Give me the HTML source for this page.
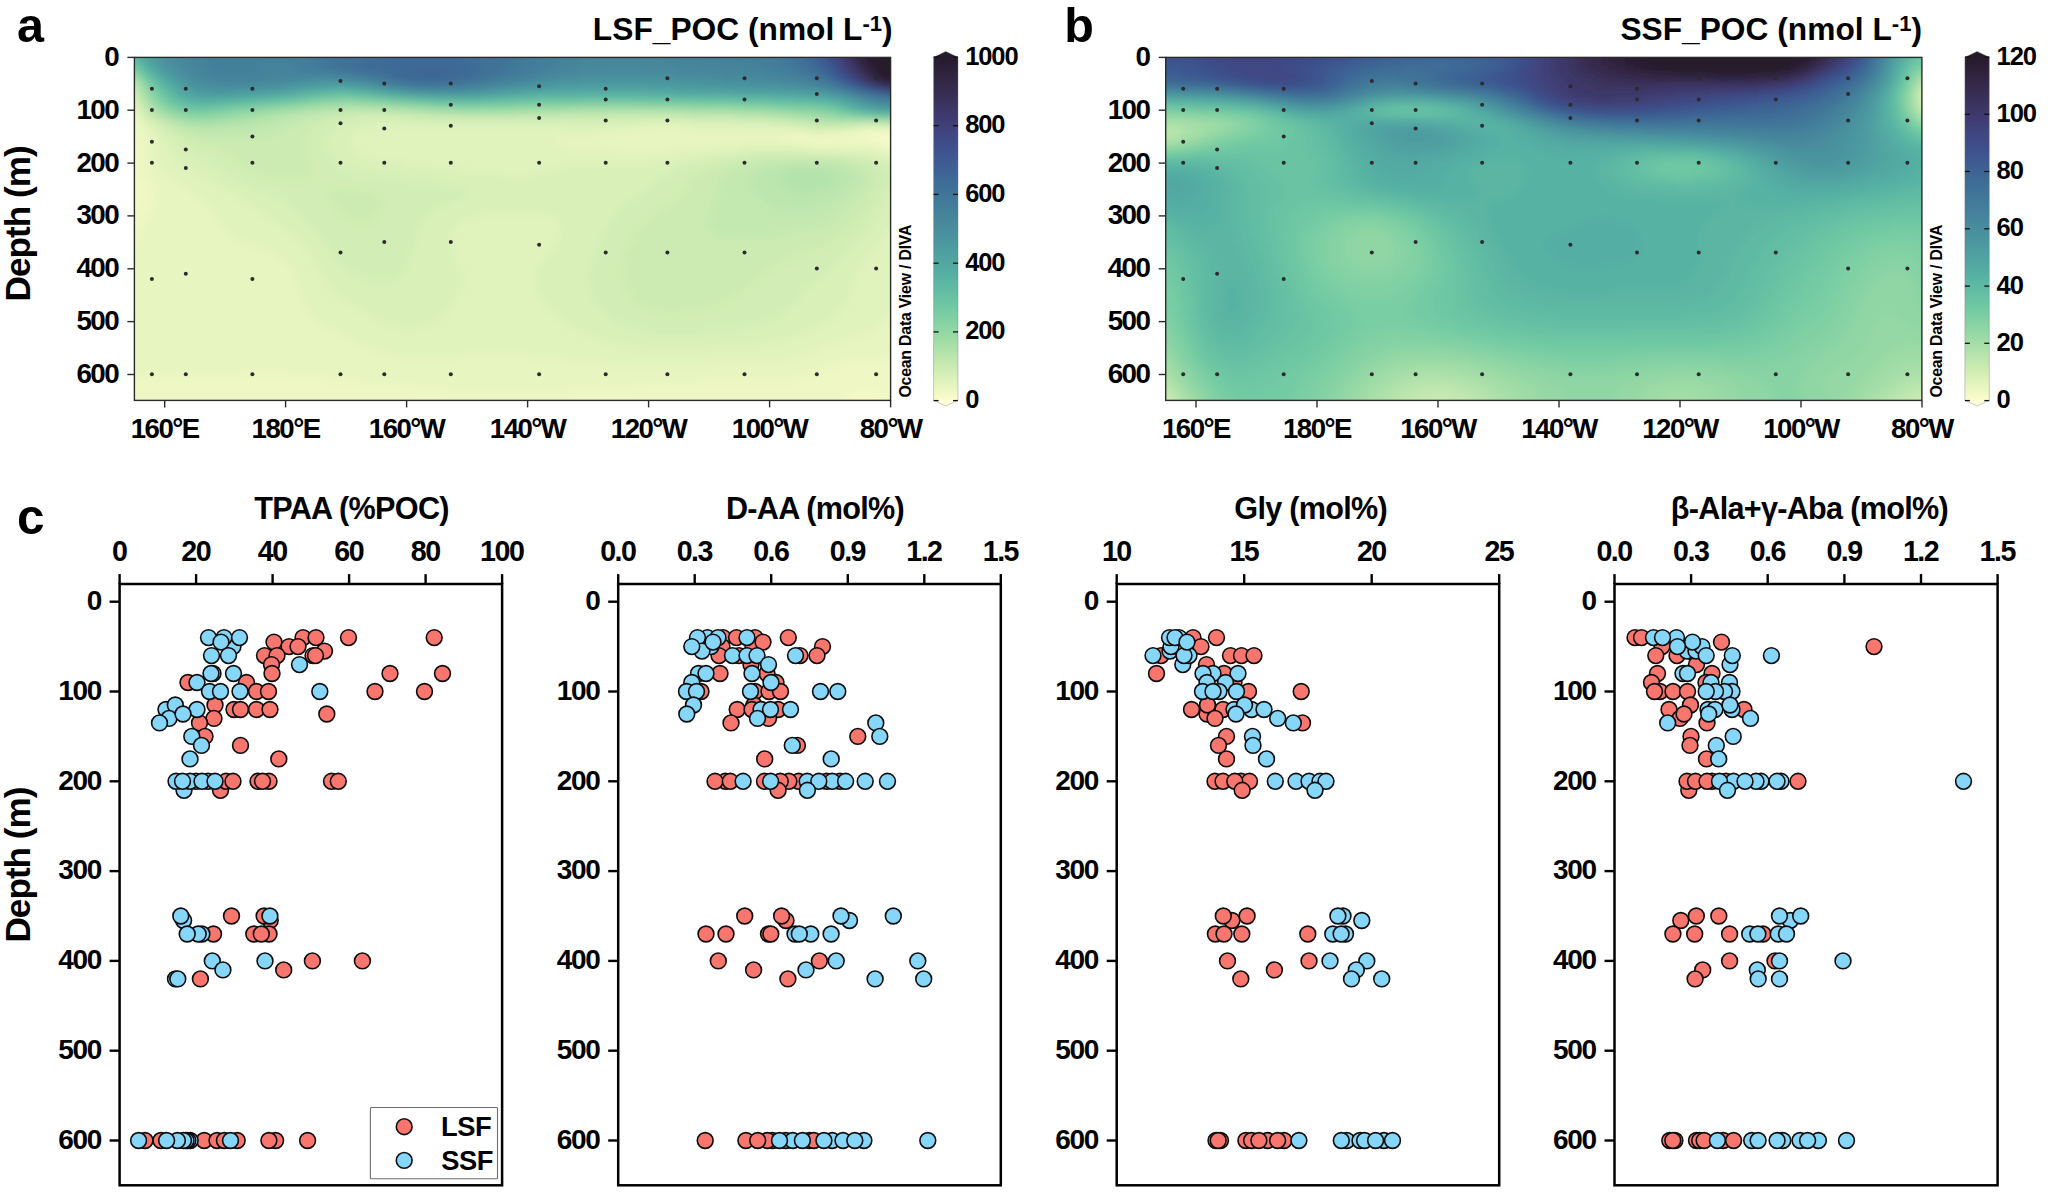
<!DOCTYPE html><html><head><meta charset="utf-8"><title>Figure</title>
<style>html,body{margin:0;padding:0;background:#fff}svg{display:block}</style></head><body>
<svg width="2048" height="1200" viewBox="0 0 2048 1200" font-family='"Liberation Sans", Arial, sans-serif' font-weight="bold" fill="#000">
<rect width="2048" height="1200" fill="#fff"/>
<defs><filter id="blur" x="-5%" y="-5%" width="110%" height="110%"><feGaussianBlur stdDeviation="4"/></filter></defs>
<clipPath id="clipa"><rect x="134.4" y="57.4" width="756.2" height="343.0"/></clipPath>
<g clip-path="url(#clipa)"><g filter="url(#blur)">
<path fill="#f6fac8" d="M863 133h42.5v4.5h-42.5zM869 137h36.5v4.5h-36.5zM884 141h21.5v4.5h-21.5zM122 177h12.5v4.5h-12.5zM122 181h15.5v4.5h-15.5zM122 185h15.5v4.5h-15.5zM122 189h15.5v4.5h-15.5zM122 193h15.5v4.5h-15.5zM122 197h15.5v4.5h-15.5zM122 201h12.5v4.5h-12.5zM854 393h24.5v4.5h-24.5zM845 397h60.5v4.5h-60.5zM845 401h60.5v4.5h-60.5zM845 405h60.5v4.5h-60.5zM845 409h60.5v4.5h-60.5z"/>
<path fill="#eff8c4" d="M122 113h12.5v4.5h-12.5zM122 117h15.5v4.5h-15.5zM122 121h15.5v4.5h-15.5zM122 125h18.5v4.5h-18.5zM122 129h18.5v4.5h-18.5zM857 129h48.5v4.5h-48.5zM122 133h21.5v4.5h-21.5zM788 133h21.5v4.5h-21.5zM827 133h36.5v4.5h-36.5zM122 137h21.5v4.5h-21.5zM782 137h87.5v4.5h-87.5zM122 141h21.5v4.5h-21.5zM806 141h78.5v4.5h-78.5zM122 145h21.5v4.5h-21.5zM878 145h27.5v4.5h-27.5zM122 149h21.5v4.5h-21.5zM122 153h21.5v4.5h-21.5zM122 157h21.5v4.5h-21.5zM122 161h21.5v4.5h-21.5zM122 165h21.5v4.5h-21.5zM122 169h21.5v4.5h-21.5zM122 173h24.5v4.5h-24.5zM134 177h15.5v4.5h-15.5zM137 181h15.5v4.5h-15.5zM137 185h15.5v4.5h-15.5zM137 189h18.5v4.5h-18.5zM137 193h18.5v4.5h-18.5zM137 197h18.5v4.5h-18.5zM134 201h21.5v4.5h-21.5zM122 205h30.5v4.5h-30.5zM122 209h30.5v4.5h-30.5zM122 213h27.5v4.5h-27.5zM122 217h24.5v4.5h-24.5zM122 221h21.5v4.5h-21.5zM122 225h21.5v4.5h-21.5zM122 229h18.5v4.5h-18.5zM122 233h15.5v4.5h-15.5zM122 237h15.5v4.5h-15.5zM122 241h12.5v4.5h-12.5zM884 357h21.5v4.5h-21.5zM842 361h63.5v4.5h-63.5zM827 365h78.5v4.5h-78.5zM818 369h87.5v4.5h-87.5zM242 373h42.5v4.5h-42.5zM809 373h96.5v4.5h-96.5zM122 377h204.5v4.5h-204.5zM794 377h111.5v4.5h-111.5zM122 381h240.5v4.5h-240.5zM698 381h207.5v4.5h-207.5zM122 385h291.5v4.5h-291.5zM638 385h267.5v4.5h-267.5zM122 389h327.5v4.5h-327.5zM566 389h339.5v4.5h-339.5zM122 393h732.5v4.5h-732.5zM878 393h27.5v4.5h-27.5zM122 397h723.5v4.5h-723.5zM122 401h723.5v4.5h-723.5zM122 405h723.5v4.5h-723.5zM122 409h723.5v4.5h-723.5z"/>
<path fill="#e7f5c1" d="M122 105h12.5v4.5h-12.5zM122 109h15.5v4.5h-15.5zM134 113h3.5v4.5h-3.5zM137 117h3.5v4.5h-3.5zM137 121h6.5v4.5h-6.5zM140 125h6.5v4.5h-6.5zM650 125h36.5v4.5h-36.5zM872 125h9.5v4.5h-9.5zM140 129h9.5v4.5h-9.5zM620 129h183.5v4.5h-183.5zM842 129h15.5v4.5h-15.5zM143 133h9.5v4.5h-9.5zM593 133h195.5v4.5h-195.5zM809 133h18.5v4.5h-18.5zM143 137h12.5v4.5h-12.5zM554 137h228.5v4.5h-228.5zM143 141h12.5v4.5h-12.5zM554 141h252.5v4.5h-252.5zM143 145h12.5v4.5h-12.5zM569 145h150.5v4.5h-150.5zM800 145h78.5v4.5h-78.5zM143 149h12.5v4.5h-12.5zM614 149h54.5v4.5h-54.5zM875 149h30.5v4.5h-30.5zM143 153h12.5v4.5h-12.5zM890 153h15.5v4.5h-15.5zM143 157h12.5v4.5h-12.5zM143 161h15.5v4.5h-15.5zM143 165h15.5v4.5h-15.5zM143 169h18.5v4.5h-18.5zM146 173h21.5v4.5h-21.5zM149 177h24.5v4.5h-24.5zM152 181h27.5v4.5h-27.5zM152 185h33.5v4.5h-33.5zM155 189h36.5v4.5h-36.5zM155 193h39.5v4.5h-39.5zM155 197h45.5v4.5h-45.5zM155 201h48.5v4.5h-48.5zM152 205h57.5v4.5h-57.5zM152 209h60.5v4.5h-60.5zM149 213h66.5v4.5h-66.5zM146 217h72.5v4.5h-72.5zM143 221h78.5v4.5h-78.5zM143 225h81.5v4.5h-81.5zM140 229h87.5v4.5h-87.5zM137 233h96.5v4.5h-96.5zM137 237h99.5v4.5h-99.5zM134 241h111.5v4.5h-111.5zM122 245h135.5v4.5h-135.5zM122 249h147.5v4.5h-147.5zM122 253h153.5v4.5h-153.5zM122 257h159.5v4.5h-159.5zM122 261h165.5v4.5h-165.5zM122 265h168.5v4.5h-168.5zM122 269h171.5v4.5h-171.5zM122 273h171.5v4.5h-171.5zM122 277h174.5v4.5h-174.5zM122 281h174.5v4.5h-174.5zM122 285h177.5v4.5h-177.5zM122 289h177.5v4.5h-177.5zM122 293h180.5v4.5h-180.5zM122 297h180.5v4.5h-180.5zM122 301h183.5v4.5h-183.5zM122 305h183.5v4.5h-183.5zM122 309h186.5v4.5h-186.5zM122 313h189.5v4.5h-189.5zM890 313h15.5v4.5h-15.5zM122 317h195.5v4.5h-195.5zM884 317h21.5v4.5h-21.5zM122 321h198.5v4.5h-198.5zM881 321h24.5v4.5h-24.5zM122 325h207.5v4.5h-207.5zM875 325h30.5v4.5h-30.5zM122 329h213.5v4.5h-213.5zM869 329h36.5v4.5h-36.5zM122 333h222.5v4.5h-222.5zM860 333h45.5v4.5h-45.5zM122 337h228.5v4.5h-228.5zM848 337h57.5v4.5h-57.5zM122 341h237.5v4.5h-237.5zM836 341h69.5v4.5h-69.5zM122 345h246.5v4.5h-246.5zM824 345h81.5v4.5h-81.5zM122 349h258.5v4.5h-258.5zM815 349h90.5v4.5h-90.5zM122 353h273.5v4.5h-273.5zM461 353h69.5v4.5h-69.5zM803 353h102.5v4.5h-102.5zM122 357h444.5v4.5h-444.5zM785 357h99.5v4.5h-99.5zM122 361h483.5v4.5h-483.5zM713 361h129.5v4.5h-129.5zM122 365h705.5v4.5h-705.5zM122 369h696.5v4.5h-696.5zM122 373h120.5v4.5h-120.5zM284 373h525.5v4.5h-525.5zM326 377h468.5v4.5h-468.5zM362 381h336.5v4.5h-336.5zM413 385h225.5v4.5h-225.5zM449 389h117.5v4.5h-117.5z"/>
<path fill="#e0f3bd" d="M122 101h12.5v4.5h-12.5zM134 105h3.5v4.5h-3.5zM137 109h3.5v4.5h-3.5zM137 113h3.5v4.5h-3.5zM140 117h3.5v4.5h-3.5zM143 121h6.5v4.5h-6.5zM638 121h51.5v4.5h-51.5zM146 125h9.5v4.5h-9.5zM374 125h192.5v4.5h-192.5zM602 125h48.5v4.5h-48.5zM686 125h102.5v4.5h-102.5zM857 125h15.5v4.5h-15.5zM881 125h24.5v4.5h-24.5zM149 129h9.5v4.5h-9.5zM359 129h261.5v4.5h-261.5zM803 129h39.5v4.5h-39.5zM152 133h9.5v4.5h-9.5zM353 133h240.5v4.5h-240.5zM155 137h9.5v4.5h-9.5zM350 137h204.5v4.5h-204.5zM155 141h12.5v4.5h-12.5zM350 141h204.5v4.5h-204.5zM155 145h15.5v4.5h-15.5zM350 145h219.5v4.5h-219.5zM719 145h81.5v4.5h-81.5zM155 149h15.5v4.5h-15.5zM353 149h261.5v4.5h-261.5zM668 149h69.5v4.5h-69.5zM812 149h63.5v4.5h-63.5zM155 153h18.5v4.5h-18.5zM359 153h342.5v4.5h-342.5zM872 153h18.5v4.5h-18.5zM155 157h21.5v4.5h-21.5zM371 157h303.5v4.5h-303.5zM887 157h18.5v4.5h-18.5zM158 161h21.5v4.5h-21.5zM404 161h246.5v4.5h-246.5zM158 165h30.5v4.5h-30.5zM431 165h132.5v4.5h-132.5zM161 169h33.5v4.5h-33.5zM461 169h87.5v4.5h-87.5zM167 173h33.5v4.5h-33.5zM503 173h27.5v4.5h-27.5zM173 177h36.5v4.5h-36.5zM179 181h36.5v4.5h-36.5zM185 185h36.5v4.5h-36.5zM191 189h39.5v4.5h-39.5zM194 193h42.5v4.5h-42.5zM200 197h42.5v4.5h-42.5zM203 201h45.5v4.5h-45.5zM209 205h45.5v4.5h-45.5zM212 209h48.5v4.5h-48.5zM215 213h51.5v4.5h-51.5zM479 213h72.5v4.5h-72.5zM218 217h54.5v4.5h-54.5zM464 217h93.5v4.5h-93.5zM221 221h57.5v4.5h-57.5zM458 221h102.5v4.5h-102.5zM224 225h60.5v4.5h-60.5zM455 225h105.5v4.5h-105.5zM890 225h15.5v4.5h-15.5zM227 229h60.5v4.5h-60.5zM452 229h108.5v4.5h-108.5zM887 229h18.5v4.5h-18.5zM233 233h60.5v4.5h-60.5zM452 233h108.5v4.5h-108.5zM884 233h21.5v4.5h-21.5zM236 237h60.5v4.5h-60.5zM449 237h108.5v4.5h-108.5zM881 237h24.5v4.5h-24.5zM245 241h57.5v4.5h-57.5zM449 241h108.5v4.5h-108.5zM878 241h27.5v4.5h-27.5zM257 245h48.5v4.5h-48.5zM449 245h105.5v4.5h-105.5zM875 245h30.5v4.5h-30.5zM269 249h39.5v4.5h-39.5zM452 249h99.5v4.5h-99.5zM872 249h33.5v4.5h-33.5zM275 253h36.5v4.5h-36.5zM452 253h96.5v4.5h-96.5zM869 253h36.5v4.5h-36.5zM281 257h30.5v4.5h-30.5zM455 257h90.5v4.5h-90.5zM866 257h39.5v4.5h-39.5zM287 261h27.5v4.5h-27.5zM455 261h87.5v4.5h-87.5zM863 261h42.5v4.5h-42.5zM290 265h27.5v4.5h-27.5zM458 265h81.5v4.5h-81.5zM860 265h45.5v4.5h-45.5zM293 269h27.5v4.5h-27.5zM461 269h75.5v4.5h-75.5zM857 269h48.5v4.5h-48.5zM293 273h30.5v4.5h-30.5zM461 273h75.5v4.5h-75.5zM854 273h51.5v4.5h-51.5zM296 277h30.5v4.5h-30.5zM461 277h75.5v4.5h-75.5zM854 277h51.5v4.5h-51.5zM296 281h30.5v4.5h-30.5zM461 281h75.5v4.5h-75.5zM851 281h54.5v4.5h-54.5zM299 285h30.5v4.5h-30.5zM461 285h75.5v4.5h-75.5zM851 285h54.5v4.5h-54.5zM299 289h36.5v4.5h-36.5zM458 289h78.5v4.5h-78.5zM851 289h54.5v4.5h-54.5zM302 293h36.5v4.5h-36.5zM458 293h81.5v4.5h-81.5zM848 293h57.5v4.5h-57.5zM302 297h42.5v4.5h-42.5zM455 297h87.5v4.5h-87.5zM848 297h57.5v4.5h-57.5zM305 301h45.5v4.5h-45.5zM452 301h93.5v4.5h-93.5zM845 301h60.5v4.5h-60.5zM305 305h51.5v4.5h-51.5zM449 305h99.5v4.5h-99.5zM842 305h63.5v4.5h-63.5zM308 309h54.5v4.5h-54.5zM446 309h105.5v4.5h-105.5zM839 309h66.5v4.5h-66.5zM311 313h60.5v4.5h-60.5zM443 313h114.5v4.5h-114.5zM836 313h54.5v4.5h-54.5zM317 317h60.5v4.5h-60.5zM437 317h123.5v4.5h-123.5zM830 317h54.5v4.5h-54.5zM320 321h66.5v4.5h-66.5zM431 321h135.5v4.5h-135.5zM824 321h57.5v4.5h-57.5zM329 325h72.5v4.5h-72.5zM419 325h153.5v4.5h-153.5zM815 325h60.5v4.5h-60.5zM335 329h246.5v4.5h-246.5zM809 329h60.5v4.5h-60.5zM344 333h246.5v4.5h-246.5zM797 333h63.5v4.5h-63.5zM350 337h249.5v4.5h-249.5zM785 337h63.5v4.5h-63.5zM359 341h255.5v4.5h-255.5zM764 341h72.5v4.5h-72.5zM368 345h267.5v4.5h-267.5zM716 345h108.5v4.5h-108.5zM380 349h435.5v4.5h-435.5zM395 353h66.5v4.5h-66.5zM530 353h273.5v4.5h-273.5zM566 357h219.5v4.5h-219.5zM605 361h108.5v4.5h-108.5z"/>
<path fill="#d9f0b9" d="M122 93h12.5v4.5h-12.5zM122 97h15.5v4.5h-15.5zM134 101h3.5v4.5h-3.5zM137 105h3.5v4.5h-3.5zM140 109h3.5v4.5h-3.5zM140 113h6.5v4.5h-6.5zM143 117h6.5v4.5h-6.5zM365 117h42.5v4.5h-42.5zM149 121h6.5v4.5h-6.5zM344 121h294.5v4.5h-294.5zM689 121h84.5v4.5h-84.5zM155 125h6.5v4.5h-6.5zM335 125h39.5v4.5h-39.5zM566 125h36.5v4.5h-36.5zM788 125h21.5v4.5h-21.5zM845 125h12.5v4.5h-12.5zM158 129h9.5v4.5h-9.5zM329 129h30.5v4.5h-30.5zM161 133h9.5v4.5h-9.5zM326 133h27.5v4.5h-27.5zM164 137h12.5v4.5h-12.5zM326 137h24.5v4.5h-24.5zM167 141h12.5v4.5h-12.5zM326 141h24.5v4.5h-24.5zM170 145h15.5v4.5h-15.5zM326 145h24.5v4.5h-24.5zM170 149h21.5v4.5h-21.5zM326 149h27.5v4.5h-27.5zM737 149h75.5v4.5h-75.5zM173 153h24.5v4.5h-24.5zM329 153h30.5v4.5h-30.5zM701 153h42.5v4.5h-42.5zM836 153h36.5v4.5h-36.5zM176 157h30.5v4.5h-30.5zM332 157h39.5v4.5h-39.5zM674 157h39.5v4.5h-39.5zM872 157h15.5v4.5h-15.5zM179 161h33.5v4.5h-33.5zM335 161h69.5v4.5h-69.5zM650 161h45.5v4.5h-45.5zM881 161h24.5v4.5h-24.5zM188 165h30.5v4.5h-30.5zM341 165h90.5v4.5h-90.5zM563 165h120.5v4.5h-120.5zM890 165h15.5v4.5h-15.5zM194 169h30.5v4.5h-30.5zM353 169h108.5v4.5h-108.5zM548 169h126.5v4.5h-126.5zM200 173h30.5v4.5h-30.5zM374 173h129.5v4.5h-129.5zM530 173h138.5v4.5h-138.5zM209 177h30.5v4.5h-30.5zM401 177h261.5v4.5h-261.5zM215 181h33.5v4.5h-33.5zM431 181h225.5v4.5h-225.5zM221 185h36.5v4.5h-36.5zM455 185h198.5v4.5h-198.5zM890 185h15.5v4.5h-15.5zM230 189h39.5v4.5h-39.5zM467 189h180.5v4.5h-180.5zM887 189h18.5v4.5h-18.5zM236 193h39.5v4.5h-39.5zM464 193h177.5v4.5h-177.5zM887 193h18.5v4.5h-18.5zM242 197h42.5v4.5h-42.5zM455 197h180.5v4.5h-180.5zM884 197h21.5v4.5h-21.5zM248 201h42.5v4.5h-42.5zM446 201h183.5v4.5h-183.5zM884 201h21.5v4.5h-21.5zM254 205h39.5v4.5h-39.5zM437 205h186.5v4.5h-186.5zM881 205h24.5v4.5h-24.5zM260 209h39.5v4.5h-39.5zM431 209h189.5v4.5h-189.5zM878 209h27.5v4.5h-27.5zM266 213h36.5v4.5h-36.5zM425 213h54.5v4.5h-54.5zM551 213h66.5v4.5h-66.5zM878 213h27.5v4.5h-27.5zM272 217h36.5v4.5h-36.5zM422 217h42.5v4.5h-42.5zM557 217h57.5v4.5h-57.5zM875 217h30.5v4.5h-30.5zM278 221h33.5v4.5h-33.5zM419 221h39.5v4.5h-39.5zM560 221h51.5v4.5h-51.5zM872 221h33.5v4.5h-33.5zM284 225h30.5v4.5h-30.5zM419 225h36.5v4.5h-36.5zM560 225h48.5v4.5h-48.5zM869 225h21.5v4.5h-21.5zM287 229h30.5v4.5h-30.5zM416 229h36.5v4.5h-36.5zM560 229h45.5v4.5h-45.5zM866 229h21.5v4.5h-21.5zM293 233h27.5v4.5h-27.5zM416 233h36.5v4.5h-36.5zM560 233h45.5v4.5h-45.5zM863 233h21.5v4.5h-21.5zM296 237h27.5v4.5h-27.5zM413 237h36.5v4.5h-36.5zM557 237h45.5v4.5h-45.5zM860 237h21.5v4.5h-21.5zM302 241h24.5v4.5h-24.5zM413 241h36.5v4.5h-36.5zM557 241h42.5v4.5h-42.5zM854 241h24.5v4.5h-24.5zM305 245h24.5v4.5h-24.5zM413 245h36.5v4.5h-36.5zM554 245h45.5v4.5h-45.5zM851 245h24.5v4.5h-24.5zM308 249h24.5v4.5h-24.5zM410 249h42.5v4.5h-42.5zM551 249h45.5v4.5h-45.5zM848 249h24.5v4.5h-24.5zM311 253h24.5v4.5h-24.5zM410 253h42.5v4.5h-42.5zM548 253h48.5v4.5h-48.5zM842 253h27.5v4.5h-27.5zM311 257h27.5v4.5h-27.5zM407 257h48.5v4.5h-48.5zM545 257h48.5v4.5h-48.5zM839 257h27.5v4.5h-27.5zM314 261h27.5v4.5h-27.5zM407 261h48.5v4.5h-48.5zM542 261h51.5v4.5h-51.5zM833 261h30.5v4.5h-30.5zM317 265h27.5v4.5h-27.5zM404 265h54.5v4.5h-54.5zM539 265h54.5v4.5h-54.5zM830 265h30.5v4.5h-30.5zM320 269h30.5v4.5h-30.5zM404 269h57.5v4.5h-57.5zM536 269h54.5v4.5h-54.5zM827 269h30.5v4.5h-30.5zM323 273h33.5v4.5h-33.5zM401 273h60.5v4.5h-60.5zM536 273h54.5v4.5h-54.5zM821 273h33.5v4.5h-33.5zM326 277h39.5v4.5h-39.5zM395 277h66.5v4.5h-66.5zM536 277h54.5v4.5h-54.5zM815 277h39.5v4.5h-39.5zM326 281h135.5v4.5h-135.5zM536 281h54.5v4.5h-54.5zM812 281h39.5v4.5h-39.5zM329 285h132.5v4.5h-132.5zM536 285h54.5v4.5h-54.5zM806 285h45.5v4.5h-45.5zM335 289h123.5v4.5h-123.5zM536 289h57.5v4.5h-57.5zM803 289h48.5v4.5h-48.5zM338 293h120.5v4.5h-120.5zM539 293h54.5v4.5h-54.5zM800 293h48.5v4.5h-48.5zM344 297h111.5v4.5h-111.5zM542 297h54.5v4.5h-54.5zM797 297h51.5v4.5h-51.5zM350 301h102.5v4.5h-102.5zM545 301h51.5v4.5h-51.5zM791 301h54.5v4.5h-54.5zM356 305h93.5v4.5h-93.5zM548 305h51.5v4.5h-51.5zM788 305h54.5v4.5h-54.5zM362 309h84.5v4.5h-84.5zM551 309h54.5v4.5h-54.5zM785 309h54.5v4.5h-54.5zM371 313h72.5v4.5h-72.5zM557 313h51.5v4.5h-51.5zM779 313h57.5v4.5h-57.5zM377 317h60.5v4.5h-60.5zM560 317h54.5v4.5h-54.5zM773 317h57.5v4.5h-57.5zM386 321h45.5v4.5h-45.5zM566 321h54.5v4.5h-54.5zM761 321h63.5v4.5h-63.5zM401 325h18.5v4.5h-18.5zM572 325h60.5v4.5h-60.5zM743 325h72.5v4.5h-72.5zM581 329h69.5v4.5h-69.5zM707 329h102.5v4.5h-102.5zM590 333h207.5v4.5h-207.5zM599 337h186.5v4.5h-186.5zM614 341h150.5v4.5h-150.5zM635 345h81.5v4.5h-81.5z"/>
<path fill="#d2edb5" d="M122 89h12.5v4.5h-12.5zM134 93h3.5v4.5h-3.5zM137 101h3.5v4.5h-3.5zM140 105h3.5v4.5h-3.5zM146 113h3.5v4.5h-3.5zM353 113h33.5v4.5h-33.5zM149 117h3.5v4.5h-3.5zM326 117h39.5v4.5h-39.5zM407 117h330.5v4.5h-330.5zM155 121h6.5v4.5h-6.5zM317 121h27.5v4.5h-27.5zM773 121h21.5v4.5h-21.5zM161 125h6.5v4.5h-6.5zM311 125h24.5v4.5h-24.5zM809 125h36.5v4.5h-36.5zM167 129h9.5v4.5h-9.5zM308 129h21.5v4.5h-21.5zM170 133h12.5v4.5h-12.5zM305 133h21.5v4.5h-21.5zM176 137h12.5v4.5h-12.5zM305 137h21.5v4.5h-21.5zM179 141h21.5v4.5h-21.5zM305 141h21.5v4.5h-21.5zM185 145h33.5v4.5h-33.5zM305 145h21.5v4.5h-21.5zM191 149h36.5v4.5h-36.5zM305 149h21.5v4.5h-21.5zM197 153h36.5v4.5h-36.5zM305 153h24.5v4.5h-24.5zM743 153h93.5v4.5h-93.5zM206 157h30.5v4.5h-30.5zM308 157h24.5v4.5h-24.5zM713 157h36.5v4.5h-36.5zM848 157h24.5v4.5h-24.5zM212 161h30.5v4.5h-30.5zM308 161h27.5v4.5h-27.5zM695 161h33.5v4.5h-33.5zM866 161h15.5v4.5h-15.5zM218 165h30.5v4.5h-30.5zM308 165h33.5v4.5h-33.5zM683 165h30.5v4.5h-30.5zM875 165h15.5v4.5h-15.5zM224 169h33.5v4.5h-33.5zM308 169h45.5v4.5h-45.5zM674 169h30.5v4.5h-30.5zM878 169h27.5v4.5h-27.5zM230 173h39.5v4.5h-39.5zM308 173h66.5v4.5h-66.5zM668 173h30.5v4.5h-30.5zM881 173h24.5v4.5h-24.5zM239 177h54.5v4.5h-54.5zM299 177h102.5v4.5h-102.5zM662 177h30.5v4.5h-30.5zM881 177h24.5v4.5h-24.5zM248 181h183.5v4.5h-183.5zM656 181h33.5v4.5h-33.5zM878 181h27.5v4.5h-27.5zM257 185h198.5v4.5h-198.5zM653 185h36.5v4.5h-36.5zM878 185h12.5v4.5h-12.5zM269 189h63.5v4.5h-63.5zM356 189h111.5v4.5h-111.5zM647 189h39.5v4.5h-39.5zM875 189h12.5v4.5h-12.5zM275 193h54.5v4.5h-54.5zM371 193h93.5v4.5h-93.5zM641 193h42.5v4.5h-42.5zM872 193h15.5v4.5h-15.5zM284 197h48.5v4.5h-48.5zM377 197h78.5v4.5h-78.5zM635 197h42.5v4.5h-42.5zM872 197h12.5v4.5h-12.5zM290 201h45.5v4.5h-45.5zM380 201h66.5v4.5h-66.5zM629 201h45.5v4.5h-45.5zM869 201h15.5v4.5h-15.5zM293 205h45.5v4.5h-45.5zM380 205h57.5v4.5h-57.5zM623 205h45.5v4.5h-45.5zM866 205h15.5v4.5h-15.5zM299 209h42.5v4.5h-42.5zM377 209h54.5v4.5h-54.5zM620 209h42.5v4.5h-42.5zM863 209h15.5v4.5h-15.5zM302 213h45.5v4.5h-45.5zM374 213h51.5v4.5h-51.5zM617 213h39.5v4.5h-39.5zM860 213h18.5v4.5h-18.5zM308 217h45.5v4.5h-45.5zM371 217h51.5v4.5h-51.5zM614 217h36.5v4.5h-36.5zM857 217h18.5v4.5h-18.5zM311 221h108.5v4.5h-108.5zM611 221h36.5v4.5h-36.5zM854 221h18.5v4.5h-18.5zM314 225h105.5v4.5h-105.5zM608 225h33.5v4.5h-33.5zM848 225h21.5v4.5h-21.5zM317 229h99.5v4.5h-99.5zM605 229h33.5v4.5h-33.5zM845 229h21.5v4.5h-21.5zM320 233h96.5v4.5h-96.5zM605 233h30.5v4.5h-30.5zM839 233h24.5v4.5h-24.5zM323 237h90.5v4.5h-90.5zM602 237h33.5v4.5h-33.5zM833 237h27.5v4.5h-27.5zM326 241h87.5v4.5h-87.5zM599 241h33.5v4.5h-33.5zM827 241h27.5v4.5h-27.5zM329 245h84.5v4.5h-84.5zM599 245h30.5v4.5h-30.5zM818 245h33.5v4.5h-33.5zM332 249h78.5v4.5h-78.5zM596 249h33.5v4.5h-33.5zM803 249h45.5v4.5h-45.5zM335 253h75.5v4.5h-75.5zM596 253h30.5v4.5h-30.5zM791 253h51.5v4.5h-51.5zM338 257h69.5v4.5h-69.5zM593 257h33.5v4.5h-33.5zM785 257h54.5v4.5h-54.5zM341 261h66.5v4.5h-66.5zM593 261h33.5v4.5h-33.5zM776 261h57.5v4.5h-57.5zM344 265h60.5v4.5h-60.5zM593 265h30.5v4.5h-30.5zM770 265h60.5v4.5h-60.5zM350 269h54.5v4.5h-54.5zM590 269h33.5v4.5h-33.5zM764 269h63.5v4.5h-63.5zM356 273h45.5v4.5h-45.5zM590 273h33.5v4.5h-33.5zM758 273h63.5v4.5h-63.5zM365 277h30.5v4.5h-30.5zM590 277h36.5v4.5h-36.5zM755 277h60.5v4.5h-60.5zM590 281h36.5v4.5h-36.5zM749 281h63.5v4.5h-63.5zM590 285h36.5v4.5h-36.5zM746 285h60.5v4.5h-60.5zM593 289h36.5v4.5h-36.5zM740 289h63.5v4.5h-63.5zM593 293h39.5v4.5h-39.5zM734 293h66.5v4.5h-66.5zM596 297h39.5v4.5h-39.5zM728 297h69.5v4.5h-69.5zM596 301h45.5v4.5h-45.5zM716 301h75.5v4.5h-75.5zM599 305h48.5v4.5h-48.5zM704 305h84.5v4.5h-84.5zM605 309h66.5v4.5h-66.5zM677 309h108.5v4.5h-108.5zM608 313h171.5v4.5h-171.5zM614 317h159.5v4.5h-159.5zM620 321h141.5v4.5h-141.5zM632 325h111.5v4.5h-111.5zM650 329h57.5v4.5h-57.5z"/>
<path fill="#cbebb2" d="M122 85h12.5v4.5h-12.5zM134 89h3.5v4.5h-3.5zM137 97h3.5v4.5h-3.5zM143 109h3.5v4.5h-3.5zM149 113h3.5v4.5h-3.5zM323 113h30.5v4.5h-30.5zM386 113h39.5v4.5h-39.5zM608 113h63.5v4.5h-63.5zM152 117h6.5v4.5h-6.5zM305 117h21.5v4.5h-21.5zM737 117h36.5v4.5h-36.5zM161 121h6.5v4.5h-6.5zM296 121h21.5v4.5h-21.5zM794 121h15.5v4.5h-15.5zM863 121h18.5v4.5h-18.5zM167 125h9.5v4.5h-9.5zM287 125h24.5v4.5h-24.5zM176 129h9.5v4.5h-9.5zM281 129h27.5v4.5h-27.5zM182 133h15.5v4.5h-15.5zM272 133h33.5v4.5h-33.5zM188 137h117.5v4.5h-117.5zM200 141h105.5v4.5h-105.5zM218 145h87.5v4.5h-87.5zM227 149h78.5v4.5h-78.5zM233 153h72.5v4.5h-72.5zM236 157h72.5v4.5h-72.5zM749 157h99.5v4.5h-99.5zM242 161h66.5v4.5h-66.5zM728 161h30.5v4.5h-30.5zM848 161h18.5v4.5h-18.5zM248 165h60.5v4.5h-60.5zM713 165h30.5v4.5h-30.5zM860 165h15.5v4.5h-15.5zM257 169h51.5v4.5h-51.5zM704 169h27.5v4.5h-27.5zM866 169h12.5v4.5h-12.5zM269 173h39.5v4.5h-39.5zM698 173h27.5v4.5h-27.5zM866 173h15.5v4.5h-15.5zM293 177h6.5v4.5h-6.5zM692 177h30.5v4.5h-30.5zM866 177h15.5v4.5h-15.5zM689 181h30.5v4.5h-30.5zM866 181h12.5v4.5h-12.5zM689 185h30.5v4.5h-30.5zM863 185h15.5v4.5h-15.5zM332 189h24.5v4.5h-24.5zM686 189h33.5v4.5h-33.5zM860 189h15.5v4.5h-15.5zM329 193h42.5v4.5h-42.5zM683 193h33.5v4.5h-33.5zM857 193h15.5v4.5h-15.5zM332 197h45.5v4.5h-45.5zM677 197h39.5v4.5h-39.5zM854 197h18.5v4.5h-18.5zM335 201h45.5v4.5h-45.5zM674 201h39.5v4.5h-39.5zM851 201h18.5v4.5h-18.5zM338 205h42.5v4.5h-42.5zM668 205h45.5v4.5h-45.5zM848 205h18.5v4.5h-18.5zM341 209h36.5v4.5h-36.5zM662 209h48.5v4.5h-48.5zM842 209h21.5v4.5h-21.5zM347 213h27.5v4.5h-27.5zM656 213h54.5v4.5h-54.5zM839 213h21.5v4.5h-21.5zM353 217h18.5v4.5h-18.5zM650 217h60.5v4.5h-60.5zM833 217h24.5v4.5h-24.5zM647 221h60.5v4.5h-60.5zM827 221h27.5v4.5h-27.5zM641 225h69.5v4.5h-69.5zM812 225h36.5v4.5h-36.5zM638 229h75.5v4.5h-75.5zM791 229h54.5v4.5h-54.5zM635 233h84.5v4.5h-84.5zM773 233h66.5v4.5h-66.5zM635 237h198.5v4.5h-198.5zM632 241h195.5v4.5h-195.5zM629 245h189.5v4.5h-189.5zM629 249h174.5v4.5h-174.5zM626 253h165.5v4.5h-165.5zM626 257h159.5v4.5h-159.5zM626 261h150.5v4.5h-150.5zM623 265h147.5v4.5h-147.5zM623 269h141.5v4.5h-141.5zM623 273h135.5v4.5h-135.5zM626 277h129.5v4.5h-129.5zM626 281h123.5v4.5h-123.5zM626 285h120.5v4.5h-120.5zM629 289h111.5v4.5h-111.5zM632 293h102.5v4.5h-102.5zM635 297h93.5v4.5h-93.5zM641 301h75.5v4.5h-75.5zM647 305h57.5v4.5h-57.5zM671 309h6.5v4.5h-6.5z"/>
<path fill="#c3e8b0" d="M122 81h12.5v4.5h-12.5zM134 85h3.5v4.5h-3.5zM137 93h3.5v4.5h-3.5zM140 101h3.5v4.5h-3.5zM143 105h3.5v4.5h-3.5zM146 109h3.5v4.5h-3.5zM332 109h57.5v4.5h-57.5zM152 113h3.5v4.5h-3.5zM302 113h21.5v4.5h-21.5zM425 113h36.5v4.5h-36.5zM518 113h90.5v4.5h-90.5zM671 113h60.5v4.5h-60.5zM158 117h3.5v4.5h-3.5zM284 117h21.5v4.5h-21.5zM773 117h18.5v4.5h-18.5zM167 121h6.5v4.5h-6.5zM272 121h24.5v4.5h-24.5zM809 121h15.5v4.5h-15.5zM842 121h21.5v4.5h-21.5zM881 121h24.5v4.5h-24.5zM176 125h9.5v4.5h-9.5zM257 125h30.5v4.5h-30.5zM185 129h96.5v4.5h-96.5zM197 133h75.5v4.5h-75.5zM758 161h36.5v4.5h-36.5zM821 161h27.5v4.5h-27.5zM743 165h27.5v4.5h-27.5zM845 165h15.5v4.5h-15.5zM731 169h30.5v4.5h-30.5zM851 169h15.5v4.5h-15.5zM725 173h30.5v4.5h-30.5zM854 173h12.5v4.5h-12.5zM722 177h30.5v4.5h-30.5zM854 177h12.5v4.5h-12.5zM719 181h33.5v4.5h-33.5zM851 181h15.5v4.5h-15.5zM719 185h33.5v4.5h-33.5zM848 185h15.5v4.5h-15.5zM719 189h36.5v4.5h-36.5zM845 189h15.5v4.5h-15.5zM716 193h42.5v4.5h-42.5zM839 193h18.5v4.5h-18.5zM716 197h45.5v4.5h-45.5zM833 197h21.5v4.5h-21.5zM713 201h54.5v4.5h-54.5zM827 201h24.5v4.5h-24.5zM713 205h60.5v4.5h-60.5zM818 205h30.5v4.5h-30.5zM710 209h132.5v4.5h-132.5zM710 213h129.5v4.5h-129.5zM710 217h123.5v4.5h-123.5zM707 221h120.5v4.5h-120.5zM710 225h102.5v4.5h-102.5zM713 229h78.5v4.5h-78.5zM719 233h54.5v4.5h-54.5z"/>
<path fill="#bbe6ae" d="M134 81h3.5v4.5h-3.5zM137 89h3.5v4.5h-3.5zM140 97h3.5v4.5h-3.5zM143 101h3.5v4.5h-3.5zM146 105h3.5v4.5h-3.5zM149 109h3.5v4.5h-3.5zM314 109h18.5v4.5h-18.5zM389 109h24.5v4.5h-24.5zM155 113h3.5v4.5h-3.5zM287 113h15.5v4.5h-15.5zM461 113h57.5v4.5h-57.5zM731 113h33.5v4.5h-33.5zM161 117h6.5v4.5h-6.5zM266 117h18.5v4.5h-18.5zM791 117h15.5v4.5h-15.5zM173 121h6.5v4.5h-6.5zM248 121h24.5v4.5h-24.5zM824 121h18.5v4.5h-18.5zM185 125h18.5v4.5h-18.5zM212 125h45.5v4.5h-45.5zM794 161h27.5v4.5h-27.5zM770 165h75.5v4.5h-75.5zM761 169h27.5v4.5h-27.5zM833 169h18.5v4.5h-18.5zM755 173h27.5v4.5h-27.5zM836 173h18.5v4.5h-18.5zM752 177h27.5v4.5h-27.5zM836 177h18.5v4.5h-18.5zM752 181h30.5v4.5h-30.5zM833 181h18.5v4.5h-18.5zM752 185h33.5v4.5h-33.5zM827 185h21.5v4.5h-21.5zM755 189h39.5v4.5h-39.5zM812 189h33.5v4.5h-33.5zM758 193h81.5v4.5h-81.5zM761 197h72.5v4.5h-72.5zM767 201h60.5v4.5h-60.5zM773 205h45.5v4.5h-45.5z"/>
<path fill="#b4e3ac" d="M122 77h12.5v4.5h-12.5zM137 85h3.5v4.5h-3.5zM140 93h3.5v4.5h-3.5zM143 97h3.5v4.5h-3.5zM146 101h3.5v4.5h-3.5zM149 105h3.5v4.5h-3.5zM341 105h24.5v4.5h-24.5zM152 109h3.5v4.5h-3.5zM299 109h15.5v4.5h-15.5zM413 109h18.5v4.5h-18.5zM560 109h126.5v4.5h-126.5zM158 113h6.5v4.5h-6.5zM272 113h15.5v4.5h-15.5zM764 113h18.5v4.5h-18.5zM167 117h6.5v4.5h-6.5zM248 117h18.5v4.5h-18.5zM806 117h12.5v4.5h-12.5zM179 121h9.5v4.5h-9.5zM224 121h24.5v4.5h-24.5zM203 125h9.5v4.5h-9.5zM788 169h45.5v4.5h-45.5zM782 173h54.5v4.5h-54.5zM779 177h57.5v4.5h-57.5zM782 181h51.5v4.5h-51.5zM785 185h42.5v4.5h-42.5zM794 189h18.5v4.5h-18.5z"/>
<path fill="#ace0a9" d="M134 77h3.5v4.5h-3.5zM137 81h3.5v4.5h-3.5zM140 89h3.5v4.5h-3.5zM143 93h3.5v4.5h-3.5zM152 105h3.5v4.5h-3.5zM320 105h21.5v4.5h-21.5zM365 105h24.5v4.5h-24.5zM155 109h3.5v4.5h-3.5zM284 109h15.5v4.5h-15.5zM431 109h24.5v4.5h-24.5zM518 109h42.5v4.5h-42.5zM686 109h51.5v4.5h-51.5zM164 113h3.5v4.5h-3.5zM257 113h15.5v4.5h-15.5zM782 113h15.5v4.5h-15.5zM173 117h6.5v4.5h-6.5zM233 117h15.5v4.5h-15.5zM818 117h15.5v4.5h-15.5zM188 121h36.5v4.5h-36.5z"/>
<path fill="#a4dea7" d="M140 85h3.5v4.5h-3.5zM143 89h3.5v4.5h-3.5zM146 97h3.5v4.5h-3.5zM149 101h3.5v4.5h-3.5zM155 105h3.5v4.5h-3.5zM308 105h12.5v4.5h-12.5zM389 105h15.5v4.5h-15.5zM158 109h3.5v4.5h-3.5zM272 109h12.5v4.5h-12.5zM455 109h63.5v4.5h-63.5zM737 109h27.5v4.5h-27.5zM167 113h3.5v4.5h-3.5zM245 113h12.5v4.5h-12.5zM797 113h15.5v4.5h-15.5zM179 117h9.5v4.5h-9.5zM218 117h15.5v4.5h-15.5zM833 117h21.5v4.5h-21.5z"/>
<path fill="#9ddba5" d="M122 73h12.5v4.5h-12.5zM140 81h3.5v4.5h-3.5zM146 93h3.5v4.5h-3.5zM149 97h3.5v4.5h-3.5zM152 101h3.5v4.5h-3.5zM341 101h15.5v4.5h-15.5zM296 105h12.5v4.5h-12.5zM404 105h15.5v4.5h-15.5zM575 105h75.5v4.5h-75.5zM161 109h6.5v4.5h-6.5zM260 109h12.5v4.5h-12.5zM764 109h18.5v4.5h-18.5zM170 113h6.5v4.5h-6.5zM233 113h12.5v4.5h-12.5zM812 113h12.5v4.5h-12.5zM188 117h30.5v4.5h-30.5zM854 117h18.5v4.5h-18.5z"/>
<path fill="#96d8a5" d="M134 73h3.5v4.5h-3.5zM137 77h3.5v4.5h-3.5zM143 85h3.5v4.5h-3.5zM146 89h3.5v4.5h-3.5zM149 93h3.5v4.5h-3.5zM152 97h3.5v4.5h-3.5zM155 101h3.5v4.5h-3.5zM323 101h18.5v4.5h-18.5zM356 101h21.5v4.5h-21.5zM158 105h3.5v4.5h-3.5zM284 105h12.5v4.5h-12.5zM419 105h15.5v4.5h-15.5zM536 105h39.5v4.5h-39.5zM650 105h54.5v4.5h-54.5zM167 109h3.5v4.5h-3.5zM248 109h12.5v4.5h-12.5zM782 109h18.5v4.5h-18.5zM176 113h6.5v4.5h-6.5zM221 113h12.5v4.5h-12.5zM824 113h9.5v4.5h-9.5zM872 117h12.5v4.5h-12.5z"/>
<path fill="#8fd6a4" d="M143 81h3.5v4.5h-3.5zM146 85h3.5v4.5h-3.5zM158 101h3.5v4.5h-3.5zM311 101h12.5v4.5h-12.5zM377 101h12.5v4.5h-12.5zM161 105h3.5v4.5h-3.5zM275 105h9.5v4.5h-9.5zM434 105h18.5v4.5h-18.5zM506 105h30.5v4.5h-30.5zM704 105h45.5v4.5h-45.5zM170 109h3.5v4.5h-3.5zM236 109h12.5v4.5h-12.5zM800 109h15.5v4.5h-15.5zM182 113h9.5v4.5h-9.5zM209 113h12.5v4.5h-12.5zM833 113h6.5v4.5h-6.5zM884 117h21.5v4.5h-21.5z"/>
<path fill="#88d3a4" d="M122 69h12.5v4.5h-12.5zM137 73h3.5v4.5h-3.5zM140 77h3.5v4.5h-3.5zM149 89h3.5v4.5h-3.5zM152 93h3.5v4.5h-3.5zM155 97h3.5v4.5h-3.5zM302 101h9.5v4.5h-9.5zM389 101h9.5v4.5h-9.5zM164 105h3.5v4.5h-3.5zM263 105h12.5v4.5h-12.5zM452 105h54.5v4.5h-54.5zM749 105h24.5v4.5h-24.5zM173 109h6.5v4.5h-6.5zM227 109h9.5v4.5h-9.5zM815 109h12.5v4.5h-12.5zM191 113h18.5v4.5h-18.5zM839 113h6.5v4.5h-6.5z"/>
<path fill="#81d0a4" d="M134 69h3.5v4.5h-3.5zM146 81h3.5v4.5h-3.5zM149 85h3.5v4.5h-3.5zM152 89h3.5v4.5h-3.5zM155 93h3.5v4.5h-3.5zM158 97h3.5v4.5h-3.5zM332 97h27.5v4.5h-27.5zM161 101h3.5v4.5h-3.5zM293 101h9.5v4.5h-9.5zM398 101h12.5v4.5h-12.5zM578 101h51.5v4.5h-51.5zM167 105h6.5v4.5h-6.5zM251 105h12.5v4.5h-12.5zM773 105h18.5v4.5h-18.5zM179 109h6.5v4.5h-6.5zM218 109h9.5v4.5h-9.5zM827 109h6.5v4.5h-6.5zM845 113h6.5v4.5h-6.5z"/>
<path fill="#7acea4" d="M140 73h3.5v4.5h-3.5zM143 77h3.5v4.5h-3.5zM161 97h3.5v4.5h-3.5zM320 97h12.5v4.5h-12.5zM359 97h12.5v4.5h-12.5zM164 101h3.5v4.5h-3.5zM284 101h9.5v4.5h-9.5zM410 101h12.5v4.5h-12.5zM533 101h45.5v4.5h-45.5zM629 101h63.5v4.5h-63.5zM173 105h3.5v4.5h-3.5zM239 105h12.5v4.5h-12.5zM791 105h21.5v4.5h-21.5zM185 109h9.5v4.5h-9.5zM206 109h12.5v4.5h-12.5zM833 109h3.5v4.5h-3.5zM851 113h6.5v4.5h-6.5z"/>
<path fill="#73cba3" d="M122 65h12.5v4.5h-12.5zM137 69h3.5v4.5h-3.5zM149 81h3.5v4.5h-3.5zM152 85h3.5v4.5h-3.5zM155 89h3.5v4.5h-3.5zM158 93h3.5v4.5h-3.5zM311 97h9.5v4.5h-9.5zM371 97h9.5v4.5h-9.5zM167 101h3.5v4.5h-3.5zM275 101h9.5v4.5h-9.5zM422 101h12.5v4.5h-12.5zM509 101h24.5v4.5h-24.5zM692 101h54.5v4.5h-54.5zM176 105h3.5v4.5h-3.5zM230 105h9.5v4.5h-9.5zM812 105h12.5v4.5h-12.5zM194 109h12.5v4.5h-12.5zM836 109h6.5v4.5h-6.5zM857 113h6.5v4.5h-6.5z"/>
<path fill="#6ec8a3" d="M134 65h3.5v4.5h-3.5zM143 73h3.5v4.5h-3.5zM146 77h3.5v4.5h-3.5zM155 85h3.5v4.5h-3.5zM158 89h3.5v4.5h-3.5zM161 93h3.5v4.5h-3.5zM164 97h3.5v4.5h-3.5zM302 97h9.5v4.5h-9.5zM380 97h9.5v4.5h-9.5zM170 101h3.5v4.5h-3.5zM263 101h12.5v4.5h-12.5zM434 101h21.5v4.5h-21.5zM485 101h24.5v4.5h-24.5zM746 101h27.5v4.5h-27.5zM179 105h6.5v4.5h-6.5zM221 105h9.5v4.5h-9.5zM824 105h6.5v4.5h-6.5zM842 109h3.5v4.5h-3.5zM863 113h9.5v4.5h-9.5z"/>
<path fill="#6ac4a3" d="M122 61h12.5v4.5h-12.5zM140 69h3.5v4.5h-3.5zM149 77h3.5v4.5h-3.5zM152 81h3.5v4.5h-3.5zM164 93h3.5v4.5h-3.5zM332 93h24.5v4.5h-24.5zM167 97h3.5v4.5h-3.5zM296 97h6.5v4.5h-6.5zM389 97h9.5v4.5h-9.5zM173 101h6.5v4.5h-6.5zM251 101h12.5v4.5h-12.5zM455 101h30.5v4.5h-30.5zM773 101h21.5v4.5h-21.5zM185 105h9.5v4.5h-9.5zM209 105h12.5v4.5h-12.5zM830 105h6.5v4.5h-6.5zM845 109h3.5v4.5h-3.5zM872 113h6.5v4.5h-6.5z"/>
<path fill="#66c0a3" d="M134 61h3.5v4.5h-3.5zM137 65h3.5v4.5h-3.5zM146 73h3.5v4.5h-3.5zM155 81h3.5v4.5h-3.5zM158 85h3.5v4.5h-3.5zM161 89h3.5v4.5h-3.5zM320 93h12.5v4.5h-12.5zM356 93h9.5v4.5h-9.5zM170 97h3.5v4.5h-3.5zM287 97h9.5v4.5h-9.5zM398 97h9.5v4.5h-9.5zM536 97h135.5v4.5h-135.5zM179 101h3.5v4.5h-3.5zM239 101h12.5v4.5h-12.5zM794 101h24.5v4.5h-24.5zM194 105h15.5v4.5h-15.5zM836 105h3.5v4.5h-3.5zM848 109h6.5v4.5h-6.5zM878 113h12.5v4.5h-12.5z"/>
<path fill="#62bda3" d="M122 57h12.5v4.5h-12.5zM143 69h3.5v4.5h-3.5zM152 77h3.5v4.5h-3.5zM161 85h3.5v4.5h-3.5zM164 89h3.5v4.5h-3.5zM167 93h3.5v4.5h-3.5zM311 93h9.5v4.5h-9.5zM365 93h9.5v4.5h-9.5zM173 97h3.5v4.5h-3.5zM278 97h9.5v4.5h-9.5zM407 97h9.5v4.5h-9.5zM515 97h21.5v4.5h-21.5zM671 97h60.5v4.5h-60.5zM182 101h6.5v4.5h-6.5zM227 101h12.5v4.5h-12.5zM818 101h9.5v4.5h-9.5zM839 105h3.5v4.5h-3.5zM854 109h3.5v4.5h-3.5zM890 113h15.5v4.5h-15.5z"/>
<path fill="#5eb9a3" d="M122 45h12.5v4.5h-12.5zM122 49h12.5v4.5h-12.5zM122 53h12.5v4.5h-12.5zM134 57h3.5v4.5h-3.5zM137 61h3.5v4.5h-3.5zM140 65h3.5v4.5h-3.5zM149 73h3.5v4.5h-3.5zM158 81h3.5v4.5h-3.5zM167 89h3.5v4.5h-3.5zM170 93h3.5v4.5h-3.5zM305 93h6.5v4.5h-6.5zM374 93h6.5v4.5h-6.5zM176 97h3.5v4.5h-3.5zM266 97h12.5v4.5h-12.5zM416 97h12.5v4.5h-12.5zM497 97h18.5v4.5h-18.5zM731 97h42.5v4.5h-42.5zM188 101h6.5v4.5h-6.5zM215 101h12.5v4.5h-12.5zM827 101h6.5v4.5h-6.5zM842 105h3.5v4.5h-3.5zM857 109h3.5v4.5h-3.5z"/>
<path fill="#5bb5a3" d="M134 45h3.5v4.5h-3.5zM134 49h3.5v4.5h-3.5zM134 53h3.5v4.5h-3.5zM146 69h3.5v4.5h-3.5zM152 73h3.5v4.5h-3.5zM155 77h3.5v4.5h-3.5zM161 81h3.5v4.5h-3.5zM164 85h3.5v4.5h-3.5zM332 89h18.5v4.5h-18.5zM173 93h3.5v4.5h-3.5zM296 93h9.5v4.5h-9.5zM380 93h6.5v4.5h-6.5zM179 97h6.5v4.5h-6.5zM254 97h12.5v4.5h-12.5zM428 97h18.5v4.5h-18.5zM479 97h18.5v4.5h-18.5zM773 97h24.5v4.5h-24.5zM194 101h21.5v4.5h-21.5zM833 101h3.5v4.5h-3.5zM845 105h3.5v4.5h-3.5zM860 109h3.5v4.5h-3.5z"/>
<path fill="#57b2a3" d="M137 45h3.5v4.5h-3.5zM137 49h3.5v4.5h-3.5zM137 53h3.5v4.5h-3.5zM137 57h3.5v4.5h-3.5zM140 61h3.5v4.5h-3.5zM143 65h3.5v4.5h-3.5zM149 69h3.5v4.5h-3.5zM158 77h3.5v4.5h-3.5zM167 85h3.5v4.5h-3.5zM170 89h3.5v4.5h-3.5zM320 89h12.5v4.5h-12.5zM350 89h9.5v4.5h-9.5zM176 93h3.5v4.5h-3.5zM287 93h9.5v4.5h-9.5zM386 93h6.5v4.5h-6.5zM533 93h147.5v4.5h-147.5zM185 97h3.5v4.5h-3.5zM242 97h12.5v4.5h-12.5zM446 97h33.5v4.5h-33.5zM797 97h21.5v4.5h-21.5zM836 101h6.5v4.5h-6.5zM848 105h3.5v4.5h-3.5zM863 109h6.5v4.5h-6.5z"/>
<path fill="#55aea3" d="M140 45h3.5v4.5h-3.5zM140 49h3.5v4.5h-3.5zM140 53h3.5v4.5h-3.5zM140 57h3.5v4.5h-3.5zM143 61h3.5v4.5h-3.5zM146 65h3.5v4.5h-3.5zM155 73h3.5v4.5h-3.5zM161 77h3.5v4.5h-3.5zM164 81h3.5v4.5h-3.5zM170 85h3.5v4.5h-3.5zM173 89h3.5v4.5h-3.5zM311 89h9.5v4.5h-9.5zM359 89h9.5v4.5h-9.5zM179 93h3.5v4.5h-3.5zM281 93h6.5v4.5h-6.5zM392 93h9.5v4.5h-9.5zM515 93h18.5v4.5h-18.5zM680 93h57.5v4.5h-57.5zM188 97h9.5v4.5h-9.5zM224 97h18.5v4.5h-18.5zM818 97h9.5v4.5h-9.5zM842 101h3.5v4.5h-3.5zM851 105h6.5v4.5h-6.5zM869 109h3.5v4.5h-3.5z"/>
<path fill="#53aaa2" d="M143 57h3.5v4.5h-3.5zM152 69h3.5v4.5h-3.5zM158 73h3.5v4.5h-3.5zM167 81h3.5v4.5h-3.5zM173 85h3.5v4.5h-3.5zM176 89h3.5v4.5h-3.5zM302 89h9.5v4.5h-9.5zM368 89h6.5v4.5h-6.5zM182 93h6.5v4.5h-6.5zM269 93h12.5v4.5h-12.5zM401 93h6.5v4.5h-6.5zM503 93h12.5v4.5h-12.5zM737 93h45.5v4.5h-45.5zM197 97h27.5v4.5h-27.5zM827 97h6.5v4.5h-6.5zM845 101h3.5v4.5h-3.5zM857 105h3.5v4.5h-3.5zM872 109h6.5v4.5h-6.5z"/>
<path fill="#52a7a2" d="M143 45h3.5v4.5h-3.5zM143 49h3.5v4.5h-3.5zM143 53h3.5v4.5h-3.5zM146 61h3.5v4.5h-3.5zM149 65h3.5v4.5h-3.5zM155 69h3.5v4.5h-3.5zM164 77h3.5v4.5h-3.5zM170 81h3.5v4.5h-3.5zM329 85h18.5v4.5h-18.5zM179 89h3.5v4.5h-3.5zM296 89h6.5v4.5h-6.5zM374 89h3.5v4.5h-3.5zM545 89h129.5v4.5h-129.5zM188 93h6.5v4.5h-6.5zM257 93h12.5v4.5h-12.5zM407 93h9.5v4.5h-9.5zM491 93h12.5v4.5h-12.5zM782 93h24.5v4.5h-24.5zM833 97h6.5v4.5h-6.5zM848 101h3.5v4.5h-3.5zM860 105h3.5v4.5h-3.5zM878 109h27.5v4.5h-27.5z"/>
<path fill="#50a3a1" d="M146 45h3.5v4.5h-3.5zM146 49h3.5v4.5h-3.5zM146 53h3.5v4.5h-3.5zM146 57h3.5v4.5h-3.5zM149 61h3.5v4.5h-3.5zM152 65h3.5v4.5h-3.5zM158 69h3.5v4.5h-3.5zM161 73h3.5v4.5h-3.5zM167 77h3.5v4.5h-3.5zM173 81h3.5v4.5h-3.5zM176 85h3.5v4.5h-3.5zM314 85h15.5v4.5h-15.5zM347 85h9.5v4.5h-9.5zM182 89h6.5v4.5h-6.5zM287 89h9.5v4.5h-9.5zM377 89h6.5v4.5h-6.5zM527 89h18.5v4.5h-18.5zM674 89h48.5v4.5h-48.5zM194 93h6.5v4.5h-6.5zM236 93h21.5v4.5h-21.5zM416 93h15.5v4.5h-15.5zM473 93h18.5v4.5h-18.5zM806 93h15.5v4.5h-15.5zM839 97h3.5v4.5h-3.5zM851 101h3.5v4.5h-3.5zM863 105h3.5v4.5h-3.5z"/>
<path fill="#4f9fa1" d="M149 45h3.5v4.5h-3.5zM149 49h3.5v4.5h-3.5zM149 53h3.5v4.5h-3.5zM149 57h3.5v4.5h-3.5zM152 61h3.5v4.5h-3.5zM155 65h3.5v4.5h-3.5zM161 69h3.5v4.5h-3.5zM164 73h3.5v4.5h-3.5zM170 77h3.5v4.5h-3.5zM176 81h3.5v4.5h-3.5zM179 85h6.5v4.5h-6.5zM305 85h9.5v4.5h-9.5zM356 85h6.5v4.5h-6.5zM572 85h81.5v4.5h-81.5zM188 89h3.5v4.5h-3.5zM278 89h9.5v4.5h-9.5zM383 89h6.5v4.5h-6.5zM512 89h15.5v4.5h-15.5zM722 89h51.5v4.5h-51.5zM200 93h36.5v4.5h-36.5zM431 93h42.5v4.5h-42.5zM821 93h6.5v4.5h-6.5zM842 97h3.5v4.5h-3.5zM854 101h3.5v4.5h-3.5zM866 105h3.5v4.5h-3.5z"/>
<path fill="#4d9ca0" d="M152 45h3.5v4.5h-3.5zM152 49h3.5v4.5h-3.5zM152 53h3.5v4.5h-3.5zM152 57h3.5v4.5h-3.5zM155 61h3.5v4.5h-3.5zM158 65h3.5v4.5h-3.5zM164 69h3.5v4.5h-3.5zM167 73h3.5v4.5h-3.5zM173 77h3.5v4.5h-3.5zM179 81h3.5v4.5h-3.5zM185 85h3.5v4.5h-3.5zM296 85h9.5v4.5h-9.5zM362 85h6.5v4.5h-6.5zM545 85h27.5v4.5h-27.5zM653 85h45.5v4.5h-45.5zM191 89h6.5v4.5h-6.5zM263 89h15.5v4.5h-15.5zM389 89h6.5v4.5h-6.5zM503 89h9.5v4.5h-9.5zM773 89h27.5v4.5h-27.5zM827 93h6.5v4.5h-6.5zM845 97h6.5v4.5h-6.5zM857 101h6.5v4.5h-6.5zM869 105h6.5v4.5h-6.5z"/>
<path fill="#4c98a0" d="M155 45h6.5v4.5h-6.5zM155 49h6.5v4.5h-6.5zM155 53h6.5v4.5h-6.5zM155 57h3.5v4.5h-3.5zM158 61h3.5v4.5h-3.5zM161 65h3.5v4.5h-3.5zM167 69h3.5v4.5h-3.5zM170 73h3.5v4.5h-3.5zM176 77h3.5v4.5h-3.5zM182 81h3.5v4.5h-3.5zM320 81h24.5v4.5h-24.5zM578 81h81.5v4.5h-81.5zM188 85h3.5v4.5h-3.5zM287 85h9.5v4.5h-9.5zM368 85h6.5v4.5h-6.5zM527 85h18.5v4.5h-18.5zM698 85h45.5v4.5h-45.5zM197 89h12.5v4.5h-12.5zM236 89h27.5v4.5h-27.5zM395 89h6.5v4.5h-6.5zM491 89h12.5v4.5h-12.5zM800 89h15.5v4.5h-15.5zM833 93h6.5v4.5h-6.5zM851 97h3.5v4.5h-3.5zM863 101h3.5v4.5h-3.5zM875 105h6.5v4.5h-6.5z"/>
<path fill="#4a959f" d="M161 45h3.5v4.5h-3.5zM161 49h3.5v4.5h-3.5zM161 53h3.5v4.5h-3.5zM158 57h6.5v4.5h-6.5zM161 61h3.5v4.5h-3.5zM164 65h3.5v4.5h-3.5zM170 69h3.5v4.5h-3.5zM173 73h6.5v4.5h-6.5zM179 77h6.5v4.5h-6.5zM185 81h6.5v4.5h-6.5zM305 81h15.5v4.5h-15.5zM344 81h12.5v4.5h-12.5zM554 81h24.5v4.5h-24.5zM659 81h39.5v4.5h-39.5zM191 85h6.5v4.5h-6.5zM278 85h9.5v4.5h-9.5zM374 85h6.5v4.5h-6.5zM518 85h9.5v4.5h-9.5zM743 85h42.5v4.5h-42.5zM209 89h27.5v4.5h-27.5zM401 89h6.5v4.5h-6.5zM482 89h9.5v4.5h-9.5zM815 89h6.5v4.5h-6.5zM839 93h3.5v4.5h-3.5zM854 97h3.5v4.5h-3.5zM866 101h3.5v4.5h-3.5zM881 105h24.5v4.5h-24.5z"/>
<path fill="#49919e" d="M164 45h6.5v4.5h-6.5zM164 49h6.5v4.5h-6.5zM164 53h6.5v4.5h-6.5zM164 57h3.5v4.5h-3.5zM164 61h6.5v4.5h-6.5zM167 65h6.5v4.5h-6.5zM173 69h3.5v4.5h-3.5zM179 73h3.5v4.5h-3.5zM185 77h3.5v4.5h-3.5zM572 77h108.5v4.5h-108.5zM191 81h3.5v4.5h-3.5zM293 81h12.5v4.5h-12.5zM356 81h6.5v4.5h-6.5zM536 81h18.5v4.5h-18.5zM698 81h45.5v4.5h-45.5zM197 85h12.5v4.5h-12.5zM260 85h18.5v4.5h-18.5zM380 85h3.5v4.5h-3.5zM506 85h12.5v4.5h-12.5zM785 85h18.5v4.5h-18.5zM407 89h12.5v4.5h-12.5zM467 89h15.5v4.5h-15.5zM821 89h6.5v4.5h-6.5zM842 93h3.5v4.5h-3.5zM857 97h3.5v4.5h-3.5zM869 101h6.5v4.5h-6.5z"/>
<path fill="#488e9e" d="M170 45h3.5v4.5h-3.5zM170 49h3.5v4.5h-3.5zM170 53h3.5v4.5h-3.5zM167 57h6.5v4.5h-6.5zM170 61h3.5v4.5h-3.5zM173 65h6.5v4.5h-6.5zM176 69h6.5v4.5h-6.5zM182 73h6.5v4.5h-6.5zM581 73h93.5v4.5h-93.5zM188 77h6.5v4.5h-6.5zM314 77h18.5v4.5h-18.5zM551 77h21.5v4.5h-21.5zM680 77h42.5v4.5h-42.5zM194 81h9.5v4.5h-9.5zM281 81h12.5v4.5h-12.5zM362 81h6.5v4.5h-6.5zM524 81h12.5v4.5h-12.5zM743 81h36.5v4.5h-36.5zM209 85h51.5v4.5h-51.5zM383 85h6.5v4.5h-6.5zM497 85h9.5v4.5h-9.5zM803 85h9.5v4.5h-9.5zM419 89h48.5v4.5h-48.5zM827 89h6.5v4.5h-6.5zM845 93h6.5v4.5h-6.5zM860 97h6.5v4.5h-6.5zM875 101h6.5v4.5h-6.5z"/>
<path fill="#478a9d" d="M173 45h9.5v4.5h-9.5zM173 49h9.5v4.5h-9.5zM173 53h9.5v4.5h-9.5zM173 57h6.5v4.5h-6.5zM173 61h9.5v4.5h-9.5zM179 65h6.5v4.5h-6.5zM608 65h33.5v4.5h-33.5zM182 69h9.5v4.5h-9.5zM581 69h99.5v4.5h-99.5zM188 73h6.5v4.5h-6.5zM560 73h21.5v4.5h-21.5zM674 73h48.5v4.5h-48.5zM194 77h6.5v4.5h-6.5zM293 77h21.5v4.5h-21.5zM332 77h18.5v4.5h-18.5zM536 77h15.5v4.5h-15.5zM722 77h42.5v4.5h-42.5zM203 81h18.5v4.5h-18.5zM260 81h21.5v4.5h-21.5zM368 81h3.5v4.5h-3.5zM515 81h9.5v4.5h-9.5zM779 81h18.5v4.5h-18.5zM389 85h6.5v4.5h-6.5zM488 85h9.5v4.5h-9.5zM812 85h9.5v4.5h-9.5zM833 89h3.5v4.5h-3.5zM851 93h3.5v4.5h-3.5zM866 97h3.5v4.5h-3.5zM881 101h24.5v4.5h-24.5z"/>
<path fill="#46869c" d="M182 45h9.5v4.5h-9.5zM575 45h87.5v4.5h-87.5zM182 49h9.5v4.5h-9.5zM575 49h87.5v4.5h-87.5zM182 53h9.5v4.5h-9.5zM575 53h87.5v4.5h-87.5zM179 57h12.5v4.5h-12.5zM581 57h84.5v4.5h-84.5zM182 61h9.5v4.5h-9.5zM581 61h96.5v4.5h-96.5zM185 65h9.5v4.5h-9.5zM572 65h36.5v4.5h-36.5zM641 65h60.5v4.5h-60.5zM191 69h9.5v4.5h-9.5zM560 69h21.5v4.5h-21.5zM680 69h60.5v4.5h-60.5zM194 73h9.5v4.5h-9.5zM545 73h15.5v4.5h-15.5zM722 73h39.5v4.5h-39.5zM200 77h15.5v4.5h-15.5zM266 77h27.5v4.5h-27.5zM350 77h6.5v4.5h-6.5zM527 77h9.5v4.5h-9.5zM764 77h21.5v4.5h-21.5zM221 81h39.5v4.5h-39.5zM371 81h6.5v4.5h-6.5zM506 81h9.5v4.5h-9.5zM797 81h12.5v4.5h-12.5zM395 85h3.5v4.5h-3.5zM479 85h9.5v4.5h-9.5zM821 85h3.5v4.5h-3.5zM836 89h6.5v4.5h-6.5zM854 93h3.5v4.5h-3.5zM869 97h6.5v4.5h-6.5z"/>
<path fill="#44839b" d="M191 45h12.5v4.5h-12.5zM551 45h24.5v4.5h-24.5zM662 45h39.5v4.5h-39.5zM191 49h12.5v4.5h-12.5zM551 49h24.5v4.5h-24.5zM662 49h39.5v4.5h-39.5zM191 53h12.5v4.5h-12.5zM551 53h24.5v4.5h-24.5zM662 53h39.5v4.5h-39.5zM191 57h12.5v4.5h-12.5zM557 57h24.5v4.5h-24.5zM665 57h57.5v4.5h-57.5zM191 61h15.5v4.5h-15.5zM260 61h27.5v4.5h-27.5zM560 61h21.5v4.5h-21.5zM677 61h75.5v4.5h-75.5zM194 65h15.5v4.5h-15.5zM260 65h30.5v4.5h-30.5zM554 65h18.5v4.5h-18.5zM701 65h60.5v4.5h-60.5zM200 69h12.5v4.5h-12.5zM260 69h39.5v4.5h-39.5zM545 69h15.5v4.5h-15.5zM740 69h30.5v4.5h-30.5zM203 73h21.5v4.5h-21.5zM248 73h87.5v4.5h-87.5zM533 73h12.5v4.5h-12.5zM761 73h21.5v4.5h-21.5zM215 77h51.5v4.5h-51.5zM356 77h9.5v4.5h-9.5zM515 77h12.5v4.5h-12.5zM785 77h15.5v4.5h-15.5zM377 81h6.5v4.5h-6.5zM497 81h9.5v4.5h-9.5zM809 81h6.5v4.5h-6.5zM398 85h9.5v4.5h-9.5zM467 85h12.5v4.5h-12.5zM824 85h6.5v4.5h-6.5zM842 89h3.5v4.5h-3.5zM857 93h3.5v4.5h-3.5zM875 97h6.5v4.5h-6.5z"/>
<path fill="#43809a" d="M203 45h99.5v4.5h-99.5zM536 45h15.5v4.5h-15.5zM701 45h60.5v4.5h-60.5zM203 49h99.5v4.5h-99.5zM536 49h15.5v4.5h-15.5zM701 49h60.5v4.5h-60.5zM203 53h99.5v4.5h-99.5zM536 53h15.5v4.5h-15.5zM701 53h60.5v4.5h-60.5zM203 57h99.5v4.5h-99.5zM539 57h18.5v4.5h-18.5zM722 57h42.5v4.5h-42.5zM206 61h54.5v4.5h-54.5zM287 61h15.5v4.5h-15.5zM542 61h18.5v4.5h-18.5zM752 61h18.5v4.5h-18.5zM209 65h51.5v4.5h-51.5zM290 65h15.5v4.5h-15.5zM539 65h15.5v4.5h-15.5zM761 65h15.5v4.5h-15.5zM212 69h48.5v4.5h-48.5zM299 69h18.5v4.5h-18.5zM533 69h12.5v4.5h-12.5zM770 69h15.5v4.5h-15.5zM224 73h24.5v4.5h-24.5zM335 73h12.5v4.5h-12.5zM521 73h12.5v4.5h-12.5zM782 73h12.5v4.5h-12.5zM365 77h6.5v4.5h-6.5zM506 77h9.5v4.5h-9.5zM800 77h6.5v4.5h-6.5zM383 81h3.5v4.5h-3.5zM488 81h9.5v4.5h-9.5zM815 81h6.5v4.5h-6.5zM407 85h9.5v4.5h-9.5zM455 85h12.5v4.5h-12.5zM830 85h3.5v4.5h-3.5zM845 89h3.5v4.5h-3.5zM860 93h3.5v4.5h-3.5zM881 97h24.5v4.5h-24.5z"/>
<path fill="#427c9a" d="M302 45h18.5v4.5h-18.5zM521 45h15.5v4.5h-15.5zM761 45h15.5v4.5h-15.5zM302 49h18.5v4.5h-18.5zM521 49h15.5v4.5h-15.5zM761 49h15.5v4.5h-15.5zM302 53h18.5v4.5h-18.5zM521 53h15.5v4.5h-15.5zM761 53h15.5v4.5h-15.5zM302 57h12.5v4.5h-12.5zM524 57h15.5v4.5h-15.5zM764 57h15.5v4.5h-15.5zM302 61h9.5v4.5h-9.5zM527 61h15.5v4.5h-15.5zM770 61h12.5v4.5h-12.5zM305 65h9.5v4.5h-9.5zM527 65h12.5v4.5h-12.5zM776 65h12.5v4.5h-12.5zM317 69h12.5v4.5h-12.5zM521 69h12.5v4.5h-12.5zM785 69h9.5v4.5h-9.5zM347 73h9.5v4.5h-9.5zM509 73h12.5v4.5h-12.5zM794 73h9.5v4.5h-9.5zM371 77h6.5v4.5h-6.5zM497 77h9.5v4.5h-9.5zM806 77h6.5v4.5h-6.5zM386 81h6.5v4.5h-6.5zM479 81h9.5v4.5h-9.5zM821 81h3.5v4.5h-3.5zM416 85h39.5v4.5h-39.5zM833 85h3.5v4.5h-3.5zM848 89h3.5v4.5h-3.5zM863 93h6.5v4.5h-6.5z"/>
<path fill="#427999" d="M320 45h15.5v4.5h-15.5zM509 45h12.5v4.5h-12.5zM776 45h9.5v4.5h-9.5zM320 49h15.5v4.5h-15.5zM509 49h12.5v4.5h-12.5zM776 49h9.5v4.5h-9.5zM320 53h15.5v4.5h-15.5zM509 53h12.5v4.5h-12.5zM776 53h9.5v4.5h-9.5zM314 57h12.5v4.5h-12.5zM512 57h12.5v4.5h-12.5zM779 57h9.5v4.5h-9.5zM311 61h9.5v4.5h-9.5zM515 61h12.5v4.5h-12.5zM782 61h9.5v4.5h-9.5zM314 65h12.5v4.5h-12.5zM515 65h12.5v4.5h-12.5zM788 65h6.5v4.5h-6.5zM329 69h12.5v4.5h-12.5zM509 69h12.5v4.5h-12.5zM794 69h6.5v4.5h-6.5zM356 73h9.5v4.5h-9.5zM500 73h9.5v4.5h-9.5zM803 73h6.5v4.5h-6.5zM377 77h6.5v4.5h-6.5zM488 77h9.5v4.5h-9.5zM812 77h6.5v4.5h-6.5zM392 81h6.5v4.5h-6.5zM470 81h9.5v4.5h-9.5zM824 81h6.5v4.5h-6.5zM836 85h3.5v4.5h-3.5zM851 89h3.5v4.5h-3.5zM869 93h3.5v4.5h-3.5z"/>
<path fill="#417598" d="M335 45h15.5v4.5h-15.5zM494 45h15.5v4.5h-15.5zM785 45h9.5v4.5h-9.5zM335 49h15.5v4.5h-15.5zM494 49h15.5v4.5h-15.5zM785 49h9.5v4.5h-9.5zM335 53h15.5v4.5h-15.5zM494 53h15.5v4.5h-15.5zM785 53h9.5v4.5h-9.5zM326 57h12.5v4.5h-12.5zM497 57h15.5v4.5h-15.5zM788 57h6.5v4.5h-6.5zM320 61h9.5v4.5h-9.5zM503 61h12.5v4.5h-12.5zM791 61h6.5v4.5h-6.5zM326 65h9.5v4.5h-9.5zM503 65h12.5v4.5h-12.5zM794 65h6.5v4.5h-6.5zM341 69h12.5v4.5h-12.5zM500 69h9.5v4.5h-9.5zM800 69h6.5v4.5h-6.5zM365 73h9.5v4.5h-9.5zM491 73h9.5v4.5h-9.5zM809 73h6.5v4.5h-6.5zM383 77h6.5v4.5h-6.5zM479 77h9.5v4.5h-9.5zM818 77h6.5v4.5h-6.5zM398 81h9.5v4.5h-9.5zM458 81h12.5v4.5h-12.5zM830 81h3.5v4.5h-3.5zM839 85h3.5v4.5h-3.5zM854 89h3.5v4.5h-3.5zM872 93h6.5v4.5h-6.5z"/>
<path fill="#407297" d="M350 45h18.5v4.5h-18.5zM482 45h12.5v4.5h-12.5zM794 45h6.5v4.5h-6.5zM350 49h18.5v4.5h-18.5zM482 49h12.5v4.5h-12.5zM794 49h6.5v4.5h-6.5zM350 53h18.5v4.5h-18.5zM482 53h12.5v4.5h-12.5zM794 53h6.5v4.5h-6.5zM338 57h15.5v4.5h-15.5zM485 57h12.5v4.5h-12.5zM794 57h6.5v4.5h-6.5zM329 61h12.5v4.5h-12.5zM488 61h15.5v4.5h-15.5zM797 61h6.5v4.5h-6.5zM335 65h12.5v4.5h-12.5zM491 65h12.5v4.5h-12.5zM800 65h6.5v4.5h-6.5zM353 69h12.5v4.5h-12.5zM488 69h12.5v4.5h-12.5zM806 69h6.5v4.5h-6.5zM374 73h9.5v4.5h-9.5zM482 73h9.5v4.5h-9.5zM815 73h3.5v4.5h-3.5zM389 77h6.5v4.5h-6.5zM470 77h9.5v4.5h-9.5zM824 77h3.5v4.5h-3.5zM407 81h9.5v4.5h-9.5zM443 81h15.5v4.5h-15.5zM833 81h3.5v4.5h-3.5zM842 85h3.5v4.5h-3.5zM857 89h3.5v4.5h-3.5zM878 93h3.5v4.5h-3.5z"/>
<path fill="#3f6f97" d="M368 45h21.5v4.5h-21.5zM464 45h18.5v4.5h-18.5zM800 45h3.5v4.5h-3.5zM368 49h21.5v4.5h-21.5zM464 49h18.5v4.5h-18.5zM800 49h3.5v4.5h-3.5zM368 53h21.5v4.5h-21.5zM464 53h18.5v4.5h-18.5zM800 53h3.5v4.5h-3.5zM353 57h27.5v4.5h-27.5zM464 57h21.5v4.5h-21.5zM800 57h6.5v4.5h-6.5zM341 61h15.5v4.5h-15.5zM470 61h18.5v4.5h-18.5zM803 61h6.5v4.5h-6.5zM347 65h18.5v4.5h-18.5zM476 65h15.5v4.5h-15.5zM806 65h6.5v4.5h-6.5zM365 69h15.5v4.5h-15.5zM476 69h12.5v4.5h-12.5zM812 69h6.5v4.5h-6.5zM383 73h9.5v4.5h-9.5zM470 73h12.5v4.5h-12.5zM818 73h6.5v4.5h-6.5zM395 77h9.5v4.5h-9.5zM458 77h12.5v4.5h-12.5zM827 77h3.5v4.5h-3.5zM416 81h27.5v4.5h-27.5zM836 81h3.5v4.5h-3.5zM845 85h3.5v4.5h-3.5zM860 89h3.5v4.5h-3.5zM881 93h6.5v4.5h-6.5z"/>
<path fill="#3e6b96" d="M389 45h75.5v4.5h-75.5zM803 45h6.5v4.5h-6.5zM389 49h75.5v4.5h-75.5zM803 49h6.5v4.5h-6.5zM389 53h75.5v4.5h-75.5zM803 53h6.5v4.5h-6.5zM380 57h84.5v4.5h-84.5zM806 57h3.5v4.5h-3.5zM356 61h114.5v4.5h-114.5zM809 61h3.5v4.5h-3.5zM365 65h51.5v4.5h-51.5zM449 65h27.5v4.5h-27.5zM812 65h3.5v4.5h-3.5zM380 69h18.5v4.5h-18.5zM458 69h18.5v4.5h-18.5zM818 69h3.5v4.5h-3.5zM392 73h9.5v4.5h-9.5zM455 73h15.5v4.5h-15.5zM824 73h3.5v4.5h-3.5zM404 77h12.5v4.5h-12.5zM443 77h15.5v4.5h-15.5zM830 77h3.5v4.5h-3.5zM848 85h3.5v4.5h-3.5zM863 89h3.5v4.5h-3.5zM887 93h18.5v4.5h-18.5z"/>
<path fill="#3e6795" d="M809 45h3.5v4.5h-3.5zM809 49h3.5v4.5h-3.5zM809 53h3.5v4.5h-3.5zM809 57h6.5v4.5h-6.5zM812 61h3.5v4.5h-3.5zM416 65h33.5v4.5h-33.5zM815 65h6.5v4.5h-6.5zM398 69h60.5v4.5h-60.5zM821 69h3.5v4.5h-3.5zM401 73h54.5v4.5h-54.5zM827 73h3.5v4.5h-3.5zM416 77h27.5v4.5h-27.5zM833 77h3.5v4.5h-3.5zM839 81h3.5v4.5h-3.5zM851 85h3.5v4.5h-3.5zM866 89h3.5v4.5h-3.5z"/>
<path fill="#3e6394" d="M812 45h3.5v4.5h-3.5zM812 49h3.5v4.5h-3.5zM812 53h3.5v4.5h-3.5zM815 57h3.5v4.5h-3.5zM815 61h6.5v4.5h-6.5zM821 65h3.5v4.5h-3.5zM824 69h3.5v4.5h-3.5zM830 73h3.5v4.5h-3.5zM836 77h3.5v4.5h-3.5zM842 81h3.5v4.5h-3.5zM854 85h3.5v4.5h-3.5zM869 89h3.5v4.5h-3.5z"/>
<path fill="#3e5f93" d="M815 45h3.5v4.5h-3.5zM815 49h3.5v4.5h-3.5zM815 53h3.5v4.5h-3.5zM818 57h3.5v4.5h-3.5zM821 61h3.5v4.5h-3.5zM824 65h3.5v4.5h-3.5zM827 69h3.5v4.5h-3.5zM833 73h3.5v4.5h-3.5zM845 81h3.5v4.5h-3.5zM872 89h3.5v4.5h-3.5z"/>
<path fill="#3e5b92" d="M818 45h3.5v4.5h-3.5zM818 49h3.5v4.5h-3.5zM818 53h3.5v4.5h-3.5zM821 57h3.5v4.5h-3.5zM824 61h3.5v4.5h-3.5zM827 65h3.5v4.5h-3.5zM830 69h3.5v4.5h-3.5zM839 77h3.5v4.5h-3.5zM848 81h3.5v4.5h-3.5zM857 85h3.5v4.5h-3.5zM875 89h3.5v4.5h-3.5z"/>
<path fill="#3e5790" d="M821 45h3.5v4.5h-3.5zM821 49h3.5v4.5h-3.5zM821 53h3.5v4.5h-3.5zM824 57h3.5v4.5h-3.5zM827 61h3.5v4.5h-3.5zM830 65h3.5v4.5h-3.5zM833 69h3.5v4.5h-3.5zM836 73h3.5v4.5h-3.5zM842 77h3.5v4.5h-3.5zM860 85h3.5v4.5h-3.5zM878 89h3.5v4.5h-3.5z"/>
<path fill="#3e538f" d="M824 45h3.5v4.5h-3.5zM824 49h3.5v4.5h-3.5zM824 53h3.5v4.5h-3.5zM827 57h3.5v4.5h-3.5zM836 69h3.5v4.5h-3.5zM839 73h3.5v4.5h-3.5zM845 77h3.5v4.5h-3.5zM851 81h3.5v4.5h-3.5zM863 85h3.5v4.5h-3.5zM881 89h3.5v4.5h-3.5z"/>
<path fill="#3e508c" d="M827 45h3.5v4.5h-3.5zM827 49h3.5v4.5h-3.5zM827 53h3.5v4.5h-3.5zM830 61h3.5v4.5h-3.5zM833 65h3.5v4.5h-3.5zM842 73h3.5v4.5h-3.5zM854 81h3.5v4.5h-3.5zM866 85h3.5v4.5h-3.5zM884 89h6.5v4.5h-6.5z"/>
<path fill="#3e4c88" d="M830 45h3.5v4.5h-3.5zM830 49h3.5v4.5h-3.5zM830 53h3.5v4.5h-3.5zM830 57h3.5v4.5h-3.5zM833 61h3.5v4.5h-3.5zM836 65h3.5v4.5h-3.5zM839 69h3.5v4.5h-3.5zM848 77h3.5v4.5h-3.5zM857 81h3.5v4.5h-3.5zM890 89h15.5v4.5h-15.5z"/>
<path fill="#3f4984" d="M833 45h3.5v4.5h-3.5zM833 49h3.5v4.5h-3.5zM833 53h3.5v4.5h-3.5zM833 57h3.5v4.5h-3.5zM836 61h3.5v4.5h-3.5zM839 65h3.5v4.5h-3.5zM842 69h3.5v4.5h-3.5zM845 73h3.5v4.5h-3.5zM851 77h3.5v4.5h-3.5zM869 85h3.5v4.5h-3.5z"/>
<path fill="#3f467f" d="M836 57h3.5v4.5h-3.5zM839 61h3.5v4.5h-3.5zM845 69h3.5v4.5h-3.5zM848 73h3.5v4.5h-3.5zM860 81h3.5v4.5h-3.5zM872 85h3.5v4.5h-3.5z"/>
<path fill="#3f427b" d="M836 45h3.5v4.5h-3.5zM836 49h3.5v4.5h-3.5zM836 53h3.5v4.5h-3.5zM842 65h3.5v4.5h-3.5zM854 77h3.5v4.5h-3.5zM863 81h3.5v4.5h-3.5zM875 85h3.5v4.5h-3.5z"/>
<path fill="#403f77" d="M839 45h3.5v4.5h-3.5zM839 49h3.5v4.5h-3.5zM839 53h3.5v4.5h-3.5zM839 57h3.5v4.5h-3.5zM842 61h3.5v4.5h-3.5zM845 65h3.5v4.5h-3.5zM848 69h3.5v4.5h-3.5zM851 73h3.5v4.5h-3.5zM857 77h3.5v4.5h-3.5zM878 85h3.5v4.5h-3.5z"/>
<path fill="#403c72" d="M842 57h3.5v4.5h-3.5zM845 61h3.5v4.5h-3.5zM848 65h3.5v4.5h-3.5zM851 69h3.5v4.5h-3.5zM854 73h3.5v4.5h-3.5zM866 81h3.5v4.5h-3.5zM881 85h3.5v4.5h-3.5z"/>
<path fill="#3e396d" d="M842 45h3.5v4.5h-3.5zM842 49h3.5v4.5h-3.5zM842 53h3.5v4.5h-3.5zM860 77h3.5v4.5h-3.5zM869 81h3.5v4.5h-3.5zM884 85h3.5v4.5h-3.5z"/>
<path fill="#3d3767" d="M845 45h3.5v4.5h-3.5zM845 49h3.5v4.5h-3.5zM845 53h3.5v4.5h-3.5zM845 57h3.5v4.5h-3.5zM848 61h3.5v4.5h-3.5zM851 65h3.5v4.5h-3.5zM854 69h3.5v4.5h-3.5zM857 73h3.5v4.5h-3.5zM863 77h3.5v4.5h-3.5zM887 85h3.5v4.5h-3.5z"/>
<path fill="#3b3461" d="M848 57h3.5v4.5h-3.5zM851 61h3.5v4.5h-3.5zM854 65h3.5v4.5h-3.5zM857 69h3.5v4.5h-3.5zM860 73h3.5v4.5h-3.5zM872 81h3.5v4.5h-3.5zM890 85h15.5v4.5h-15.5z"/>
<path fill="#3a315b" d="M848 45h3.5v4.5h-3.5zM848 49h3.5v4.5h-3.5zM848 53h3.5v4.5h-3.5zM866 77h3.5v4.5h-3.5zM875 81h3.5v4.5h-3.5z"/>
<path fill="#382f55" d="M851 57h3.5v4.5h-3.5zM854 61h3.5v4.5h-3.5zM857 65h3.5v4.5h-3.5zM860 69h3.5v4.5h-3.5zM863 73h3.5v4.5h-3.5zM869 77h3.5v4.5h-3.5zM878 81h3.5v4.5h-3.5z"/>
<path fill="#372c50" d="M851 45h3.5v4.5h-3.5zM851 49h3.5v4.5h-3.5zM851 53h3.5v4.5h-3.5zM854 57h3.5v4.5h-3.5zM857 61h3.5v4.5h-3.5zM860 65h3.5v4.5h-3.5zM863 69h3.5v4.5h-3.5zM866 73h3.5v4.5h-3.5z"/>
<path fill="#352a4a" d="M854 45h3.5v4.5h-3.5zM854 49h3.5v4.5h-3.5zM854 53h3.5v4.5h-3.5zM860 61h3.5v4.5h-3.5zM872 77h3.5v4.5h-3.5zM881 81h3.5v4.5h-3.5z"/>
<path fill="#322745" d="M857 57h3.5v4.5h-3.5zM863 65h3.5v4.5h-3.5zM866 69h3.5v4.5h-3.5zM869 73h3.5v4.5h-3.5zM875 77h3.5v4.5h-3.5zM884 81h3.5v4.5h-3.5z"/>
<path fill="#302440" d="M857 45h3.5v4.5h-3.5zM857 49h3.5v4.5h-3.5zM857 53h3.5v4.5h-3.5zM860 57h3.5v4.5h-3.5zM863 61h3.5v4.5h-3.5zM866 65h3.5v4.5h-3.5zM869 69h3.5v4.5h-3.5zM872 73h3.5v4.5h-3.5zM887 81h3.5v4.5h-3.5z"/>
<path fill="#2e223b" d="M860 45h3.5v4.5h-3.5zM860 49h3.5v4.5h-3.5zM860 53h3.5v4.5h-3.5zM863 57h3.5v4.5h-3.5zM866 61h3.5v4.5h-3.5zM869 65h3.5v4.5h-3.5zM872 69h3.5v4.5h-3.5zM875 73h3.5v4.5h-3.5zM878 77h3.5v4.5h-3.5zM890 81h15.5v4.5h-15.5z"/>
<path fill="#2c1f36" d="M869 61h3.5v4.5h-3.5zM872 65h3.5v4.5h-3.5zM881 77h3.5v4.5h-3.5z"/>
<path fill="#291d31" d="M863 45h3.5v4.5h-3.5zM863 49h3.5v4.5h-3.5zM863 53h3.5v4.5h-3.5zM866 57h3.5v4.5h-3.5zM872 61h3.5v4.5h-3.5zM875 69h3.5v4.5h-3.5zM878 73h3.5v4.5h-3.5zM884 77h3.5v4.5h-3.5z"/>
<path fill="#271a2c" d="M866 45h39.5v4.5h-39.5zM866 49h39.5v4.5h-39.5zM866 53h39.5v4.5h-39.5zM869 57h36.5v4.5h-36.5zM875 61h30.5v4.5h-30.5zM875 65h30.5v4.5h-30.5zM878 69h27.5v4.5h-27.5zM881 73h24.5v4.5h-24.5zM887 77h18.5v4.5h-18.5z"/>
</g></g>
<circle cx="151.9" cy="88.8" r="2.0" fill="#2c2a2e"/>
<circle cx="151.9" cy="110.0" r="2.0" fill="#2c2a2e"/>
<circle cx="151.9" cy="141.7" r="2.0" fill="#2c2a2e"/>
<circle cx="151.9" cy="162.8" r="2.0" fill="#2c2a2e"/>
<circle cx="151.9" cy="279.1" r="2.0" fill="#2c2a2e"/>
<circle cx="151.9" cy="374.2" r="2.0" fill="#2c2a2e"/>
<circle cx="185.8" cy="88.8" r="2.0" fill="#2c2a2e"/>
<circle cx="185.8" cy="110.0" r="2.0" fill="#2c2a2e"/>
<circle cx="185.8" cy="149.6" r="2.0" fill="#2c2a2e"/>
<circle cx="185.8" cy="168.1" r="2.0" fill="#2c2a2e"/>
<circle cx="185.8" cy="273.8" r="2.0" fill="#2c2a2e"/>
<circle cx="185.8" cy="374.2" r="2.0" fill="#2c2a2e"/>
<circle cx="252.4" cy="88.8" r="2.0" fill="#2c2a2e"/>
<circle cx="252.4" cy="110.0" r="2.0" fill="#2c2a2e"/>
<circle cx="252.4" cy="136.4" r="2.0" fill="#2c2a2e"/>
<circle cx="252.4" cy="162.8" r="2.0" fill="#2c2a2e"/>
<circle cx="252.4" cy="279.1" r="2.0" fill="#2c2a2e"/>
<circle cx="252.4" cy="374.2" r="2.0" fill="#2c2a2e"/>
<circle cx="340.5" cy="80.9" r="2.0" fill="#2c2a2e"/>
<circle cx="340.5" cy="110.0" r="2.0" fill="#2c2a2e"/>
<circle cx="340.5" cy="123.2" r="2.0" fill="#2c2a2e"/>
<circle cx="340.5" cy="162.8" r="2.0" fill="#2c2a2e"/>
<circle cx="340.5" cy="252.6" r="2.0" fill="#2c2a2e"/>
<circle cx="340.5" cy="374.2" r="2.0" fill="#2c2a2e"/>
<circle cx="384.3" cy="83.5" r="2.0" fill="#2c2a2e"/>
<circle cx="384.3" cy="110.0" r="2.0" fill="#2c2a2e"/>
<circle cx="384.3" cy="128.4" r="2.0" fill="#2c2a2e"/>
<circle cx="384.3" cy="162.8" r="2.0" fill="#2c2a2e"/>
<circle cx="384.3" cy="242.1" r="2.0" fill="#2c2a2e"/>
<circle cx="384.3" cy="374.2" r="2.0" fill="#2c2a2e"/>
<circle cx="450.8" cy="83.5" r="2.0" fill="#2c2a2e"/>
<circle cx="450.8" cy="104.7" r="2.0" fill="#2c2a2e"/>
<circle cx="450.8" cy="125.8" r="2.0" fill="#2c2a2e"/>
<circle cx="450.8" cy="162.8" r="2.0" fill="#2c2a2e"/>
<circle cx="450.8" cy="242.1" r="2.0" fill="#2c2a2e"/>
<circle cx="450.8" cy="374.2" r="2.0" fill="#2c2a2e"/>
<circle cx="539.1" cy="86.2" r="2.0" fill="#2c2a2e"/>
<circle cx="539.1" cy="104.7" r="2.0" fill="#2c2a2e"/>
<circle cx="539.1" cy="117.9" r="2.0" fill="#2c2a2e"/>
<circle cx="539.1" cy="162.8" r="2.0" fill="#2c2a2e"/>
<circle cx="539.1" cy="244.7" r="2.0" fill="#2c2a2e"/>
<circle cx="539.1" cy="374.2" r="2.0" fill="#2c2a2e"/>
<circle cx="605.7" cy="88.8" r="2.0" fill="#2c2a2e"/>
<circle cx="605.7" cy="99.4" r="2.0" fill="#2c2a2e"/>
<circle cx="605.7" cy="120.5" r="2.0" fill="#2c2a2e"/>
<circle cx="605.7" cy="162.8" r="2.0" fill="#2c2a2e"/>
<circle cx="605.7" cy="252.6" r="2.0" fill="#2c2a2e"/>
<circle cx="605.7" cy="374.2" r="2.0" fill="#2c2a2e"/>
<circle cx="667.4" cy="78.2" r="2.0" fill="#2c2a2e"/>
<circle cx="667.4" cy="99.4" r="2.0" fill="#2c2a2e"/>
<circle cx="667.4" cy="120.5" r="2.0" fill="#2c2a2e"/>
<circle cx="667.4" cy="162.8" r="2.0" fill="#2c2a2e"/>
<circle cx="667.4" cy="252.6" r="2.0" fill="#2c2a2e"/>
<circle cx="667.4" cy="374.2" r="2.0" fill="#2c2a2e"/>
<circle cx="744.5" cy="78.2" r="2.0" fill="#2c2a2e"/>
<circle cx="744.5" cy="99.4" r="2.0" fill="#2c2a2e"/>
<circle cx="744.5" cy="162.8" r="2.0" fill="#2c2a2e"/>
<circle cx="744.5" cy="252.6" r="2.0" fill="#2c2a2e"/>
<circle cx="744.5" cy="374.2" r="2.0" fill="#2c2a2e"/>
<circle cx="816.8" cy="78.2" r="2.0" fill="#2c2a2e"/>
<circle cx="816.8" cy="94.1" r="2.0" fill="#2c2a2e"/>
<circle cx="816.8" cy="120.5" r="2.0" fill="#2c2a2e"/>
<circle cx="816.8" cy="162.8" r="2.0" fill="#2c2a2e"/>
<circle cx="816.8" cy="268.5" r="2.0" fill="#2c2a2e"/>
<circle cx="816.8" cy="374.2" r="2.0" fill="#2c2a2e"/>
<circle cx="876.1" cy="78.2" r="2.0" fill="#2c2a2e"/>
<circle cx="876.1" cy="120.5" r="2.0" fill="#2c2a2e"/>
<circle cx="876.1" cy="162.8" r="2.0" fill="#2c2a2e"/>
<circle cx="876.1" cy="268.5" r="2.0" fill="#2c2a2e"/>
<circle cx="876.1" cy="374.2" r="2.0" fill="#2c2a2e"/>
<rect x="134.4" y="57.4" width="756.2" height="343.0" fill="none" stroke="#2b2b2b" stroke-width="1.4"/>
<line x1="127.4" x2="134.4" y1="57.4" y2="57.4" stroke="#2b2b2b" stroke-width="1.4"/>
<text x="118.0" y="65.9" text-anchor="end" font-size="27.8" letter-spacing="-1.6">0</text>
<line x1="127.4" x2="134.4" y1="110.2" y2="110.2" stroke="#2b2b2b" stroke-width="1.4"/>
<text x="118.0" y="118.8" text-anchor="end" font-size="27.8" letter-spacing="-1.6">100</text>
<line x1="127.4" x2="134.4" y1="163.1" y2="163.1" stroke="#2b2b2b" stroke-width="1.4"/>
<text x="118.0" y="171.6" text-anchor="end" font-size="27.8" letter-spacing="-1.6">200</text>
<line x1="127.4" x2="134.4" y1="215.9" y2="215.9" stroke="#2b2b2b" stroke-width="1.4"/>
<text x="118.0" y="224.4" text-anchor="end" font-size="27.8" letter-spacing="-1.6">300</text>
<line x1="127.4" x2="134.4" y1="268.8" y2="268.8" stroke="#2b2b2b" stroke-width="1.4"/>
<text x="118.0" y="277.3" text-anchor="end" font-size="27.8" letter-spacing="-1.6">400</text>
<line x1="127.4" x2="134.4" y1="321.6" y2="321.6" stroke="#2b2b2b" stroke-width="1.4"/>
<text x="118.0" y="330.1" text-anchor="end" font-size="27.8" letter-spacing="-1.6">500</text>
<line x1="127.4" x2="134.4" y1="374.5" y2="374.5" stroke="#2b2b2b" stroke-width="1.4"/>
<text x="118.0" y="383.0" text-anchor="end" font-size="27.8" letter-spacing="-1.6">600</text>
<line x1="164.7" x2="164.7" y1="400.4" y2="407.4" stroke="#2b2b2b" stroke-width="1.4"/>
<text x="164.7" y="437.6" text-anchor="middle" font-size="27.6" letter-spacing="-1.5">160°E</text>
<line x1="285.6" x2="285.6" y1="400.4" y2="407.4" stroke="#2b2b2b" stroke-width="1.4"/>
<text x="285.6" y="437.6" text-anchor="middle" font-size="27.6" letter-spacing="-1.5">180°E</text>
<line x1="406.6" x2="406.6" y1="400.4" y2="407.4" stroke="#2b2b2b" stroke-width="1.4"/>
<text x="406.6" y="437.6" text-anchor="middle" font-size="27.6" letter-spacing="-1.5">160°W</text>
<line x1="527.6" x2="527.6" y1="400.4" y2="407.4" stroke="#2b2b2b" stroke-width="1.4"/>
<text x="527.6" y="437.6" text-anchor="middle" font-size="27.6" letter-spacing="-1.5">140°W</text>
<line x1="648.6" x2="648.6" y1="400.4" y2="407.4" stroke="#2b2b2b" stroke-width="1.4"/>
<text x="648.6" y="437.6" text-anchor="middle" font-size="27.6" letter-spacing="-1.5">120°W</text>
<line x1="769.6" x2="769.6" y1="400.4" y2="407.4" stroke="#2b2b2b" stroke-width="1.4"/>
<text x="769.6" y="437.6" text-anchor="middle" font-size="27.6" letter-spacing="-1.5">100°W</text>
<line x1="890.6" x2="890.6" y1="400.4" y2="407.4" stroke="#2b2b2b" stroke-width="1.4"/>
<text x="890.6" y="437.6" text-anchor="middle" font-size="27.6" letter-spacing="-1.5">80°W</text>
<text x="892.7" y="40.0" text-anchor="end" font-size="31.7" letter-spacing="0.02">LSF_POC (nmol L<tspan font-size="22" dy="-9">-1</tspan><tspan dy="9">)</tspan></text>
<text x="17.1" y="42" font-size="48.5">a</text>
<text transform="translate(29.7,223.8) rotate(-90)" text-anchor="middle" font-size="35.2" letter-spacing="-1.0">Depth (m)</text>
<text transform="translate(910.8,397.6) rotate(-90)" font-size="15.85" letter-spacing="-0.2">Ocean Data View / DIVA</text>
<linearGradient id="cba" x1="0" y1="1" x2="0" y2="0"><stop offset="0.0000" stop-color="#fdfdcc"/><stop offset="0.0909" stop-color="#ceecb3"/><stop offset="0.1818" stop-color="#9cdba5"/><stop offset="0.2727" stop-color="#6fc9a3"/><stop offset="0.3636" stop-color="#56b1a3"/><stop offset="0.4545" stop-color="#4c99a0"/><stop offset="0.5455" stop-color="#44829b"/><stop offset="0.6364" stop-color="#3e6c96"/><stop offset="0.7273" stop-color="#3e528f"/><stop offset="0.8182" stop-color="#403c73"/><stop offset="0.9091" stop-color="#362b4d"/><stop offset="1.0000" stop-color="#271a2c"/></linearGradient>
<rect x="933.6" y="57.0" width="24.4" height="343.6" fill="url(#cba)"/>
<path d="M933.6 57.3 L945.8 51.4 L958.0 57.3 Z" fill="#271a2c"/>
<path d="M933.6 400.3 L945.8 406.0 L958.0 400.3 Z" fill="#fdfdd6"/>
<path d="M933.6 57.3 L945.8 51.4 L958.0 57.3 V400.3 L945.8 406.0 L933.6 400.3 Z" fill="none" stroke="#777" stroke-opacity="0.55" stroke-width="0.7"/>
<line x1="933.6" x2="938.6" y1="400.6" y2="400.6" stroke="#111" stroke-width="1.3"/>
<line x1="953.0" x2="958.0" y1="400.6" y2="400.6" stroke="#111" stroke-width="1.3"/>
<text x="965.3" y="408.1" font-size="25.5" letter-spacing="-1.15">0</text>
<line x1="933.6" x2="938.6" y1="331.9" y2="331.9" stroke="#111" stroke-width="1.3"/>
<line x1="953.0" x2="958.0" y1="331.9" y2="331.9" stroke="#111" stroke-width="1.3"/>
<text x="965.3" y="339.4" font-size="25.5" letter-spacing="-1.15">200</text>
<line x1="933.6" x2="938.6" y1="263.2" y2="263.2" stroke="#111" stroke-width="1.3"/>
<line x1="953.0" x2="958.0" y1="263.2" y2="263.2" stroke="#111" stroke-width="1.3"/>
<text x="965.3" y="270.7" font-size="25.5" letter-spacing="-1.15">400</text>
<line x1="933.6" x2="938.6" y1="194.4" y2="194.4" stroke="#111" stroke-width="1.3"/>
<line x1="953.0" x2="958.0" y1="194.4" y2="194.4" stroke="#111" stroke-width="1.3"/>
<text x="965.3" y="201.9" font-size="25.5" letter-spacing="-1.15">600</text>
<line x1="933.6" x2="938.6" y1="125.7" y2="125.7" stroke="#111" stroke-width="1.3"/>
<line x1="953.0" x2="958.0" y1="125.7" y2="125.7" stroke="#111" stroke-width="1.3"/>
<text x="965.3" y="133.2" font-size="25.5" letter-spacing="-1.15">800</text>
<line x1="933.6" x2="938.6" y1="57.0" y2="57.0" stroke="#111" stroke-width="1.3"/>
<line x1="953.0" x2="958.0" y1="57.0" y2="57.0" stroke="#111" stroke-width="1.3"/>
<text x="965.3" y="64.5" font-size="25.5" letter-spacing="-1.15">1000</text>
<clipPath id="clipb"><rect x="1165.7" y="57.4" width="756.2" height="343.0"/></clipPath>
<g clip-path="url(#clipb)"><g filter="url(#blur)">
<path fill="#d9f0b9" d="M1922 93h15.5v4.5h-15.5zM1922 97h15.5v4.5h-15.5zM1922 101h15.5v4.5h-15.5z"/>
<path fill="#d2edb5" d="M1922 89h15.5v4.5h-15.5zM1919 93h3.5v4.5h-3.5zM1919 97h3.5v4.5h-3.5zM1922 105h15.5v4.5h-15.5zM1154 397h12.5v4.5h-12.5zM1919 397h18.5v4.5h-18.5zM1154 401h15.5v4.5h-15.5zM1916 401h21.5v4.5h-21.5zM1154 405h15.5v4.5h-15.5zM1916 405h21.5v4.5h-21.5zM1154 409h15.5v4.5h-15.5zM1916 409h21.5v4.5h-21.5z"/>
<path fill="#cbebb2" d="M1922 85h15.5v4.5h-15.5zM1919 89h3.5v4.5h-3.5zM1919 101h3.5v4.5h-3.5zM1919 105h3.5v4.5h-3.5zM1154 393h15.5v4.5h-15.5zM1919 393h18.5v4.5h-18.5zM1166 397h6.5v4.5h-6.5zM1424 397h24.5v4.5h-24.5zM1910 397h9.5v4.5h-9.5zM1169 401h3.5v4.5h-3.5zM1421 401h30.5v4.5h-30.5zM1907 401h9.5v4.5h-9.5zM1169 405h3.5v4.5h-3.5zM1421 405h30.5v4.5h-30.5zM1907 405h9.5v4.5h-9.5zM1169 409h3.5v4.5h-3.5zM1421 409h30.5v4.5h-30.5zM1907 409h9.5v4.5h-9.5z"/>
<path fill="#c3e8b0" d="M1919 85h3.5v4.5h-3.5zM1916 93h3.5v4.5h-3.5zM1916 97h3.5v4.5h-3.5zM1922 109h15.5v4.5h-15.5zM1154 389h15.5v4.5h-15.5zM1421 389h33.5v4.5h-33.5zM1913 389h24.5v4.5h-24.5zM1169 393h3.5v4.5h-3.5zM1412 393h51.5v4.5h-51.5zM1907 393h12.5v4.5h-12.5zM1172 397h3.5v4.5h-3.5zM1406 397h18.5v4.5h-18.5zM1448 397h21.5v4.5h-21.5zM1898 397h12.5v4.5h-12.5zM1172 401h3.5v4.5h-3.5zM1403 401h18.5v4.5h-18.5zM1451 401h18.5v4.5h-18.5zM1898 401h9.5v4.5h-9.5zM1172 405h3.5v4.5h-3.5zM1403 405h18.5v4.5h-18.5zM1451 405h18.5v4.5h-18.5zM1898 405h9.5v4.5h-9.5zM1172 409h3.5v4.5h-3.5zM1403 409h18.5v4.5h-18.5zM1451 409h18.5v4.5h-18.5zM1898 409h9.5v4.5h-9.5z"/>
<path fill="#bbe6ae" d="M1922 81h15.5v4.5h-15.5zM1916 89h3.5v4.5h-3.5zM1916 101h3.5v4.5h-3.5zM1916 105h3.5v4.5h-3.5zM1919 109h3.5v4.5h-3.5zM1922 113h15.5v4.5h-15.5zM1154 129h21.5v4.5h-21.5zM1154 133h18.5v4.5h-18.5zM1154 381h12.5v4.5h-12.5zM1424 381h27.5v4.5h-27.5zM1919 381h18.5v4.5h-18.5zM1154 385h15.5v4.5h-15.5zM1409 385h54.5v4.5h-54.5zM1907 385h30.5v4.5h-30.5zM1169 389h3.5v4.5h-3.5zM1403 389h18.5v4.5h-18.5zM1454 389h18.5v4.5h-18.5zM1901 389h12.5v4.5h-12.5zM1172 393h3.5v4.5h-3.5zM1397 393h15.5v4.5h-15.5zM1463 393h15.5v4.5h-15.5zM1895 393h12.5v4.5h-12.5zM1175 397h3.5v4.5h-3.5zM1394 397h12.5v4.5h-12.5zM1469 397h12.5v4.5h-12.5zM1889 397h9.5v4.5h-9.5zM1175 401h6.5v4.5h-6.5zM1391 401h12.5v4.5h-12.5zM1469 401h15.5v4.5h-15.5zM1886 401h12.5v4.5h-12.5zM1175 405h6.5v4.5h-6.5zM1391 405h12.5v4.5h-12.5zM1469 405h15.5v4.5h-15.5zM1886 405h12.5v4.5h-12.5zM1175 409h6.5v4.5h-6.5zM1391 409h12.5v4.5h-12.5zM1469 409h15.5v4.5h-15.5zM1886 409h12.5v4.5h-12.5z"/>
<path fill="#b4e3ac" d="M1922 77h15.5v4.5h-15.5zM1919 81h3.5v4.5h-3.5zM1916 85h3.5v4.5h-3.5zM1913 93h3.5v4.5h-3.5zM1913 97h3.5v4.5h-3.5zM1919 113h3.5v4.5h-3.5zM1154 125h27.5v4.5h-27.5zM1175 129h12.5v4.5h-12.5zM1172 133h9.5v4.5h-9.5zM1154 137h18.5v4.5h-18.5zM1154 377h15.5v4.5h-15.5zM1412 377h48.5v4.5h-48.5zM1907 377h30.5v4.5h-30.5zM1166 381h6.5v4.5h-6.5zM1400 381h24.5v4.5h-24.5zM1451 381h21.5v4.5h-21.5zM1901 381h18.5v4.5h-18.5zM1169 385h6.5v4.5h-6.5zM1394 385h15.5v4.5h-15.5zM1463 385h18.5v4.5h-18.5zM1895 385h12.5v4.5h-12.5zM1172 389h6.5v4.5h-6.5zM1388 389h15.5v4.5h-15.5zM1472 389h15.5v4.5h-15.5zM1889 389h12.5v4.5h-12.5zM1175 393h6.5v4.5h-6.5zM1385 393h12.5v4.5h-12.5zM1478 393h15.5v4.5h-15.5zM1883 393h12.5v4.5h-12.5zM1178 397h6.5v4.5h-6.5zM1382 397h12.5v4.5h-12.5zM1481 397h12.5v4.5h-12.5zM1880 397h9.5v4.5h-9.5zM1181 401h3.5v4.5h-3.5zM1382 401h9.5v4.5h-9.5zM1484 401h12.5v4.5h-12.5zM1877 401h9.5v4.5h-9.5zM1181 405h3.5v4.5h-3.5zM1382 405h9.5v4.5h-9.5zM1484 405h12.5v4.5h-12.5zM1877 405h9.5v4.5h-9.5zM1181 409h3.5v4.5h-3.5zM1382 409h9.5v4.5h-9.5zM1484 409h12.5v4.5h-12.5zM1877 409h9.5v4.5h-9.5z"/>
<path fill="#ace0a9" d="M1919 77h3.5v4.5h-3.5zM1916 81h3.5v4.5h-3.5zM1913 89h3.5v4.5h-3.5zM1913 101h3.5v4.5h-3.5zM1913 105h3.5v4.5h-3.5zM1916 109h3.5v4.5h-3.5zM1922 117h15.5v4.5h-15.5zM1154 121h27.5v4.5h-27.5zM1181 125h18.5v4.5h-18.5zM1187 129h9.5v4.5h-9.5zM1181 133h9.5v4.5h-9.5zM1172 137h9.5v4.5h-9.5zM1154 141h12.5v4.5h-12.5zM1154 369h12.5v4.5h-12.5zM1421 369h27.5v4.5h-27.5zM1907 369h30.5v4.5h-30.5zM1154 373h15.5v4.5h-15.5zM1403 373h66.5v4.5h-66.5zM1898 373h39.5v4.5h-39.5zM1169 377h3.5v4.5h-3.5zM1394 377h18.5v4.5h-18.5zM1460 377h21.5v4.5h-21.5zM1892 377h15.5v4.5h-15.5zM1172 381h3.5v4.5h-3.5zM1388 381h12.5v4.5h-12.5zM1472 381h18.5v4.5h-18.5zM1889 381h12.5v4.5h-12.5zM1175 385h3.5v4.5h-3.5zM1382 385h12.5v4.5h-12.5zM1481 385h15.5v4.5h-15.5zM1883 385h12.5v4.5h-12.5zM1178 389h3.5v4.5h-3.5zM1379 389h9.5v4.5h-9.5zM1487 389h15.5v4.5h-15.5zM1877 389h12.5v4.5h-12.5zM1181 393h3.5v4.5h-3.5zM1373 393h12.5v4.5h-12.5zM1493 393h12.5v4.5h-12.5zM1874 393h9.5v4.5h-9.5zM1184 397h3.5v4.5h-3.5zM1373 397h9.5v4.5h-9.5zM1493 397h15.5v4.5h-15.5zM1868 397h12.5v4.5h-12.5zM1184 401h3.5v4.5h-3.5zM1370 401h12.5v4.5h-12.5zM1496 401h12.5v4.5h-12.5zM1868 401h9.5v4.5h-9.5zM1184 405h3.5v4.5h-3.5zM1370 405h12.5v4.5h-12.5zM1496 405h12.5v4.5h-12.5zM1868 405h9.5v4.5h-9.5zM1184 409h3.5v4.5h-3.5zM1370 409h12.5v4.5h-12.5zM1496 409h12.5v4.5h-12.5zM1868 409h9.5v4.5h-9.5z"/>
<path fill="#a4dea7" d="M1913 85h3.5v4.5h-3.5zM1910 93h3.5v4.5h-3.5zM1910 97h3.5v4.5h-3.5zM1913 109h3.5v4.5h-3.5zM1916 113h3.5v4.5h-3.5zM1919 117h3.5v4.5h-3.5zM1181 121h27.5v4.5h-27.5zM1199 125h12.5v4.5h-12.5zM1196 129h9.5v4.5h-9.5zM1190 133h9.5v4.5h-9.5zM1181 137h9.5v4.5h-9.5zM1166 141h9.5v4.5h-9.5zM1154 361h12.5v4.5h-12.5zM1901 361h36.5v4.5h-36.5zM1154 365h15.5v4.5h-15.5zM1409 365h48.5v4.5h-48.5zM1892 365h45.5v4.5h-45.5zM1166 369h6.5v4.5h-6.5zM1394 369h27.5v4.5h-27.5zM1448 369h27.5v4.5h-27.5zM1889 369h18.5v4.5h-18.5zM1169 373h6.5v4.5h-6.5zM1385 373h18.5v4.5h-18.5zM1469 373h18.5v4.5h-18.5zM1883 373h15.5v4.5h-15.5zM1172 377h6.5v4.5h-6.5zM1379 377h15.5v4.5h-15.5zM1481 377h18.5v4.5h-18.5zM1880 377h12.5v4.5h-12.5zM1175 381h6.5v4.5h-6.5zM1376 381h12.5v4.5h-12.5zM1490 381h15.5v4.5h-15.5zM1874 381h15.5v4.5h-15.5zM1178 385h6.5v4.5h-6.5zM1370 385h12.5v4.5h-12.5zM1496 385h15.5v4.5h-15.5zM1871 385h12.5v4.5h-12.5zM1181 389h6.5v4.5h-6.5zM1367 389h12.5v4.5h-12.5zM1502 389h15.5v4.5h-15.5zM1865 389h12.5v4.5h-12.5zM1184 393h6.5v4.5h-6.5zM1364 393h9.5v4.5h-9.5zM1505 393h15.5v4.5h-15.5zM1664 393h33.5v4.5h-33.5zM1862 393h12.5v4.5h-12.5zM1187 397h6.5v4.5h-6.5zM1361 397h12.5v4.5h-12.5zM1508 397h15.5v4.5h-15.5zM1661 397h42.5v4.5h-42.5zM1859 397h9.5v4.5h-9.5zM1187 401h6.5v4.5h-6.5zM1361 401h9.5v4.5h-9.5zM1508 401h15.5v4.5h-15.5zM1661 401h42.5v4.5h-42.5zM1856 401h12.5v4.5h-12.5zM1187 405h6.5v4.5h-6.5zM1361 405h9.5v4.5h-9.5zM1508 405h15.5v4.5h-15.5zM1661 405h42.5v4.5h-42.5zM1856 405h12.5v4.5h-12.5zM1187 409h6.5v4.5h-6.5zM1361 409h9.5v4.5h-9.5zM1508 409h15.5v4.5h-15.5zM1661 409h42.5v4.5h-42.5zM1856 409h12.5v4.5h-12.5z"/>
<path fill="#9ddba5" d="M1919 73h18.5v4.5h-18.5zM1916 77h3.5v4.5h-3.5zM1913 81h3.5v4.5h-3.5zM1910 89h3.5v4.5h-3.5zM1910 101h3.5v4.5h-3.5zM1910 105h3.5v4.5h-3.5zM1154 117h42.5v4.5h-42.5zM1208 121h15.5v4.5h-15.5zM1922 121h15.5v4.5h-15.5zM1211 125h12.5v4.5h-12.5zM1205 129h12.5v4.5h-12.5zM1199 133h6.5v4.5h-6.5zM1190 137h6.5v4.5h-6.5zM1175 141h9.5v4.5h-9.5zM1904 345h12.5v4.5h-12.5zM1892 349h45.5v4.5h-45.5zM1886 353h51.5v4.5h-51.5zM1154 357h15.5v4.5h-15.5zM1883 357h54.5v4.5h-54.5zM1166 361h6.5v4.5h-6.5zM1397 361h69.5v4.5h-69.5zM1880 361h21.5v4.5h-21.5zM1169 365h6.5v4.5h-6.5zM1385 365h24.5v4.5h-24.5zM1457 365h24.5v4.5h-24.5zM1874 365h18.5v4.5h-18.5zM1172 369h6.5v4.5h-6.5zM1379 369h15.5v4.5h-15.5zM1475 369h21.5v4.5h-21.5zM1871 369h18.5v4.5h-18.5zM1175 373h6.5v4.5h-6.5zM1373 373h12.5v4.5h-12.5zM1487 373h21.5v4.5h-21.5zM1868 373h15.5v4.5h-15.5zM1178 377h3.5v4.5h-3.5zM1367 377h12.5v4.5h-12.5zM1499 377h18.5v4.5h-18.5zM1862 377h18.5v4.5h-18.5zM1181 381h3.5v4.5h-3.5zM1364 381h12.5v4.5h-12.5zM1505 381h18.5v4.5h-18.5zM1664 381h36.5v4.5h-36.5zM1859 381h15.5v4.5h-15.5zM1184 385h3.5v4.5h-3.5zM1361 385h9.5v4.5h-9.5zM1511 385h21.5v4.5h-21.5zM1652 385h60.5v4.5h-60.5zM1853 385h18.5v4.5h-18.5zM1187 389h3.5v4.5h-3.5zM1358 389h9.5v4.5h-9.5zM1517 389h18.5v4.5h-18.5zM1643 389h75.5v4.5h-75.5zM1850 389h15.5v4.5h-15.5zM1190 393h3.5v4.5h-3.5zM1355 393h9.5v4.5h-9.5zM1520 393h18.5v4.5h-18.5zM1640 393h24.5v4.5h-24.5zM1697 393h24.5v4.5h-24.5zM1847 393h15.5v4.5h-15.5zM1193 397h3.5v4.5h-3.5zM1352 397h9.5v4.5h-9.5zM1523 397h15.5v4.5h-15.5zM1640 397h21.5v4.5h-21.5zM1703 397h21.5v4.5h-21.5zM1844 397h15.5v4.5h-15.5zM1193 401h6.5v4.5h-6.5zM1352 401h9.5v4.5h-9.5zM1523 401h15.5v4.5h-15.5zM1640 401h21.5v4.5h-21.5zM1703 401h21.5v4.5h-21.5zM1844 401h12.5v4.5h-12.5zM1193 405h6.5v4.5h-6.5zM1352 405h9.5v4.5h-9.5zM1523 405h15.5v4.5h-15.5zM1640 405h21.5v4.5h-21.5zM1703 405h21.5v4.5h-21.5zM1844 405h12.5v4.5h-12.5zM1193 409h6.5v4.5h-6.5zM1352 409h9.5v4.5h-9.5zM1523 409h15.5v4.5h-15.5zM1640 409h21.5v4.5h-21.5zM1703 409h21.5v4.5h-21.5zM1844 409h12.5v4.5h-12.5z"/>
<path fill="#96d8a5" d="M1910 85h3.5v4.5h-3.5zM1907 93h3.5v4.5h-3.5zM1907 97h3.5v4.5h-3.5zM1907 101h3.5v4.5h-3.5zM1910 109h3.5v4.5h-3.5zM1913 113h3.5v4.5h-3.5zM1196 117h24.5v4.5h-24.5zM1916 117h3.5v4.5h-3.5zM1223 121h9.5v4.5h-9.5zM1919 121h3.5v4.5h-3.5zM1223 125h9.5v4.5h-9.5zM1217 129h9.5v4.5h-9.5zM1205 133h9.5v4.5h-9.5zM1196 137h9.5v4.5h-9.5zM1184 141h9.5v4.5h-9.5zM1154 145h21.5v4.5h-21.5zM1883 313h9.5v4.5h-9.5zM1880 317h18.5v4.5h-18.5zM1877 321h27.5v4.5h-27.5zM1874 325h36.5v4.5h-36.5zM1871 329h48.5v4.5h-48.5zM1871 333h66.5v4.5h-66.5zM1868 337h69.5v4.5h-69.5zM1865 341h72.5v4.5h-72.5zM1865 345h39.5v4.5h-39.5zM1916 345h21.5v4.5h-21.5zM1154 349h15.5v4.5h-15.5zM1862 349h30.5v4.5h-30.5zM1154 353h18.5v4.5h-18.5zM1403 353h45.5v4.5h-45.5zM1859 353h27.5v4.5h-27.5zM1169 357h6.5v4.5h-6.5zM1388 357h84.5v4.5h-84.5zM1853 357h30.5v4.5h-30.5zM1172 361h3.5v4.5h-3.5zM1379 361h18.5v4.5h-18.5zM1466 361h24.5v4.5h-24.5zM1847 361h33.5v4.5h-33.5zM1175 365h3.5v4.5h-3.5zM1370 365h15.5v4.5h-15.5zM1481 365h24.5v4.5h-24.5zM1838 365h36.5v4.5h-36.5zM1178 369h3.5v4.5h-3.5zM1364 369h15.5v4.5h-15.5zM1496 369h21.5v4.5h-21.5zM1832 369h39.5v4.5h-39.5zM1181 373h3.5v4.5h-3.5zM1361 373h12.5v4.5h-12.5zM1508 373h21.5v4.5h-21.5zM1661 373h42.5v4.5h-42.5zM1829 373h39.5v4.5h-39.5zM1181 377h6.5v4.5h-6.5zM1355 377h12.5v4.5h-12.5zM1517 377h21.5v4.5h-21.5zM1643 377h75.5v4.5h-75.5zM1826 377h36.5v4.5h-36.5zM1184 381h6.5v4.5h-6.5zM1352 381h12.5v4.5h-12.5zM1523 381h24.5v4.5h-24.5zM1631 381h33.5v4.5h-33.5zM1700 381h30.5v4.5h-30.5zM1823 381h36.5v4.5h-36.5zM1187 385h6.5v4.5h-6.5zM1349 385h12.5v4.5h-12.5zM1532 385h24.5v4.5h-24.5zM1622 385h30.5v4.5h-30.5zM1712 385h24.5v4.5h-24.5zM1823 385h30.5v4.5h-30.5zM1190 389h6.5v4.5h-6.5zM1346 389h12.5v4.5h-12.5zM1535 389h27.5v4.5h-27.5zM1619 389h24.5v4.5h-24.5zM1718 389h21.5v4.5h-21.5zM1826 389h24.5v4.5h-24.5zM1193 393h6.5v4.5h-6.5zM1346 393h9.5v4.5h-9.5zM1538 393h27.5v4.5h-27.5zM1616 393h24.5v4.5h-24.5zM1721 393h21.5v4.5h-21.5zM1826 393h21.5v4.5h-21.5zM1196 397h6.5v4.5h-6.5zM1343 397h9.5v4.5h-9.5zM1538 397h24.5v4.5h-24.5zM1616 397h24.5v4.5h-24.5zM1724 397h18.5v4.5h-18.5zM1829 397h15.5v4.5h-15.5zM1199 401h3.5v4.5h-3.5zM1343 401h9.5v4.5h-9.5zM1538 401h24.5v4.5h-24.5zM1616 401h24.5v4.5h-24.5zM1724 401h18.5v4.5h-18.5zM1829 401h15.5v4.5h-15.5zM1199 405h3.5v4.5h-3.5zM1343 405h9.5v4.5h-9.5zM1538 405h24.5v4.5h-24.5zM1616 405h24.5v4.5h-24.5zM1724 405h18.5v4.5h-18.5zM1829 405h15.5v4.5h-15.5zM1199 409h3.5v4.5h-3.5zM1343 409h9.5v4.5h-9.5zM1538 409h24.5v4.5h-24.5zM1616 409h24.5v4.5h-24.5zM1724 409h18.5v4.5h-18.5zM1829 409h15.5v4.5h-15.5z"/>
<path fill="#8fd6a4" d="M1919 69h18.5v4.5h-18.5zM1916 73h3.5v4.5h-3.5zM1913 77h3.5v4.5h-3.5zM1910 81h3.5v4.5h-3.5zM1907 89h3.5v4.5h-3.5zM1907 105h3.5v4.5h-3.5zM1154 113h36.5v4.5h-36.5zM1910 113h3.5v4.5h-3.5zM1220 117h15.5v4.5h-15.5zM1913 117h3.5v4.5h-3.5zM1232 121h9.5v4.5h-9.5zM1916 121h3.5v4.5h-3.5zM1232 125h9.5v4.5h-9.5zM1226 129h9.5v4.5h-9.5zM1214 133h9.5v4.5h-9.5zM1205 137h6.5v4.5h-6.5zM1193 141h6.5v4.5h-6.5zM1175 145h9.5v4.5h-9.5zM1358 229h21.5v4.5h-21.5zM1352 233h36.5v4.5h-36.5zM1346 237h45.5v4.5h-45.5zM1346 241h48.5v4.5h-48.5zM1346 245h48.5v4.5h-48.5zM1346 249h48.5v4.5h-48.5zM1346 253h48.5v4.5h-48.5zM1349 257h42.5v4.5h-42.5zM1355 261h33.5v4.5h-33.5zM1364 265h12.5v4.5h-12.5zM1889 269h12.5v4.5h-12.5zM1883 273h24.5v4.5h-24.5zM1877 277h33.5v4.5h-33.5zM1874 281h39.5v4.5h-39.5zM1871 285h42.5v4.5h-42.5zM1868 289h48.5v4.5h-48.5zM1865 293h51.5v4.5h-51.5zM1862 297h57.5v4.5h-57.5zM1862 301h57.5v4.5h-57.5zM1859 305h63.5v4.5h-63.5zM1856 309h81.5v4.5h-81.5zM1856 313h27.5v4.5h-27.5zM1892 313h45.5v4.5h-45.5zM1853 317h27.5v4.5h-27.5zM1898 317h39.5v4.5h-39.5zM1853 321h24.5v4.5h-24.5zM1904 321h33.5v4.5h-33.5zM1850 325h24.5v4.5h-24.5zM1910 325h27.5v4.5h-27.5zM1847 329h24.5v4.5h-24.5zM1919 329h18.5v4.5h-18.5zM1844 333h27.5v4.5h-27.5zM1154 337h12.5v4.5h-12.5zM1841 337h27.5v4.5h-27.5zM1154 341h15.5v4.5h-15.5zM1838 341h27.5v4.5h-27.5zM1154 345h18.5v4.5h-18.5zM1832 345h33.5v4.5h-33.5zM1169 349h6.5v4.5h-6.5zM1388 349h69.5v4.5h-69.5zM1826 349h36.5v4.5h-36.5zM1172 353h6.5v4.5h-6.5zM1376 353h27.5v4.5h-27.5zM1448 353h30.5v4.5h-30.5zM1820 353h39.5v4.5h-39.5zM1175 357h3.5v4.5h-3.5zM1370 357h18.5v4.5h-18.5zM1472 357h24.5v4.5h-24.5zM1817 357h36.5v4.5h-36.5zM1175 361h6.5v4.5h-6.5zM1364 361h15.5v4.5h-15.5zM1490 361h24.5v4.5h-24.5zM1811 361h36.5v4.5h-36.5zM1178 365h6.5v4.5h-6.5zM1358 365h12.5v4.5h-12.5zM1505 365h24.5v4.5h-24.5zM1670 365h21.5v4.5h-21.5zM1808 365h30.5v4.5h-30.5zM1181 369h6.5v4.5h-6.5zM1352 369h12.5v4.5h-12.5zM1517 369h27.5v4.5h-27.5zM1640 369h84.5v4.5h-84.5zM1805 369h27.5v4.5h-27.5zM1184 373h6.5v4.5h-6.5zM1349 373h12.5v4.5h-12.5zM1529 373h30.5v4.5h-30.5zM1619 373h42.5v4.5h-42.5zM1703 373h36.5v4.5h-36.5zM1802 373h27.5v4.5h-27.5zM1187 377h6.5v4.5h-6.5zM1346 377h9.5v4.5h-9.5zM1538 377h48.5v4.5h-48.5zM1592 377h51.5v4.5h-51.5zM1718 377h33.5v4.5h-33.5zM1802 377h24.5v4.5h-24.5zM1190 381h6.5v4.5h-6.5zM1343 381h9.5v4.5h-9.5zM1547 381h84.5v4.5h-84.5zM1730 381h30.5v4.5h-30.5zM1799 381h24.5v4.5h-24.5zM1193 385h6.5v4.5h-6.5zM1340 385h9.5v4.5h-9.5zM1556 385h66.5v4.5h-66.5zM1736 385h30.5v4.5h-30.5zM1799 385h24.5v4.5h-24.5zM1196 389h6.5v4.5h-6.5zM1337 389h9.5v4.5h-9.5zM1562 389h57.5v4.5h-57.5zM1739 389h33.5v4.5h-33.5zM1799 389h27.5v4.5h-27.5zM1199 393h6.5v4.5h-6.5zM1334 393h12.5v4.5h-12.5zM1565 393h51.5v4.5h-51.5zM1742 393h30.5v4.5h-30.5zM1799 393h27.5v4.5h-27.5zM1202 397h6.5v4.5h-6.5zM1334 397h9.5v4.5h-9.5zM1562 397h54.5v4.5h-54.5zM1742 397h30.5v4.5h-30.5zM1805 397h24.5v4.5h-24.5zM1202 401h6.5v4.5h-6.5zM1331 401h12.5v4.5h-12.5zM1562 401h54.5v4.5h-54.5zM1742 401h30.5v4.5h-30.5zM1805 401h24.5v4.5h-24.5zM1202 405h6.5v4.5h-6.5zM1331 405h12.5v4.5h-12.5zM1562 405h54.5v4.5h-54.5zM1742 405h30.5v4.5h-30.5zM1805 405h24.5v4.5h-24.5zM1202 409h6.5v4.5h-6.5zM1331 409h12.5v4.5h-12.5zM1562 409h54.5v4.5h-54.5zM1742 409h30.5v4.5h-30.5zM1805 409h24.5v4.5h-24.5z"/>
<path fill="#88d3a4" d="M1916 69h3.5v4.5h-3.5zM1913 73h3.5v4.5h-3.5zM1910 77h3.5v4.5h-3.5zM1907 85h3.5v4.5h-3.5zM1904 93h3.5v4.5h-3.5zM1904 97h3.5v4.5h-3.5zM1904 101h3.5v4.5h-3.5zM1907 109h3.5v4.5h-3.5zM1190 113h30.5v4.5h-30.5zM1235 117h9.5v4.5h-9.5zM1241 121h9.5v4.5h-9.5zM1241 125h9.5v4.5h-9.5zM1919 125h18.5v4.5h-18.5zM1235 129h9.5v4.5h-9.5zM1223 133h12.5v4.5h-12.5zM1211 137h9.5v4.5h-9.5zM1199 141h9.5v4.5h-9.5zM1184 145h9.5v4.5h-9.5zM1154 149h12.5v4.5h-12.5zM1355 221h24.5v4.5h-24.5zM1343 225h48.5v4.5h-48.5zM1337 229h21.5v4.5h-21.5zM1379 229h18.5v4.5h-18.5zM1334 233h18.5v4.5h-18.5zM1388 233h12.5v4.5h-12.5zM1334 237h12.5v4.5h-12.5zM1391 237h12.5v4.5h-12.5zM1331 241h15.5v4.5h-15.5zM1394 241h12.5v4.5h-12.5zM1331 245h15.5v4.5h-15.5zM1394 245h15.5v4.5h-15.5zM1331 249h15.5v4.5h-15.5zM1394 249h15.5v4.5h-15.5zM1331 253h15.5v4.5h-15.5zM1394 253h15.5v4.5h-15.5zM1892 253h9.5v4.5h-9.5zM1331 257h18.5v4.5h-18.5zM1391 257h18.5v4.5h-18.5zM1880 257h33.5v4.5h-33.5zM1334 261h21.5v4.5h-21.5zM1388 261h18.5v4.5h-18.5zM1874 261h42.5v4.5h-42.5zM1337 265h27.5v4.5h-27.5zM1376 265h27.5v4.5h-27.5zM1868 265h51.5v4.5h-51.5zM1340 269h60.5v4.5h-60.5zM1865 269h24.5v4.5h-24.5zM1901 269h18.5v4.5h-18.5zM1346 273h48.5v4.5h-48.5zM1862 273h21.5v4.5h-21.5zM1907 273h15.5v4.5h-15.5zM1355 277h33.5v4.5h-33.5zM1859 277h18.5v4.5h-18.5zM1910 277h27.5v4.5h-27.5zM1856 281h18.5v4.5h-18.5zM1913 281h24.5v4.5h-24.5zM1853 285h18.5v4.5h-18.5zM1913 285h24.5v4.5h-24.5zM1850 289h18.5v4.5h-18.5zM1916 289h21.5v4.5h-21.5zM1850 293h15.5v4.5h-15.5zM1916 293h21.5v4.5h-21.5zM1847 297h15.5v4.5h-15.5zM1919 297h18.5v4.5h-18.5zM1847 301h15.5v4.5h-15.5zM1919 301h18.5v4.5h-18.5zM1844 305h15.5v4.5h-15.5zM1922 305h15.5v4.5h-15.5zM1841 309h15.5v4.5h-15.5zM1841 313h15.5v4.5h-15.5zM1838 317h15.5v4.5h-15.5zM1835 321h18.5v4.5h-18.5zM1154 325h12.5v4.5h-12.5zM1832 325h18.5v4.5h-18.5zM1154 329h15.5v4.5h-15.5zM1829 329h18.5v4.5h-18.5zM1154 333h18.5v4.5h-18.5zM1823 333h21.5v4.5h-21.5zM1166 337h6.5v4.5h-6.5zM1817 337h24.5v4.5h-24.5zM1169 341h6.5v4.5h-6.5zM1382 341h57.5v4.5h-57.5zM1811 341h27.5v4.5h-27.5zM1172 345h6.5v4.5h-6.5zM1373 345h93.5v4.5h-93.5zM1805 345h27.5v4.5h-27.5zM1175 349h6.5v4.5h-6.5zM1364 349h24.5v4.5h-24.5zM1457 349h30.5v4.5h-30.5zM1799 349h27.5v4.5h-27.5zM1178 353h3.5v4.5h-3.5zM1358 353h18.5v4.5h-18.5zM1478 353h27.5v4.5h-27.5zM1796 353h24.5v4.5h-24.5zM1178 357h6.5v4.5h-6.5zM1355 357h15.5v4.5h-15.5zM1496 357h27.5v4.5h-27.5zM1790 357h27.5v4.5h-27.5zM1181 361h6.5v4.5h-6.5zM1349 361h15.5v4.5h-15.5zM1514 361h27.5v4.5h-27.5zM1643 361h78.5v4.5h-78.5zM1781 361h30.5v4.5h-30.5zM1184 365h6.5v4.5h-6.5zM1346 365h12.5v4.5h-12.5zM1529 365h36.5v4.5h-36.5zM1613 365h57.5v4.5h-57.5zM1691 365h117.5v4.5h-117.5zM1187 369h6.5v4.5h-6.5zM1340 369h12.5v4.5h-12.5zM1544 369h96.5v4.5h-96.5zM1724 369h81.5v4.5h-81.5zM1190 373h6.5v4.5h-6.5zM1337 373h12.5v4.5h-12.5zM1559 373h60.5v4.5h-60.5zM1739 373h63.5v4.5h-63.5zM1193 377h6.5v4.5h-6.5zM1334 377h12.5v4.5h-12.5zM1586 377h6.5v4.5h-6.5zM1751 377h51.5v4.5h-51.5zM1196 381h6.5v4.5h-6.5zM1331 381h12.5v4.5h-12.5zM1760 381h39.5v4.5h-39.5zM1199 385h6.5v4.5h-6.5zM1328 385h12.5v4.5h-12.5zM1766 385h33.5v4.5h-33.5zM1202 389h6.5v4.5h-6.5zM1325 389h12.5v4.5h-12.5zM1772 389h27.5v4.5h-27.5zM1205 393h6.5v4.5h-6.5zM1322 393h12.5v4.5h-12.5zM1772 393h27.5v4.5h-27.5zM1208 397h6.5v4.5h-6.5zM1322 397h12.5v4.5h-12.5zM1772 397h33.5v4.5h-33.5zM1208 401h6.5v4.5h-6.5zM1322 401h9.5v4.5h-9.5zM1772 401h33.5v4.5h-33.5zM1208 405h6.5v4.5h-6.5zM1322 405h9.5v4.5h-9.5zM1772 405h33.5v4.5h-33.5zM1208 409h6.5v4.5h-6.5zM1322 409h9.5v4.5h-9.5zM1772 409h33.5v4.5h-33.5z"/>
<path fill="#81d0a4" d="M1919 65h18.5v4.5h-18.5zM1907 81h3.5v4.5h-3.5zM1904 89h3.5v4.5h-3.5zM1904 105h3.5v4.5h-3.5zM1154 109h18.5v4.5h-18.5zM1904 109h3.5v4.5h-3.5zM1220 113h15.5v4.5h-15.5zM1907 113h3.5v4.5h-3.5zM1244 117h9.5v4.5h-9.5zM1910 117h3.5v4.5h-3.5zM1250 121h9.5v4.5h-9.5zM1913 121h3.5v4.5h-3.5zM1250 125h9.5v4.5h-9.5zM1916 125h3.5v4.5h-3.5zM1244 129h9.5v4.5h-9.5zM1235 133h9.5v4.5h-9.5zM1220 137h12.5v4.5h-12.5zM1208 141h9.5v4.5h-9.5zM1193 145h9.5v4.5h-9.5zM1166 149h12.5v4.5h-12.5zM1343 217h42.5v4.5h-42.5zM1334 221h21.5v4.5h-21.5zM1379 221h15.5v4.5h-15.5zM1328 225h15.5v4.5h-15.5zM1391 225h12.5v4.5h-12.5zM1325 229h12.5v4.5h-12.5zM1397 229h12.5v4.5h-12.5zM1322 233h12.5v4.5h-12.5zM1400 233h12.5v4.5h-12.5zM1319 237h15.5v4.5h-15.5zM1403 237h12.5v4.5h-12.5zM1319 241h12.5v4.5h-12.5zM1406 241h12.5v4.5h-12.5zM1319 245h12.5v4.5h-12.5zM1409 245h9.5v4.5h-9.5zM1880 245h36.5v4.5h-36.5zM1319 249h12.5v4.5h-12.5zM1409 249h9.5v4.5h-9.5zM1868 249h54.5v4.5h-54.5zM1319 253h12.5v4.5h-12.5zM1409 253h12.5v4.5h-12.5zM1862 253h30.5v4.5h-30.5zM1901 253h36.5v4.5h-36.5zM1319 257h12.5v4.5h-12.5zM1409 257h12.5v4.5h-12.5zM1859 257h21.5v4.5h-21.5zM1913 257h24.5v4.5h-24.5zM1322 261h12.5v4.5h-12.5zM1406 261h15.5v4.5h-15.5zM1853 261h21.5v4.5h-21.5zM1916 261h21.5v4.5h-21.5zM1322 265h15.5v4.5h-15.5zM1403 265h15.5v4.5h-15.5zM1850 265h18.5v4.5h-18.5zM1919 265h18.5v4.5h-18.5zM1325 269h15.5v4.5h-15.5zM1400 269h18.5v4.5h-18.5zM1847 269h18.5v4.5h-18.5zM1919 269h18.5v4.5h-18.5zM1328 273h18.5v4.5h-18.5zM1394 273h21.5v4.5h-21.5zM1844 273h18.5v4.5h-18.5zM1922 273h15.5v4.5h-15.5zM1331 277h24.5v4.5h-24.5zM1388 277h24.5v4.5h-24.5zM1844 277h15.5v4.5h-15.5zM1337 281h69.5v4.5h-69.5zM1841 281h15.5v4.5h-15.5zM1343 285h60.5v4.5h-60.5zM1838 285h15.5v4.5h-15.5zM1349 289h48.5v4.5h-48.5zM1838 289h12.5v4.5h-12.5zM1361 293h27.5v4.5h-27.5zM1835 293h15.5v4.5h-15.5zM1832 297h15.5v4.5h-15.5zM1832 301h15.5v4.5h-15.5zM1829 305h15.5v4.5h-15.5zM1154 309h12.5v4.5h-12.5zM1826 309h15.5v4.5h-15.5zM1154 313h15.5v4.5h-15.5zM1823 313h18.5v4.5h-18.5zM1154 317h18.5v4.5h-18.5zM1817 317h21.5v4.5h-21.5zM1154 321h18.5v4.5h-18.5zM1811 321h24.5v4.5h-24.5zM1166 325h9.5v4.5h-9.5zM1805 325h27.5v4.5h-27.5zM1169 329h6.5v4.5h-6.5zM1382 329h24.5v4.5h-24.5zM1802 329h27.5v4.5h-27.5zM1172 333h6.5v4.5h-6.5zM1373 333h57.5v4.5h-57.5zM1796 333h27.5v4.5h-27.5zM1172 337h6.5v4.5h-6.5zM1364 337h90.5v4.5h-90.5zM1790 337h27.5v4.5h-27.5zM1175 341h6.5v4.5h-6.5zM1358 341h24.5v4.5h-24.5zM1439 341h36.5v4.5h-36.5zM1787 341h24.5v4.5h-24.5zM1178 345h6.5v4.5h-6.5zM1355 345h18.5v4.5h-18.5zM1466 345h27.5v4.5h-27.5zM1781 345h24.5v4.5h-24.5zM1181 349h3.5v4.5h-3.5zM1349 349h15.5v4.5h-15.5zM1487 349h27.5v4.5h-27.5zM1772 349h27.5v4.5h-27.5zM1181 353h6.5v4.5h-6.5zM1343 353h15.5v4.5h-15.5zM1505 353h30.5v4.5h-30.5zM1664 353h33.5v4.5h-33.5zM1757 353h39.5v4.5h-39.5zM1184 357h6.5v4.5h-6.5zM1340 357h15.5v4.5h-15.5zM1523 357h42.5v4.5h-42.5zM1613 357h177.5v4.5h-177.5zM1187 361h6.5v4.5h-6.5zM1337 361h12.5v4.5h-12.5zM1541 361h102.5v4.5h-102.5zM1721 361h60.5v4.5h-60.5zM1190 365h6.5v4.5h-6.5zM1331 365h15.5v4.5h-15.5zM1565 365h48.5v4.5h-48.5zM1193 369h6.5v4.5h-6.5zM1328 369h12.5v4.5h-12.5zM1196 373h6.5v4.5h-6.5zM1325 373h12.5v4.5h-12.5zM1199 377h6.5v4.5h-6.5zM1319 377h15.5v4.5h-15.5zM1202 381h6.5v4.5h-6.5zM1316 381h15.5v4.5h-15.5zM1205 385h6.5v4.5h-6.5zM1313 385h15.5v4.5h-15.5zM1208 389h6.5v4.5h-6.5zM1310 389h15.5v4.5h-15.5zM1211 393h6.5v4.5h-6.5zM1310 393h12.5v4.5h-12.5zM1214 397h6.5v4.5h-6.5zM1307 397h15.5v4.5h-15.5zM1214 401h9.5v4.5h-9.5zM1307 401h15.5v4.5h-15.5zM1214 405h9.5v4.5h-9.5zM1307 405h15.5v4.5h-15.5zM1214 409h9.5v4.5h-9.5zM1307 409h15.5v4.5h-15.5z"/>
<path fill="#7acea4" d="M1916 65h3.5v4.5h-3.5zM1913 69h3.5v4.5h-3.5zM1910 73h3.5v4.5h-3.5zM1907 77h3.5v4.5h-3.5zM1904 85h3.5v4.5h-3.5zM1901 93h3.5v4.5h-3.5zM1901 97h3.5v4.5h-3.5zM1901 101h3.5v4.5h-3.5zM1901 105h3.5v4.5h-3.5zM1172 109h27.5v4.5h-27.5zM1235 113h12.5v4.5h-12.5zM1904 113h3.5v4.5h-3.5zM1253 117h6.5v4.5h-6.5zM1907 117h3.5v4.5h-3.5zM1259 121h6.5v4.5h-6.5zM1910 121h3.5v4.5h-3.5zM1259 125h9.5v4.5h-9.5zM1253 129h12.5v4.5h-12.5zM1922 129h15.5v4.5h-15.5zM1244 133h15.5v4.5h-15.5zM1232 137h15.5v4.5h-15.5zM1217 141h12.5v4.5h-12.5zM1202 145h12.5v4.5h-12.5zM1178 149h15.5v4.5h-15.5zM1334 213h51.5v4.5h-51.5zM1325 217h18.5v4.5h-18.5zM1385 217h15.5v4.5h-15.5zM1319 221h15.5v4.5h-15.5zM1394 221h12.5v4.5h-12.5zM1316 225h12.5v4.5h-12.5zM1403 225h9.5v4.5h-9.5zM1313 229h12.5v4.5h-12.5zM1409 229h9.5v4.5h-9.5zM1310 233h12.5v4.5h-12.5zM1412 233h9.5v4.5h-9.5zM1889 233h30.5v4.5h-30.5zM1310 237h9.5v4.5h-9.5zM1415 237h9.5v4.5h-9.5zM1871 237h66.5v4.5h-66.5zM1307 241h12.5v4.5h-12.5zM1418 241h9.5v4.5h-9.5zM1862 241h75.5v4.5h-75.5zM1307 245h12.5v4.5h-12.5zM1418 245h9.5v4.5h-9.5zM1853 245h27.5v4.5h-27.5zM1916 245h21.5v4.5h-21.5zM1307 249h12.5v4.5h-12.5zM1418 249h12.5v4.5h-12.5zM1850 249h18.5v4.5h-18.5zM1922 249h15.5v4.5h-15.5zM1307 253h12.5v4.5h-12.5zM1421 253h9.5v4.5h-9.5zM1844 253h18.5v4.5h-18.5zM1310 257h9.5v4.5h-9.5zM1421 257h9.5v4.5h-9.5zM1841 257h18.5v4.5h-18.5zM1310 261h12.5v4.5h-12.5zM1421 261h9.5v4.5h-9.5zM1838 261h15.5v4.5h-15.5zM1310 265h12.5v4.5h-12.5zM1418 265h12.5v4.5h-12.5zM1835 265h15.5v4.5h-15.5zM1313 269h12.5v4.5h-12.5zM1418 269h12.5v4.5h-12.5zM1832 269h15.5v4.5h-15.5zM1316 273h12.5v4.5h-12.5zM1415 273h15.5v4.5h-15.5zM1829 273h15.5v4.5h-15.5zM1316 277h15.5v4.5h-15.5zM1412 277h15.5v4.5h-15.5zM1826 277h18.5v4.5h-18.5zM1154 281h12.5v4.5h-12.5zM1319 281h18.5v4.5h-18.5zM1406 281h18.5v4.5h-18.5zM1823 281h18.5v4.5h-18.5zM1154 285h15.5v4.5h-15.5zM1325 285h18.5v4.5h-18.5zM1403 285h18.5v4.5h-18.5zM1823 285h15.5v4.5h-15.5zM1154 289h15.5v4.5h-15.5zM1328 289h21.5v4.5h-21.5zM1397 289h21.5v4.5h-21.5zM1820 289h18.5v4.5h-18.5zM1154 293h18.5v4.5h-18.5zM1334 293h27.5v4.5h-27.5zM1388 293h27.5v4.5h-27.5zM1817 293h18.5v4.5h-18.5zM1154 297h18.5v4.5h-18.5zM1337 297h78.5v4.5h-78.5zM1814 297h18.5v4.5h-18.5zM1154 301h18.5v4.5h-18.5zM1343 301h69.5v4.5h-69.5zM1808 301h24.5v4.5h-24.5zM1154 305h21.5v4.5h-21.5zM1349 305h60.5v4.5h-60.5zM1805 305h24.5v4.5h-24.5zM1166 309h9.5v4.5h-9.5zM1352 309h57.5v4.5h-57.5zM1802 309h24.5v4.5h-24.5zM1169 313h6.5v4.5h-6.5zM1355 313h54.5v4.5h-54.5zM1796 313h27.5v4.5h-27.5zM1172 317h6.5v4.5h-6.5zM1358 317h57.5v4.5h-57.5zM1793 317h24.5v4.5h-24.5zM1172 321h6.5v4.5h-6.5zM1358 321h63.5v4.5h-63.5zM1790 321h21.5v4.5h-21.5zM1175 325h6.5v4.5h-6.5zM1355 325h78.5v4.5h-78.5zM1787 325h18.5v4.5h-18.5zM1175 329h6.5v4.5h-6.5zM1352 329h30.5v4.5h-30.5zM1406 329h42.5v4.5h-42.5zM1781 329h21.5v4.5h-21.5zM1178 333h6.5v4.5h-6.5zM1349 333h24.5v4.5h-24.5zM1430 333h33.5v4.5h-33.5zM1775 333h21.5v4.5h-21.5zM1178 337h6.5v4.5h-6.5zM1346 337h18.5v4.5h-18.5zM1454 337h30.5v4.5h-30.5zM1769 337h21.5v4.5h-21.5zM1181 341h6.5v4.5h-6.5zM1340 341h18.5v4.5h-18.5zM1475 341h27.5v4.5h-27.5zM1763 341h24.5v4.5h-24.5zM1184 345h6.5v4.5h-6.5zM1337 345h18.5v4.5h-18.5zM1493 345h33.5v4.5h-33.5zM1751 345h30.5v4.5h-30.5zM1184 349h6.5v4.5h-6.5zM1334 349h15.5v4.5h-15.5zM1514 349h42.5v4.5h-42.5zM1628 349h144.5v4.5h-144.5zM1187 353h6.5v4.5h-6.5zM1328 353h15.5v4.5h-15.5zM1535 353h129.5v4.5h-129.5zM1697 353h60.5v4.5h-60.5zM1190 357h6.5v4.5h-6.5zM1325 357h15.5v4.5h-15.5zM1565 357h48.5v4.5h-48.5zM1193 361h6.5v4.5h-6.5zM1322 361h15.5v4.5h-15.5zM1196 365h6.5v4.5h-6.5zM1316 365h15.5v4.5h-15.5zM1199 369h6.5v4.5h-6.5zM1313 369h15.5v4.5h-15.5zM1202 373h6.5v4.5h-6.5zM1307 373h18.5v4.5h-18.5zM1205 377h6.5v4.5h-6.5zM1304 377h15.5v4.5h-15.5zM1208 381h6.5v4.5h-6.5zM1301 381h15.5v4.5h-15.5zM1211 385h9.5v4.5h-9.5zM1295 385h18.5v4.5h-18.5zM1214 389h9.5v4.5h-9.5zM1295 389h15.5v4.5h-15.5zM1217 393h12.5v4.5h-12.5zM1292 393h18.5v4.5h-18.5zM1220 397h12.5v4.5h-12.5zM1289 397h18.5v4.5h-18.5zM1223 401h9.5v4.5h-9.5zM1289 401h18.5v4.5h-18.5zM1223 405h9.5v4.5h-9.5zM1289 405h18.5v4.5h-18.5zM1223 409h9.5v4.5h-9.5zM1289 409h18.5v4.5h-18.5z"/>
<path fill="#73cba3" d="M1919 61h18.5v4.5h-18.5zM1913 65h3.5v4.5h-3.5zM1910 69h3.5v4.5h-3.5zM1907 73h3.5v4.5h-3.5zM1904 81h3.5v4.5h-3.5zM1901 89h3.5v4.5h-3.5zM1199 109h27.5v4.5h-27.5zM1901 109h3.5v4.5h-3.5zM1247 113h9.5v4.5h-9.5zM1259 117h9.5v4.5h-9.5zM1904 117h3.5v4.5h-3.5zM1265 121h9.5v4.5h-9.5zM1907 121h3.5v4.5h-3.5zM1268 125h9.5v4.5h-9.5zM1913 125h3.5v4.5h-3.5zM1265 129h12.5v4.5h-12.5zM1916 129h6.5v4.5h-6.5zM1259 133h15.5v4.5h-15.5zM1247 137h21.5v4.5h-21.5zM1229 141h24.5v4.5h-24.5zM1214 145h15.5v4.5h-15.5zM1193 149h12.5v4.5h-12.5zM1154 153h18.5v4.5h-18.5zM1673 165h15.5v4.5h-15.5zM1322 209h63.5v4.5h-63.5zM1313 213h21.5v4.5h-21.5zM1385 213h15.5v4.5h-15.5zM1307 217h18.5v4.5h-18.5zM1400 217h9.5v4.5h-9.5zM1304 221h15.5v4.5h-15.5zM1406 221h12.5v4.5h-12.5zM1301 225h15.5v4.5h-15.5zM1412 225h9.5v4.5h-9.5zM1889 225h48.5v4.5h-48.5zM1301 229h12.5v4.5h-12.5zM1418 229h9.5v4.5h-9.5zM1865 229h72.5v4.5h-72.5zM1298 233h12.5v4.5h-12.5zM1421 233h9.5v4.5h-9.5zM1853 233h36.5v4.5h-36.5zM1919 233h18.5v4.5h-18.5zM1298 237h12.5v4.5h-12.5zM1424 237h9.5v4.5h-9.5zM1847 237h24.5v4.5h-24.5zM1298 241h9.5v4.5h-9.5zM1427 241h9.5v4.5h-9.5zM1841 241h21.5v4.5h-21.5zM1298 245h9.5v4.5h-9.5zM1427 245h9.5v4.5h-9.5zM1835 245h18.5v4.5h-18.5zM1298 249h9.5v4.5h-9.5zM1430 249h9.5v4.5h-9.5zM1832 249h18.5v4.5h-18.5zM1298 253h9.5v4.5h-9.5zM1430 253h9.5v4.5h-9.5zM1826 253h18.5v4.5h-18.5zM1298 257h12.5v4.5h-12.5zM1430 257h12.5v4.5h-12.5zM1823 257h18.5v4.5h-18.5zM1301 261h9.5v4.5h-9.5zM1430 261h12.5v4.5h-12.5zM1820 261h18.5v4.5h-18.5zM1154 265h15.5v4.5h-15.5zM1301 265h9.5v4.5h-9.5zM1430 265h12.5v4.5h-12.5zM1817 265h18.5v4.5h-18.5zM1154 269h15.5v4.5h-15.5zM1304 269h9.5v4.5h-9.5zM1430 269h12.5v4.5h-12.5zM1814 269h18.5v4.5h-18.5zM1154 273h18.5v4.5h-18.5zM1304 273h12.5v4.5h-12.5zM1430 273h12.5v4.5h-12.5zM1811 273h18.5v4.5h-18.5zM1154 277h21.5v4.5h-21.5zM1307 277h9.5v4.5h-9.5zM1427 277h12.5v4.5h-12.5zM1808 277h18.5v4.5h-18.5zM1166 281h9.5v4.5h-9.5zM1307 281h12.5v4.5h-12.5zM1424 281h15.5v4.5h-15.5zM1805 281h18.5v4.5h-18.5zM1169 285h9.5v4.5h-9.5zM1310 285h15.5v4.5h-15.5zM1421 285h15.5v4.5h-15.5zM1802 285h21.5v4.5h-21.5zM1169 289h9.5v4.5h-9.5zM1313 289h15.5v4.5h-15.5zM1418 289h18.5v4.5h-18.5zM1799 289h21.5v4.5h-21.5zM1172 293h6.5v4.5h-6.5zM1316 293h18.5v4.5h-18.5zM1415 293h18.5v4.5h-18.5zM1796 293h21.5v4.5h-21.5zM1172 297h6.5v4.5h-6.5zM1319 297h18.5v4.5h-18.5zM1415 297h18.5v4.5h-18.5zM1793 297h21.5v4.5h-21.5zM1172 301h9.5v4.5h-9.5zM1322 301h21.5v4.5h-21.5zM1412 301h21.5v4.5h-21.5zM1790 301h18.5v4.5h-18.5zM1175 305h6.5v4.5h-6.5zM1328 305h21.5v4.5h-21.5zM1409 305h24.5v4.5h-24.5zM1787 305h18.5v4.5h-18.5zM1175 309h6.5v4.5h-6.5zM1331 309h21.5v4.5h-21.5zM1409 309h24.5v4.5h-24.5zM1784 309h18.5v4.5h-18.5zM1175 313h9.5v4.5h-9.5zM1331 313h24.5v4.5h-24.5zM1409 313h27.5v4.5h-27.5zM1781 313h15.5v4.5h-15.5zM1178 317h6.5v4.5h-6.5zM1334 317h24.5v4.5h-24.5zM1415 317h27.5v4.5h-27.5zM1778 317h15.5v4.5h-15.5zM1178 321h6.5v4.5h-6.5zM1334 321h24.5v4.5h-24.5zM1421 321h30.5v4.5h-30.5zM1772 321h18.5v4.5h-18.5zM1181 325h6.5v4.5h-6.5zM1334 325h21.5v4.5h-21.5zM1433 325h27.5v4.5h-27.5zM1769 325h18.5v4.5h-18.5zM1181 329h6.5v4.5h-6.5zM1334 329h18.5v4.5h-18.5zM1448 329h27.5v4.5h-27.5zM1763 329h18.5v4.5h-18.5zM1184 333h6.5v4.5h-6.5zM1331 333h18.5v4.5h-18.5zM1463 333h30.5v4.5h-30.5zM1757 333h18.5v4.5h-18.5zM1184 337h6.5v4.5h-6.5zM1328 337h18.5v4.5h-18.5zM1484 337h30.5v4.5h-30.5zM1745 337h24.5v4.5h-24.5zM1187 341h6.5v4.5h-6.5zM1325 341h15.5v4.5h-15.5zM1502 341h39.5v4.5h-39.5zM1715 341h48.5v4.5h-48.5zM1190 345h3.5v4.5h-3.5zM1322 345h15.5v4.5h-15.5zM1526 345h225.5v4.5h-225.5zM1190 349h6.5v4.5h-6.5zM1316 349h18.5v4.5h-18.5zM1556 349h72.5v4.5h-72.5zM1193 353h6.5v4.5h-6.5zM1313 353h15.5v4.5h-15.5zM1196 357h6.5v4.5h-6.5zM1307 357h18.5v4.5h-18.5zM1199 361h6.5v4.5h-6.5zM1301 361h21.5v4.5h-21.5zM1202 365h6.5v4.5h-6.5zM1295 365h21.5v4.5h-21.5zM1205 369h6.5v4.5h-6.5zM1292 369h21.5v4.5h-21.5zM1208 373h9.5v4.5h-9.5zM1286 373h21.5v4.5h-21.5zM1211 377h9.5v4.5h-9.5zM1280 377h24.5v4.5h-24.5zM1214 381h12.5v4.5h-12.5zM1274 381h27.5v4.5h-27.5zM1220 385h15.5v4.5h-15.5zM1265 385h30.5v4.5h-30.5zM1223 389h24.5v4.5h-24.5zM1253 389h42.5v4.5h-42.5zM1229 393h63.5v4.5h-63.5zM1232 397h57.5v4.5h-57.5zM1232 401h57.5v4.5h-57.5zM1232 405h57.5v4.5h-57.5zM1232 409h57.5v4.5h-57.5z"/>
<path fill="#6ec8a3" d="M1922 57h15.5v4.5h-15.5zM1916 61h3.5v4.5h-3.5zM1910 65h3.5v4.5h-3.5zM1907 69h3.5v4.5h-3.5zM1904 77h3.5v4.5h-3.5zM1901 85h3.5v4.5h-3.5zM1898 93h3.5v4.5h-3.5zM1898 97h3.5v4.5h-3.5zM1898 101h3.5v4.5h-3.5zM1154 105h21.5v4.5h-21.5zM1898 105h3.5v4.5h-3.5zM1226 109h15.5v4.5h-15.5zM1256 113h6.5v4.5h-6.5zM1901 113h3.5v4.5h-3.5zM1268 117h6.5v4.5h-6.5zM1274 121h9.5v4.5h-9.5zM1904 121h3.5v4.5h-3.5zM1277 125h12.5v4.5h-12.5zM1910 125h3.5v4.5h-3.5zM1277 129h15.5v4.5h-15.5zM1913 129h3.5v4.5h-3.5zM1274 133h15.5v4.5h-15.5zM1922 133h15.5v4.5h-15.5zM1268 137h18.5v4.5h-18.5zM1253 141h30.5v4.5h-30.5zM1229 145h51.5v4.5h-51.5zM1205 149h27.5v4.5h-27.5zM1172 153h18.5v4.5h-18.5zM1661 161h39.5v4.5h-39.5zM1655 165h18.5v4.5h-18.5zM1688 165h18.5v4.5h-18.5zM1658 169h48.5v4.5h-48.5zM1673 173h21.5v4.5h-21.5zM1319 201h18.5v4.5h-18.5zM1301 205h81.5v4.5h-81.5zM1295 209h27.5v4.5h-27.5zM1385 209h15.5v4.5h-15.5zM1292 213h21.5v4.5h-21.5zM1400 213h12.5v4.5h-12.5zM1922 213h15.5v4.5h-15.5zM1289 217h18.5v4.5h-18.5zM1409 217h12.5v4.5h-12.5zM1892 217h45.5v4.5h-45.5zM1289 221h15.5v4.5h-15.5zM1418 221h9.5v4.5h-9.5zM1865 221h72.5v4.5h-72.5zM1289 225h12.5v4.5h-12.5zM1421 225h9.5v4.5h-9.5zM1850 225h39.5v4.5h-39.5zM1286 229h15.5v4.5h-15.5zM1427 229h9.5v4.5h-9.5zM1841 229h24.5v4.5h-24.5zM1286 233h12.5v4.5h-12.5zM1430 233h9.5v4.5h-9.5zM1835 233h18.5v4.5h-18.5zM1286 237h12.5v4.5h-12.5zM1433 237h9.5v4.5h-9.5zM1829 237h18.5v4.5h-18.5zM1286 241h12.5v4.5h-12.5zM1436 241h6.5v4.5h-6.5zM1823 241h18.5v4.5h-18.5zM1289 245h9.5v4.5h-9.5zM1436 245h9.5v4.5h-9.5zM1817 245h18.5v4.5h-18.5zM1289 249h9.5v4.5h-9.5zM1439 249h9.5v4.5h-9.5zM1814 249h18.5v4.5h-18.5zM1154 253h15.5v4.5h-15.5zM1289 253h9.5v4.5h-9.5zM1439 253h9.5v4.5h-9.5zM1811 253h15.5v4.5h-15.5zM1154 257h18.5v4.5h-18.5zM1289 257h9.5v4.5h-9.5zM1442 257h9.5v4.5h-9.5zM1808 257h15.5v4.5h-15.5zM1154 261h21.5v4.5h-21.5zM1292 261h9.5v4.5h-9.5zM1442 261h9.5v4.5h-9.5zM1805 261h15.5v4.5h-15.5zM1169 265h9.5v4.5h-9.5zM1292 265h9.5v4.5h-9.5zM1442 265h9.5v4.5h-9.5zM1802 265h15.5v4.5h-15.5zM1169 269h9.5v4.5h-9.5zM1292 269h12.5v4.5h-12.5zM1442 269h9.5v4.5h-9.5zM1799 269h15.5v4.5h-15.5zM1172 273h9.5v4.5h-9.5zM1295 273h9.5v4.5h-9.5zM1442 273h9.5v4.5h-9.5zM1796 273h15.5v4.5h-15.5zM1175 277h6.5v4.5h-6.5zM1295 277h12.5v4.5h-12.5zM1439 277h12.5v4.5h-12.5zM1793 277h15.5v4.5h-15.5zM1175 281h9.5v4.5h-9.5zM1298 281h9.5v4.5h-9.5zM1439 281h12.5v4.5h-12.5zM1790 281h15.5v4.5h-15.5zM1178 285h6.5v4.5h-6.5zM1298 285h12.5v4.5h-12.5zM1436 285h15.5v4.5h-15.5zM1787 285h15.5v4.5h-15.5zM1178 289h6.5v4.5h-6.5zM1301 289h12.5v4.5h-12.5zM1436 289h15.5v4.5h-15.5zM1784 289h15.5v4.5h-15.5zM1178 293h6.5v4.5h-6.5zM1304 293h12.5v4.5h-12.5zM1433 293h18.5v4.5h-18.5zM1781 293h15.5v4.5h-15.5zM1178 297h9.5v4.5h-9.5zM1304 297h15.5v4.5h-15.5zM1433 297h18.5v4.5h-18.5zM1778 297h15.5v4.5h-15.5zM1181 301h6.5v4.5h-6.5zM1307 301h15.5v4.5h-15.5zM1433 301h18.5v4.5h-18.5zM1775 301h15.5v4.5h-15.5zM1181 305h6.5v4.5h-6.5zM1310 305h18.5v4.5h-18.5zM1433 305h18.5v4.5h-18.5zM1772 305h15.5v4.5h-15.5zM1181 309h6.5v4.5h-6.5zM1313 309h18.5v4.5h-18.5zM1433 309h21.5v4.5h-21.5zM1769 309h15.5v4.5h-15.5zM1184 313h3.5v4.5h-3.5zM1313 313h18.5v4.5h-18.5zM1436 313h21.5v4.5h-21.5zM1766 313h15.5v4.5h-15.5zM1184 317h6.5v4.5h-6.5zM1316 317h18.5v4.5h-18.5zM1442 317h24.5v4.5h-24.5zM1763 317h15.5v4.5h-15.5zM1184 321h6.5v4.5h-6.5zM1316 321h18.5v4.5h-18.5zM1451 321h24.5v4.5h-24.5zM1757 321h15.5v4.5h-15.5zM1187 325h6.5v4.5h-6.5zM1316 325h18.5v4.5h-18.5zM1460 325h27.5v4.5h-27.5zM1751 325h18.5v4.5h-18.5zM1187 329h6.5v4.5h-6.5zM1313 329h21.5v4.5h-21.5zM1475 329h30.5v4.5h-30.5zM1742 329h21.5v4.5h-21.5zM1190 333h6.5v4.5h-6.5zM1310 333h21.5v4.5h-21.5zM1493 333h36.5v4.5h-36.5zM1727 333h30.5v4.5h-30.5zM1190 337h6.5v4.5h-6.5zM1307 337h21.5v4.5h-21.5zM1514 337h231.5v4.5h-231.5zM1193 341h6.5v4.5h-6.5zM1304 341h21.5v4.5h-21.5zM1541 341h174.5v4.5h-174.5zM1193 345h6.5v4.5h-6.5zM1301 345h21.5v4.5h-21.5zM1196 349h6.5v4.5h-6.5zM1295 349h21.5v4.5h-21.5zM1199 353h6.5v4.5h-6.5zM1289 353h24.5v4.5h-24.5zM1202 357h6.5v4.5h-6.5zM1283 357h24.5v4.5h-24.5zM1205 361h9.5v4.5h-9.5zM1277 361h24.5v4.5h-24.5zM1208 365h9.5v4.5h-9.5zM1268 365h27.5v4.5h-27.5zM1211 369h12.5v4.5h-12.5zM1262 369h30.5v4.5h-30.5zM1217 373h15.5v4.5h-15.5zM1250 373h36.5v4.5h-36.5zM1220 377h60.5v4.5h-60.5zM1226 381h48.5v4.5h-48.5zM1235 385h30.5v4.5h-30.5zM1247 389h6.5v4.5h-6.5z"/>
<path fill="#6ac4a3" d="M1919 45h18.5v4.5h-18.5zM1919 49h18.5v4.5h-18.5zM1919 53h18.5v4.5h-18.5zM1916 57h6.5v4.5h-6.5zM1913 61h3.5v4.5h-3.5zM1904 73h3.5v4.5h-3.5zM1901 81h3.5v4.5h-3.5zM1898 89h3.5v4.5h-3.5zM1895 97h3.5v4.5h-3.5zM1895 101h3.5v4.5h-3.5zM1175 105h24.5v4.5h-24.5zM1241 109h12.5v4.5h-12.5zM1391 109h39.5v4.5h-39.5zM1898 109h3.5v4.5h-3.5zM1262 113h9.5v4.5h-9.5zM1898 113h3.5v4.5h-3.5zM1274 117h9.5v4.5h-9.5zM1901 117h3.5v4.5h-3.5zM1283 121h9.5v4.5h-9.5zM1289 125h12.5v4.5h-12.5zM1907 125h3.5v4.5h-3.5zM1292 129h12.5v4.5h-12.5zM1910 129h3.5v4.5h-3.5zM1289 133h15.5v4.5h-15.5zM1916 133h6.5v4.5h-6.5zM1286 137h18.5v4.5h-18.5zM1283 141h21.5v4.5h-21.5zM1280 145h24.5v4.5h-24.5zM1232 149h75.5v4.5h-75.5zM1190 153h120.5v4.5h-120.5zM1250 157h63.5v4.5h-63.5zM1658 157h42.5v4.5h-42.5zM1259 161h57.5v4.5h-57.5zM1646 161h15.5v4.5h-15.5zM1700 161h12.5v4.5h-12.5zM1265 165h51.5v4.5h-51.5zM1643 165h12.5v4.5h-12.5zM1706 165h12.5v4.5h-12.5zM1271 169h45.5v4.5h-45.5zM1646 169h12.5v4.5h-12.5zM1706 169h12.5v4.5h-12.5zM1274 173h39.5v4.5h-39.5zM1652 173h21.5v4.5h-21.5zM1694 173h18.5v4.5h-18.5zM1280 177h33.5v4.5h-33.5zM1670 177h24.5v4.5h-24.5zM1283 181h27.5v4.5h-27.5zM1283 185h30.5v4.5h-30.5zM1286 189h30.5v4.5h-30.5zM1283 193h45.5v4.5h-45.5zM1283 197h66.5v4.5h-66.5zM1280 201h39.5v4.5h-39.5zM1337 201h39.5v4.5h-39.5zM1277 205h24.5v4.5h-24.5zM1382 205h15.5v4.5h-15.5zM1922 205h15.5v4.5h-15.5zM1277 209h18.5v4.5h-18.5zM1400 209h12.5v4.5h-12.5zM1901 209h36.5v4.5h-36.5zM1274 213h18.5v4.5h-18.5zM1412 213h9.5v4.5h-9.5zM1868 213h54.5v4.5h-54.5zM1274 217h15.5v4.5h-15.5zM1421 217h9.5v4.5h-9.5zM1850 217h42.5v4.5h-42.5zM1274 221h15.5v4.5h-15.5zM1427 221h9.5v4.5h-9.5zM1838 221h27.5v4.5h-27.5zM1274 225h15.5v4.5h-15.5zM1430 225h9.5v4.5h-9.5zM1829 225h21.5v4.5h-21.5zM1274 229h12.5v4.5h-12.5zM1436 229h9.5v4.5h-9.5zM1823 229h18.5v4.5h-18.5zM1274 233h12.5v4.5h-12.5zM1439 233h9.5v4.5h-9.5zM1817 233h18.5v4.5h-18.5zM1277 237h9.5v4.5h-9.5zM1442 237h9.5v4.5h-9.5zM1811 237h18.5v4.5h-18.5zM1154 241h12.5v4.5h-12.5zM1277 241h9.5v4.5h-9.5zM1442 241h12.5v4.5h-12.5zM1805 241h18.5v4.5h-18.5zM1154 245h15.5v4.5h-15.5zM1277 245h12.5v4.5h-12.5zM1445 245h9.5v4.5h-9.5zM1802 245h15.5v4.5h-15.5zM1154 249h21.5v4.5h-21.5zM1277 249h12.5v4.5h-12.5zM1448 249h9.5v4.5h-9.5zM1799 249h15.5v4.5h-15.5zM1169 253h9.5v4.5h-9.5zM1280 253h9.5v4.5h-9.5zM1448 253h9.5v4.5h-9.5zM1793 253h18.5v4.5h-18.5zM1172 257h9.5v4.5h-9.5zM1280 257h9.5v4.5h-9.5zM1451 257h9.5v4.5h-9.5zM1790 257h18.5v4.5h-18.5zM1175 261h9.5v4.5h-9.5zM1280 261h12.5v4.5h-12.5zM1451 261h9.5v4.5h-9.5zM1787 261h18.5v4.5h-18.5zM1178 265h6.5v4.5h-6.5zM1283 265h9.5v4.5h-9.5zM1451 265h12.5v4.5h-12.5zM1784 265h18.5v4.5h-18.5zM1178 269h9.5v4.5h-9.5zM1283 269h9.5v4.5h-9.5zM1451 269h12.5v4.5h-12.5zM1781 269h18.5v4.5h-18.5zM1181 273h6.5v4.5h-6.5zM1286 273h9.5v4.5h-9.5zM1451 273h12.5v4.5h-12.5zM1778 273h18.5v4.5h-18.5zM1181 277h9.5v4.5h-9.5zM1286 277h9.5v4.5h-9.5zM1451 277h12.5v4.5h-12.5zM1778 277h15.5v4.5h-15.5zM1184 281h6.5v4.5h-6.5zM1286 281h12.5v4.5h-12.5zM1451 281h12.5v4.5h-12.5zM1775 281h15.5v4.5h-15.5zM1184 285h6.5v4.5h-6.5zM1289 285h9.5v4.5h-9.5zM1451 285h12.5v4.5h-12.5zM1772 285h15.5v4.5h-15.5zM1184 289h6.5v4.5h-6.5zM1289 289h12.5v4.5h-12.5zM1451 289h12.5v4.5h-12.5zM1769 289h15.5v4.5h-15.5zM1184 293h9.5v4.5h-9.5zM1292 293h12.5v4.5h-12.5zM1451 293h12.5v4.5h-12.5zM1766 293h15.5v4.5h-15.5zM1187 297h6.5v4.5h-6.5zM1292 297h12.5v4.5h-12.5zM1451 297h15.5v4.5h-15.5zM1766 297h12.5v4.5h-12.5zM1187 301h6.5v4.5h-6.5zM1295 301h12.5v4.5h-12.5zM1451 301h15.5v4.5h-15.5zM1763 301h12.5v4.5h-12.5zM1187 305h6.5v4.5h-6.5zM1295 305h15.5v4.5h-15.5zM1451 305h18.5v4.5h-18.5zM1760 305h12.5v4.5h-12.5zM1187 309h6.5v4.5h-6.5zM1295 309h18.5v4.5h-18.5zM1454 309h21.5v4.5h-21.5zM1757 309h12.5v4.5h-12.5zM1187 313h6.5v4.5h-6.5zM1298 313h15.5v4.5h-15.5zM1457 313h24.5v4.5h-24.5zM1751 313h15.5v4.5h-15.5zM1190 317h6.5v4.5h-6.5zM1298 317h18.5v4.5h-18.5zM1466 317h24.5v4.5h-24.5zM1745 317h18.5v4.5h-18.5zM1190 321h6.5v4.5h-6.5zM1298 321h18.5v4.5h-18.5zM1475 321h27.5v4.5h-27.5zM1739 321h18.5v4.5h-18.5zM1193 325h3.5v4.5h-3.5zM1295 325h21.5v4.5h-21.5zM1487 325h36.5v4.5h-36.5zM1727 325h24.5v4.5h-24.5zM1193 329h6.5v4.5h-6.5zM1292 329h21.5v4.5h-21.5zM1505 329h54.5v4.5h-54.5zM1628 329h114.5v4.5h-114.5zM1196 333h3.5v4.5h-3.5zM1289 333h21.5v4.5h-21.5zM1529 333h198.5v4.5h-198.5zM1196 337h6.5v4.5h-6.5zM1286 337h21.5v4.5h-21.5zM1199 341h6.5v4.5h-6.5zM1283 341h21.5v4.5h-21.5zM1199 345h9.5v4.5h-9.5zM1277 345h24.5v4.5h-24.5zM1202 349h9.5v4.5h-9.5zM1271 349h24.5v4.5h-24.5zM1205 353h9.5v4.5h-9.5zM1265 353h24.5v4.5h-24.5zM1208 357h9.5v4.5h-9.5zM1256 357h27.5v4.5h-27.5zM1214 361h12.5v4.5h-12.5zM1250 361h27.5v4.5h-27.5zM1217 365h51.5v4.5h-51.5zM1223 369h39.5v4.5h-39.5zM1232 373h18.5v4.5h-18.5z"/>
<path fill="#66c0a3" d="M1916 45h3.5v4.5h-3.5zM1916 49h3.5v4.5h-3.5zM1916 53h3.5v4.5h-3.5zM1913 57h3.5v4.5h-3.5zM1910 61h3.5v4.5h-3.5zM1907 65h3.5v4.5h-3.5zM1904 69h3.5v4.5h-3.5zM1901 77h3.5v4.5h-3.5zM1898 81h3.5v4.5h-3.5zM1898 85h3.5v4.5h-3.5zM1895 89h3.5v4.5h-3.5zM1895 93h3.5v4.5h-3.5zM1199 105h24.5v4.5h-24.5zM1388 105h42.5v4.5h-42.5zM1895 105h3.5v4.5h-3.5zM1253 109h9.5v4.5h-9.5zM1379 109h12.5v4.5h-12.5zM1430 109h12.5v4.5h-12.5zM1895 109h3.5v4.5h-3.5zM1271 113h6.5v4.5h-6.5zM1283 117h6.5v4.5h-6.5zM1898 117h3.5v4.5h-3.5zM1292 121h9.5v4.5h-9.5zM1901 121h3.5v4.5h-3.5zM1301 125h9.5v4.5h-9.5zM1904 125h3.5v4.5h-3.5zM1304 129h9.5v4.5h-9.5zM1907 129h3.5v4.5h-3.5zM1304 133h9.5v4.5h-9.5zM1913 133h3.5v4.5h-3.5zM1304 137h12.5v4.5h-12.5zM1922 137h15.5v4.5h-15.5zM1304 141h12.5v4.5h-12.5zM1304 145h15.5v4.5h-15.5zM1307 149h15.5v4.5h-15.5zM1310 153h15.5v4.5h-15.5zM1154 157h33.5v4.5h-33.5zM1205 157h45.5v4.5h-45.5zM1313 157h15.5v4.5h-15.5zM1643 157h15.5v4.5h-15.5zM1700 157h12.5v4.5h-12.5zM1235 161h24.5v4.5h-24.5zM1316 161h12.5v4.5h-12.5zM1637 161h9.5v4.5h-9.5zM1712 161h9.5v4.5h-9.5zM1244 165h21.5v4.5h-21.5zM1316 165h12.5v4.5h-12.5zM1634 165h9.5v4.5h-9.5zM1718 165h9.5v4.5h-9.5zM1250 169h21.5v4.5h-21.5zM1316 169h12.5v4.5h-12.5zM1634 169h12.5v4.5h-12.5zM1718 169h9.5v4.5h-9.5zM1253 173h21.5v4.5h-21.5zM1313 173h15.5v4.5h-15.5zM1640 173h12.5v4.5h-12.5zM1712 173h12.5v4.5h-12.5zM1256 177h24.5v4.5h-24.5zM1313 177h15.5v4.5h-15.5zM1649 177h21.5v4.5h-21.5zM1694 177h24.5v4.5h-24.5zM1259 181h24.5v4.5h-24.5zM1310 181h21.5v4.5h-21.5zM1673 181h18.5v4.5h-18.5zM1262 185h21.5v4.5h-21.5zM1313 185h21.5v4.5h-21.5zM1262 189h24.5v4.5h-24.5zM1316 189h24.5v4.5h-24.5zM1262 193h21.5v4.5h-21.5zM1328 193h24.5v4.5h-24.5zM1262 197h21.5v4.5h-21.5zM1349 197h24.5v4.5h-24.5zM1262 201h18.5v4.5h-18.5zM1376 201h21.5v4.5h-21.5zM1907 201h30.5v4.5h-30.5zM1262 205h15.5v4.5h-15.5zM1397 205h15.5v4.5h-15.5zM1880 205h42.5v4.5h-42.5zM1262 209h15.5v4.5h-15.5zM1412 209h12.5v4.5h-12.5zM1856 209h45.5v4.5h-45.5zM1262 213h12.5v4.5h-12.5zM1421 213h12.5v4.5h-12.5zM1841 213h27.5v4.5h-27.5zM1262 217h12.5v4.5h-12.5zM1430 217h9.5v4.5h-9.5zM1829 217h21.5v4.5h-21.5zM1262 221h12.5v4.5h-12.5zM1436 221h9.5v4.5h-9.5zM1820 221h18.5v4.5h-18.5zM1262 225h12.5v4.5h-12.5zM1439 225h12.5v4.5h-12.5zM1811 225h18.5v4.5h-18.5zM1262 229h12.5v4.5h-12.5zM1445 229h9.5v4.5h-9.5zM1805 229h18.5v4.5h-18.5zM1154 233h12.5v4.5h-12.5zM1265 233h9.5v4.5h-9.5zM1448 233h9.5v4.5h-9.5zM1799 233h18.5v4.5h-18.5zM1154 237h18.5v4.5h-18.5zM1265 237h12.5v4.5h-12.5zM1451 237h9.5v4.5h-9.5zM1793 237h18.5v4.5h-18.5zM1166 241h9.5v4.5h-9.5zM1265 241h12.5v4.5h-12.5zM1454 241h9.5v4.5h-9.5zM1787 241h18.5v4.5h-18.5zM1169 245h9.5v4.5h-9.5zM1268 245h9.5v4.5h-9.5zM1454 245h9.5v4.5h-9.5zM1784 245h18.5v4.5h-18.5zM1175 249h9.5v4.5h-9.5zM1268 249h9.5v4.5h-9.5zM1457 249h9.5v4.5h-9.5zM1781 249h18.5v4.5h-18.5zM1178 253h9.5v4.5h-9.5zM1268 253h12.5v4.5h-12.5zM1457 253h12.5v4.5h-12.5zM1778 253h15.5v4.5h-15.5zM1181 257h9.5v4.5h-9.5zM1271 257h9.5v4.5h-9.5zM1460 257h9.5v4.5h-9.5zM1775 257h15.5v4.5h-15.5zM1184 261h6.5v4.5h-6.5zM1271 261h9.5v4.5h-9.5zM1460 261h12.5v4.5h-12.5zM1772 261h15.5v4.5h-15.5zM1184 265h9.5v4.5h-9.5zM1274 265h9.5v4.5h-9.5zM1463 265h9.5v4.5h-9.5zM1769 265h15.5v4.5h-15.5zM1187 269h9.5v4.5h-9.5zM1274 269h9.5v4.5h-9.5zM1463 269h9.5v4.5h-9.5zM1766 269h15.5v4.5h-15.5zM1187 273h9.5v4.5h-9.5zM1274 273h12.5v4.5h-12.5zM1463 273h12.5v4.5h-12.5zM1763 273h15.5v4.5h-15.5zM1190 277h6.5v4.5h-6.5zM1277 277h9.5v4.5h-9.5zM1463 277h12.5v4.5h-12.5zM1763 277h15.5v4.5h-15.5zM1190 281h6.5v4.5h-6.5zM1277 281h9.5v4.5h-9.5zM1463 281h12.5v4.5h-12.5zM1760 281h15.5v4.5h-15.5zM1190 285h6.5v4.5h-6.5zM1277 285h12.5v4.5h-12.5zM1463 285h12.5v4.5h-12.5zM1757 285h15.5v4.5h-15.5zM1190 289h9.5v4.5h-9.5zM1280 289h9.5v4.5h-9.5zM1463 289h15.5v4.5h-15.5zM1754 289h15.5v4.5h-15.5zM1193 293h6.5v4.5h-6.5zM1280 293h12.5v4.5h-12.5zM1463 293h15.5v4.5h-15.5zM1754 293h12.5v4.5h-12.5zM1193 297h6.5v4.5h-6.5zM1280 297h12.5v4.5h-12.5zM1466 297h15.5v4.5h-15.5zM1751 297h15.5v4.5h-15.5zM1193 301h6.5v4.5h-6.5zM1280 301h15.5v4.5h-15.5zM1466 301h18.5v4.5h-18.5zM1748 301h15.5v4.5h-15.5zM1193 305h6.5v4.5h-6.5zM1280 305h15.5v4.5h-15.5zM1469 305h21.5v4.5h-21.5zM1745 305h15.5v4.5h-15.5zM1193 309h6.5v4.5h-6.5zM1280 309h15.5v4.5h-15.5zM1475 309h21.5v4.5h-21.5zM1739 309h18.5v4.5h-18.5zM1193 313h6.5v4.5h-6.5zM1280 313h18.5v4.5h-18.5zM1481 313h24.5v4.5h-24.5zM1733 313h18.5v4.5h-18.5zM1196 317h6.5v4.5h-6.5zM1280 317h18.5v4.5h-18.5zM1490 317h30.5v4.5h-30.5zM1724 317h21.5v4.5h-21.5zM1196 321h6.5v4.5h-6.5zM1280 321h18.5v4.5h-18.5zM1502 321h48.5v4.5h-48.5zM1697 321h42.5v4.5h-42.5zM1196 325h6.5v4.5h-6.5zM1277 325h18.5v4.5h-18.5zM1523 325h204.5v4.5h-204.5zM1199 329h6.5v4.5h-6.5zM1274 329h18.5v4.5h-18.5zM1559 329h69.5v4.5h-69.5zM1199 333h9.5v4.5h-9.5zM1271 333h18.5v4.5h-18.5zM1202 337h6.5v4.5h-6.5zM1265 337h21.5v4.5h-21.5zM1205 341h6.5v4.5h-6.5zM1262 341h21.5v4.5h-21.5zM1208 345h9.5v4.5h-9.5zM1256 345h21.5v4.5h-21.5zM1211 349h9.5v4.5h-9.5zM1250 349h21.5v4.5h-21.5zM1214 353h15.5v4.5h-15.5zM1241 353h24.5v4.5h-24.5zM1217 357h39.5v4.5h-39.5zM1226 361h24.5v4.5h-24.5z"/>
<path fill="#62bda3" d="M1913 45h3.5v4.5h-3.5zM1913 49h3.5v4.5h-3.5zM1913 53h3.5v4.5h-3.5zM1910 57h3.5v4.5h-3.5zM1907 61h3.5v4.5h-3.5zM1904 65h3.5v4.5h-3.5zM1901 73h3.5v4.5h-3.5zM1898 77h3.5v4.5h-3.5zM1895 85h3.5v4.5h-3.5zM1892 93h3.5v4.5h-3.5zM1892 97h3.5v4.5h-3.5zM1154 101h12.5v4.5h-12.5zM1892 101h3.5v4.5h-3.5zM1223 105h18.5v4.5h-18.5zM1379 105h9.5v4.5h-9.5zM1430 105h12.5v4.5h-12.5zM1892 105h3.5v4.5h-3.5zM1262 109h6.5v4.5h-6.5zM1373 109h6.5v4.5h-6.5zM1442 109h9.5v4.5h-9.5zM1892 109h3.5v4.5h-3.5zM1277 113h6.5v4.5h-6.5zM1385 113h63.5v4.5h-63.5zM1895 113h3.5v4.5h-3.5zM1289 117h9.5v4.5h-9.5zM1895 117h3.5v4.5h-3.5zM1301 121h12.5v4.5h-12.5zM1898 121h3.5v4.5h-3.5zM1310 125h9.5v4.5h-9.5zM1901 125h3.5v4.5h-3.5zM1313 129h9.5v4.5h-9.5zM1904 129h3.5v4.5h-3.5zM1313 133h9.5v4.5h-9.5zM1907 133h6.5v4.5h-6.5zM1316 137h9.5v4.5h-9.5zM1913 137h9.5v4.5h-9.5zM1316 141h12.5v4.5h-12.5zM1319 145h9.5v4.5h-9.5zM1322 149h9.5v4.5h-9.5zM1325 153h9.5v4.5h-9.5zM1646 153h57.5v4.5h-57.5zM1187 157h18.5v4.5h-18.5zM1328 157h9.5v4.5h-9.5zM1631 157h12.5v4.5h-12.5zM1712 157h9.5v4.5h-9.5zM1211 161h24.5v4.5h-24.5zM1328 161h9.5v4.5h-9.5zM1625 161h12.5v4.5h-12.5zM1721 161h9.5v4.5h-9.5zM1226 165h18.5v4.5h-18.5zM1328 165h12.5v4.5h-12.5zM1622 165h12.5v4.5h-12.5zM1727 165h6.5v4.5h-6.5zM1232 169h18.5v4.5h-18.5zM1328 169h12.5v4.5h-12.5zM1622 169h12.5v4.5h-12.5zM1727 169h9.5v4.5h-9.5zM1238 173h15.5v4.5h-15.5zM1328 173h12.5v4.5h-12.5zM1625 173h15.5v4.5h-15.5zM1724 173h9.5v4.5h-9.5zM1241 177h15.5v4.5h-15.5zM1328 177h12.5v4.5h-12.5zM1631 177h18.5v4.5h-18.5zM1718 177h12.5v4.5h-12.5zM1244 181h15.5v4.5h-15.5zM1331 181h12.5v4.5h-12.5zM1643 181h30.5v4.5h-30.5zM1691 181h30.5v4.5h-30.5zM1247 185h15.5v4.5h-15.5zM1334 185h15.5v4.5h-15.5zM1679 185h6.5v4.5h-6.5zM1247 189h15.5v4.5h-15.5zM1340 189h15.5v4.5h-15.5zM1247 193h15.5v4.5h-15.5zM1352 193h18.5v4.5h-18.5zM1913 193h24.5v4.5h-24.5zM1247 197h15.5v4.5h-15.5zM1373 197h21.5v4.5h-21.5zM1892 197h45.5v4.5h-45.5zM1247 201h15.5v4.5h-15.5zM1397 201h15.5v4.5h-15.5zM1868 201h39.5v4.5h-39.5zM1247 205h15.5v4.5h-15.5zM1412 205h15.5v4.5h-15.5zM1847 205h33.5v4.5h-33.5zM1247 209h15.5v4.5h-15.5zM1424 209h15.5v4.5h-15.5zM1829 209h27.5v4.5h-27.5zM1247 213h15.5v4.5h-15.5zM1433 213h12.5v4.5h-12.5zM1817 213h24.5v4.5h-24.5zM1247 217h15.5v4.5h-15.5zM1439 217h15.5v4.5h-15.5zM1805 217h24.5v4.5h-24.5zM1250 221h12.5v4.5h-12.5zM1445 221h12.5v4.5h-12.5zM1796 221h24.5v4.5h-24.5zM1154 225h12.5v4.5h-12.5zM1250 225h12.5v4.5h-12.5zM1451 225h9.5v4.5h-9.5zM1787 225h24.5v4.5h-24.5zM1154 229h18.5v4.5h-18.5zM1250 229h12.5v4.5h-12.5zM1454 229h12.5v4.5h-12.5zM1781 229h24.5v4.5h-24.5zM1166 233h9.5v4.5h-9.5zM1250 233h15.5v4.5h-15.5zM1457 233h12.5v4.5h-12.5zM1775 233h24.5v4.5h-24.5zM1172 237h9.5v4.5h-9.5zM1253 237h12.5v4.5h-12.5zM1460 237h9.5v4.5h-9.5zM1772 237h21.5v4.5h-21.5zM1175 241h12.5v4.5h-12.5zM1253 241h12.5v4.5h-12.5zM1463 241h9.5v4.5h-9.5zM1766 241h21.5v4.5h-21.5zM1178 245h12.5v4.5h-12.5zM1256 245h12.5v4.5h-12.5zM1463 245h12.5v4.5h-12.5zM1763 245h21.5v4.5h-21.5zM1184 249h9.5v4.5h-9.5zM1256 249h12.5v4.5h-12.5zM1466 249h12.5v4.5h-12.5zM1760 249h21.5v4.5h-21.5zM1187 253h9.5v4.5h-9.5zM1259 253h9.5v4.5h-9.5zM1469 253h9.5v4.5h-9.5zM1757 253h21.5v4.5h-21.5zM1190 257h9.5v4.5h-9.5zM1259 257h12.5v4.5h-12.5zM1469 257h12.5v4.5h-12.5zM1757 257h18.5v4.5h-18.5zM1190 261h12.5v4.5h-12.5zM1262 261h9.5v4.5h-9.5zM1472 261h9.5v4.5h-9.5zM1754 261h18.5v4.5h-18.5zM1193 265h9.5v4.5h-9.5zM1262 265h12.5v4.5h-12.5zM1472 265h12.5v4.5h-12.5zM1751 265h18.5v4.5h-18.5zM1196 269h6.5v4.5h-6.5zM1262 269h12.5v4.5h-12.5zM1472 269h12.5v4.5h-12.5zM1748 269h18.5v4.5h-18.5zM1196 273h9.5v4.5h-9.5zM1265 273h9.5v4.5h-9.5zM1475 273h12.5v4.5h-12.5zM1748 273h15.5v4.5h-15.5zM1196 277h9.5v4.5h-9.5zM1265 277h12.5v4.5h-12.5zM1475 277h12.5v4.5h-12.5zM1745 277h18.5v4.5h-18.5zM1196 281h9.5v4.5h-9.5zM1265 281h12.5v4.5h-12.5zM1475 281h15.5v4.5h-15.5zM1745 281h15.5v4.5h-15.5zM1196 285h9.5v4.5h-9.5zM1268 285h9.5v4.5h-9.5zM1475 285h15.5v4.5h-15.5zM1742 285h15.5v4.5h-15.5zM1199 289h6.5v4.5h-6.5zM1268 289h12.5v4.5h-12.5zM1478 289h15.5v4.5h-15.5zM1739 289h15.5v4.5h-15.5zM1199 293h6.5v4.5h-6.5zM1268 293h12.5v4.5h-12.5zM1478 293h18.5v4.5h-18.5zM1736 293h18.5v4.5h-18.5zM1199 297h6.5v4.5h-6.5zM1268 297h12.5v4.5h-12.5zM1481 297h18.5v4.5h-18.5zM1733 297h18.5v4.5h-18.5zM1199 301h6.5v4.5h-6.5zM1268 301h12.5v4.5h-12.5zM1484 301h21.5v4.5h-21.5zM1727 301h21.5v4.5h-21.5zM1199 305h6.5v4.5h-6.5zM1268 305h12.5v4.5h-12.5zM1490 305h24.5v4.5h-24.5zM1721 305h24.5v4.5h-24.5zM1199 309h6.5v4.5h-6.5zM1268 309h12.5v4.5h-12.5zM1496 309h33.5v4.5h-33.5zM1712 309h27.5v4.5h-27.5zM1199 313h9.5v4.5h-9.5zM1268 313h12.5v4.5h-12.5zM1505 313h51.5v4.5h-51.5zM1682 313h51.5v4.5h-51.5zM1202 317h6.5v4.5h-6.5zM1265 317h15.5v4.5h-15.5zM1520 317h204.5v4.5h-204.5zM1202 321h6.5v4.5h-6.5zM1262 321h18.5v4.5h-18.5zM1550 321h147.5v4.5h-147.5zM1202 325h9.5v4.5h-9.5zM1259 325h18.5v4.5h-18.5zM1205 329h6.5v4.5h-6.5zM1256 329h18.5v4.5h-18.5zM1208 333h6.5v4.5h-6.5zM1253 333h18.5v4.5h-18.5zM1208 337h9.5v4.5h-9.5zM1250 337h15.5v4.5h-15.5zM1211 341h12.5v4.5h-12.5zM1241 341h21.5v4.5h-21.5zM1217 345h39.5v4.5h-39.5zM1220 349h30.5v4.5h-30.5zM1229 353h12.5v4.5h-12.5z"/>
<path fill="#5eb9a3" d="M1910 45h3.5v4.5h-3.5zM1910 49h3.5v4.5h-3.5zM1910 53h3.5v4.5h-3.5zM1907 57h3.5v4.5h-3.5zM1904 61h3.5v4.5h-3.5zM1901 69h3.5v4.5h-3.5zM1898 73h3.5v4.5h-3.5zM1895 81h3.5v4.5h-3.5zM1892 89h3.5v4.5h-3.5zM1166 101h24.5v4.5h-24.5zM1889 101h3.5v4.5h-3.5zM1241 105h9.5v4.5h-9.5zM1373 105h6.5v4.5h-6.5zM1442 105h6.5v4.5h-6.5zM1268 109h6.5v4.5h-6.5zM1367 109h6.5v4.5h-6.5zM1451 109h9.5v4.5h-9.5zM1283 113h6.5v4.5h-6.5zM1373 113h12.5v4.5h-12.5zM1448 113h12.5v4.5h-12.5zM1892 113h3.5v4.5h-3.5zM1298 117h9.5v4.5h-9.5zM1892 117h3.5v4.5h-3.5zM1313 121h9.5v4.5h-9.5zM1895 121h3.5v4.5h-3.5zM1319 125h9.5v4.5h-9.5zM1895 125h6.5v4.5h-6.5zM1322 129h9.5v4.5h-9.5zM1898 129h6.5v4.5h-6.5zM1322 133h9.5v4.5h-9.5zM1904 133h3.5v4.5h-3.5zM1325 137h9.5v4.5h-9.5zM1907 137h6.5v4.5h-6.5zM1328 141h9.5v4.5h-9.5zM1916 141h21.5v4.5h-21.5zM1328 145h9.5v4.5h-9.5zM1331 149h9.5v4.5h-9.5zM1334 153h9.5v4.5h-9.5zM1631 153h15.5v4.5h-15.5zM1703 153h9.5v4.5h-9.5zM1337 157h9.5v4.5h-9.5zM1619 157h12.5v4.5h-12.5zM1721 157h6.5v4.5h-6.5zM1154 161h57.5v4.5h-57.5zM1337 161h9.5v4.5h-9.5zM1613 161h12.5v4.5h-12.5zM1730 161h6.5v4.5h-6.5zM1211 165h15.5v4.5h-15.5zM1340 165h9.5v4.5h-9.5zM1610 165h12.5v4.5h-12.5zM1733 165h9.5v4.5h-9.5zM1220 169h12.5v4.5h-12.5zM1340 169h9.5v4.5h-9.5zM1610 169h12.5v4.5h-12.5zM1736 169h6.5v4.5h-6.5zM1226 173h12.5v4.5h-12.5zM1340 173h9.5v4.5h-9.5zM1613 173h12.5v4.5h-12.5zM1733 173h9.5v4.5h-9.5zM1229 177h12.5v4.5h-12.5zM1340 177h12.5v4.5h-12.5zM1616 177h15.5v4.5h-15.5zM1730 177h12.5v4.5h-12.5zM1232 181h12.5v4.5h-12.5zM1343 181h12.5v4.5h-12.5zM1622 181h21.5v4.5h-21.5zM1721 181h18.5v4.5h-18.5zM1235 185h12.5v4.5h-12.5zM1349 185h12.5v4.5h-12.5zM1634 185h45.5v4.5h-45.5zM1685 185h45.5v4.5h-45.5zM1919 185h18.5v4.5h-18.5zM1235 189h12.5v4.5h-12.5zM1355 189h18.5v4.5h-18.5zM1664 189h39.5v4.5h-39.5zM1901 189h36.5v4.5h-36.5zM1235 193h12.5v4.5h-12.5zM1370 193h21.5v4.5h-21.5zM1883 193h30.5v4.5h-30.5zM1235 197h12.5v4.5h-12.5zM1394 197h18.5v4.5h-18.5zM1859 197h33.5v4.5h-33.5zM1235 201h12.5v4.5h-12.5zM1412 201h18.5v4.5h-18.5zM1838 201h30.5v4.5h-30.5zM1235 205h12.5v4.5h-12.5zM1427 205h18.5v4.5h-18.5zM1820 205h27.5v4.5h-27.5zM1235 209h12.5v4.5h-12.5zM1439 209h18.5v4.5h-18.5zM1802 209h27.5v4.5h-27.5zM1235 213h12.5v4.5h-12.5zM1445 213h18.5v4.5h-18.5zM1784 213h33.5v4.5h-33.5zM1235 217h12.5v4.5h-12.5zM1454 217h15.5v4.5h-15.5zM1772 217h33.5v4.5h-33.5zM1154 221h18.5v4.5h-18.5zM1235 221h15.5v4.5h-15.5zM1457 221h15.5v4.5h-15.5zM1763 221h33.5v4.5h-33.5zM1166 225h12.5v4.5h-12.5zM1235 225h15.5v4.5h-15.5zM1460 225h15.5v4.5h-15.5zM1757 225h30.5v4.5h-30.5zM1172 229h12.5v4.5h-12.5zM1238 229h12.5v4.5h-12.5zM1466 229h12.5v4.5h-12.5zM1751 229h30.5v4.5h-30.5zM1175 233h15.5v4.5h-15.5zM1238 233h12.5v4.5h-12.5zM1469 233h12.5v4.5h-12.5zM1748 233h27.5v4.5h-27.5zM1181 237h12.5v4.5h-12.5zM1238 237h15.5v4.5h-15.5zM1469 237h12.5v4.5h-12.5zM1745 237h27.5v4.5h-27.5zM1187 241h12.5v4.5h-12.5zM1238 241h15.5v4.5h-15.5zM1472 241h12.5v4.5h-12.5zM1742 241h24.5v4.5h-24.5zM1190 245h15.5v4.5h-15.5zM1241 245h15.5v4.5h-15.5zM1475 245h12.5v4.5h-12.5zM1739 245h24.5v4.5h-24.5zM1193 249h15.5v4.5h-15.5zM1244 249h12.5v4.5h-12.5zM1478 249h12.5v4.5h-12.5zM1736 249h24.5v4.5h-24.5zM1196 253h12.5v4.5h-12.5zM1244 253h15.5v4.5h-15.5zM1478 253h12.5v4.5h-12.5zM1736 253h21.5v4.5h-21.5zM1199 257h12.5v4.5h-12.5zM1247 257h12.5v4.5h-12.5zM1481 257h12.5v4.5h-12.5zM1733 257h24.5v4.5h-24.5zM1202 261h9.5v4.5h-9.5zM1247 261h15.5v4.5h-15.5zM1481 261h15.5v4.5h-15.5zM1730 261h24.5v4.5h-24.5zM1202 265h12.5v4.5h-12.5zM1250 265h12.5v4.5h-12.5zM1484 265h12.5v4.5h-12.5zM1730 265h21.5v4.5h-21.5zM1202 269h12.5v4.5h-12.5zM1250 269h12.5v4.5h-12.5zM1484 269h15.5v4.5h-15.5zM1727 269h21.5v4.5h-21.5zM1205 273h9.5v4.5h-9.5zM1253 273h12.5v4.5h-12.5zM1487 273h12.5v4.5h-12.5zM1727 273h21.5v4.5h-21.5zM1205 277h9.5v4.5h-9.5zM1253 277h12.5v4.5h-12.5zM1487 277h15.5v4.5h-15.5zM1724 277h21.5v4.5h-21.5zM1205 281h9.5v4.5h-9.5zM1256 281h9.5v4.5h-9.5zM1490 281h15.5v4.5h-15.5zM1721 281h24.5v4.5h-24.5zM1205 285h9.5v4.5h-9.5zM1256 285h12.5v4.5h-12.5zM1490 285h18.5v4.5h-18.5zM1718 285h24.5v4.5h-24.5zM1205 289h9.5v4.5h-9.5zM1256 289h12.5v4.5h-12.5zM1493 289h21.5v4.5h-21.5zM1715 289h24.5v4.5h-24.5zM1205 293h9.5v4.5h-9.5zM1256 293h12.5v4.5h-12.5zM1496 293h24.5v4.5h-24.5zM1712 293h24.5v4.5h-24.5zM1205 297h9.5v4.5h-9.5zM1256 297h12.5v4.5h-12.5zM1499 297h30.5v4.5h-30.5zM1703 297h30.5v4.5h-30.5zM1205 301h9.5v4.5h-9.5zM1256 301h12.5v4.5h-12.5zM1505 301h39.5v4.5h-39.5zM1685 301h42.5v4.5h-42.5zM1205 305h9.5v4.5h-9.5zM1256 305h12.5v4.5h-12.5zM1514 305h207.5v4.5h-207.5zM1205 309h9.5v4.5h-9.5zM1253 309h15.5v4.5h-15.5zM1529 309h183.5v4.5h-183.5zM1208 313h6.5v4.5h-6.5zM1253 313h15.5v4.5h-15.5zM1556 313h126.5v4.5h-126.5zM1208 317h9.5v4.5h-9.5zM1250 317h15.5v4.5h-15.5zM1208 321h9.5v4.5h-9.5zM1250 321h12.5v4.5h-12.5zM1211 325h9.5v4.5h-9.5zM1244 325h15.5v4.5h-15.5zM1211 329h12.5v4.5h-12.5zM1241 329h15.5v4.5h-15.5zM1214 333h39.5v4.5h-39.5zM1217 337h33.5v4.5h-33.5zM1223 341h18.5v4.5h-18.5z"/>
<path fill="#5bb5a3" d="M1907 45h3.5v4.5h-3.5zM1907 49h3.5v4.5h-3.5zM1907 53h3.5v4.5h-3.5zM1904 57h3.5v4.5h-3.5zM1901 65h3.5v4.5h-3.5zM1898 69h3.5v4.5h-3.5zM1895 77h3.5v4.5h-3.5zM1892 85h3.5v4.5h-3.5zM1889 93h3.5v4.5h-3.5zM1889 97h3.5v4.5h-3.5zM1190 101h27.5v4.5h-27.5zM1388 101h42.5v4.5h-42.5zM1250 105h9.5v4.5h-9.5zM1367 105h6.5v4.5h-6.5zM1448 105h9.5v4.5h-9.5zM1889 105h3.5v4.5h-3.5zM1274 109h3.5v4.5h-3.5zM1361 109h6.5v4.5h-6.5zM1460 109h6.5v4.5h-6.5zM1889 109h3.5v4.5h-3.5zM1289 113h6.5v4.5h-6.5zM1361 113h12.5v4.5h-12.5zM1460 113h12.5v4.5h-12.5zM1889 113h3.5v4.5h-3.5zM1307 117h12.5v4.5h-12.5zM1421 117h54.5v4.5h-54.5zM1889 117h3.5v4.5h-3.5zM1322 121h9.5v4.5h-9.5zM1892 121h3.5v4.5h-3.5zM1328 125h9.5v4.5h-9.5zM1892 125h3.5v4.5h-3.5zM1331 129h6.5v4.5h-6.5zM1895 129h3.5v4.5h-3.5zM1331 133h9.5v4.5h-9.5zM1898 133h6.5v4.5h-6.5zM1334 137h9.5v4.5h-9.5zM1901 137h6.5v4.5h-6.5zM1337 141h6.5v4.5h-6.5zM1907 141h9.5v4.5h-9.5zM1337 145h9.5v4.5h-9.5zM1916 145h21.5v4.5h-21.5zM1340 149h9.5v4.5h-9.5zM1637 149h60.5v4.5h-60.5zM1343 153h9.5v4.5h-9.5zM1613 153h18.5v4.5h-18.5zM1712 153h12.5v4.5h-12.5zM1346 157h9.5v4.5h-9.5zM1496 157h18.5v4.5h-18.5zM1604 157h15.5v4.5h-15.5zM1727 157h9.5v4.5h-9.5zM1346 161h9.5v4.5h-9.5zM1484 161h39.5v4.5h-39.5zM1598 161h15.5v4.5h-15.5zM1736 161h6.5v4.5h-6.5zM1193 165h18.5v4.5h-18.5zM1349 165h9.5v4.5h-9.5zM1475 165h51.5v4.5h-51.5zM1595 165h15.5v4.5h-15.5zM1742 165h6.5v4.5h-6.5zM1205 169h15.5v4.5h-15.5zM1349 169h9.5v4.5h-9.5zM1472 169h54.5v4.5h-54.5zM1595 169h15.5v4.5h-15.5zM1742 169h9.5v4.5h-9.5zM1214 173h12.5v4.5h-12.5zM1349 173h12.5v4.5h-12.5zM1469 173h57.5v4.5h-57.5zM1595 173h18.5v4.5h-18.5zM1742 173h9.5v4.5h-9.5zM1217 177h12.5v4.5h-12.5zM1352 177h12.5v4.5h-12.5zM1469 177h57.5v4.5h-57.5zM1598 177h18.5v4.5h-18.5zM1742 177h9.5v4.5h-9.5zM1919 177h18.5v4.5h-18.5zM1220 181h12.5v4.5h-12.5zM1355 181h12.5v4.5h-12.5zM1472 181h51.5v4.5h-51.5zM1601 181h21.5v4.5h-21.5zM1739 181h12.5v4.5h-12.5zM1910 181h27.5v4.5h-27.5zM1223 185h12.5v4.5h-12.5zM1361 185h15.5v4.5h-15.5zM1475 185h45.5v4.5h-45.5zM1607 185h27.5v4.5h-27.5zM1730 185h18.5v4.5h-18.5zM1895 185h24.5v4.5h-24.5zM1223 189h12.5v4.5h-12.5zM1373 189h18.5v4.5h-18.5zM1478 189h39.5v4.5h-39.5zM1613 189h51.5v4.5h-51.5zM1703 189h42.5v4.5h-42.5zM1874 189h27.5v4.5h-27.5zM1223 193h12.5v4.5h-12.5zM1391 193h27.5v4.5h-27.5zM1478 193h33.5v4.5h-33.5zM1628 193h114.5v4.5h-114.5zM1853 193h30.5v4.5h-30.5zM1226 197h9.5v4.5h-9.5zM1412 197h36.5v4.5h-36.5zM1475 197h24.5v4.5h-24.5zM1661 197h78.5v4.5h-78.5zM1832 197h27.5v4.5h-27.5zM1223 201h12.5v4.5h-12.5zM1430 201h57.5v4.5h-57.5zM1724 201h15.5v4.5h-15.5zM1796 201h42.5v4.5h-42.5zM1223 205h12.5v4.5h-12.5zM1445 205h42.5v4.5h-42.5zM1727 205h93.5v4.5h-93.5zM1223 209h12.5v4.5h-12.5zM1457 209h30.5v4.5h-30.5zM1718 209h84.5v4.5h-84.5zM1154 213h15.5v4.5h-15.5zM1223 213h12.5v4.5h-12.5zM1463 213h24.5v4.5h-24.5zM1712 213h72.5v4.5h-72.5zM1154 217h21.5v4.5h-21.5zM1220 217h15.5v4.5h-15.5zM1469 217h21.5v4.5h-21.5zM1706 217h66.5v4.5h-66.5zM1172 221h12.5v4.5h-12.5zM1220 221h15.5v4.5h-15.5zM1472 221h18.5v4.5h-18.5zM1703 221h60.5v4.5h-60.5zM1178 225h18.5v4.5h-18.5zM1217 225h18.5v4.5h-18.5zM1475 225h18.5v4.5h-18.5zM1703 225h54.5v4.5h-54.5zM1184 229h54.5v4.5h-54.5zM1478 229h15.5v4.5h-15.5zM1700 229h51.5v4.5h-51.5zM1190 233h48.5v4.5h-48.5zM1481 233h15.5v4.5h-15.5zM1700 233h48.5v4.5h-48.5zM1193 237h45.5v4.5h-45.5zM1481 237h18.5v4.5h-18.5zM1700 237h45.5v4.5h-45.5zM1199 241h39.5v4.5h-39.5zM1484 241h15.5v4.5h-15.5zM1700 241h42.5v4.5h-42.5zM1205 245h36.5v4.5h-36.5zM1487 245h15.5v4.5h-15.5zM1700 245h39.5v4.5h-39.5zM1208 249h36.5v4.5h-36.5zM1490 249h15.5v4.5h-15.5zM1700 249h36.5v4.5h-36.5zM1208 253h36.5v4.5h-36.5zM1490 253h18.5v4.5h-18.5zM1700 253h36.5v4.5h-36.5zM1211 257h36.5v4.5h-36.5zM1493 257h18.5v4.5h-18.5zM1700 257h33.5v4.5h-33.5zM1211 261h36.5v4.5h-36.5zM1496 261h15.5v4.5h-15.5zM1697 261h33.5v4.5h-33.5zM1214 265h36.5v4.5h-36.5zM1496 265h18.5v4.5h-18.5zM1697 265h33.5v4.5h-33.5zM1214 269h36.5v4.5h-36.5zM1499 269h18.5v4.5h-18.5zM1694 269h33.5v4.5h-33.5zM1214 273h39.5v4.5h-39.5zM1499 273h24.5v4.5h-24.5zM1691 273h36.5v4.5h-36.5zM1214 277h39.5v4.5h-39.5zM1502 277h24.5v4.5h-24.5zM1688 277h36.5v4.5h-36.5zM1214 281h15.5v4.5h-15.5zM1235 281h21.5v4.5h-21.5zM1505 281h27.5v4.5h-27.5zM1682 281h39.5v4.5h-39.5zM1214 285h12.5v4.5h-12.5zM1238 285h18.5v4.5h-18.5zM1508 285h33.5v4.5h-33.5zM1670 285h48.5v4.5h-48.5zM1214 289h12.5v4.5h-12.5zM1241 289h15.5v4.5h-15.5zM1514 289h45.5v4.5h-45.5zM1610 289h105.5v4.5h-105.5zM1214 293h9.5v4.5h-9.5zM1241 293h15.5v4.5h-15.5zM1520 293h192.5v4.5h-192.5zM1214 297h9.5v4.5h-9.5zM1241 297h15.5v4.5h-15.5zM1529 297h174.5v4.5h-174.5zM1214 301h9.5v4.5h-9.5zM1241 301h15.5v4.5h-15.5zM1544 301h141.5v4.5h-141.5zM1214 305h12.5v4.5h-12.5zM1241 305h15.5v4.5h-15.5zM1214 309h12.5v4.5h-12.5zM1238 309h15.5v4.5h-15.5zM1214 313h15.5v4.5h-15.5zM1235 313h18.5v4.5h-18.5zM1217 317h33.5v4.5h-33.5zM1217 321h33.5v4.5h-33.5zM1220 325h24.5v4.5h-24.5zM1223 329h18.5v4.5h-18.5z"/>
<path fill="#57b2a3" d="M1904 45h3.5v4.5h-3.5zM1904 49h3.5v4.5h-3.5zM1904 53h3.5v4.5h-3.5zM1901 61h3.5v4.5h-3.5zM1898 65h3.5v4.5h-3.5zM1895 73h3.5v4.5h-3.5zM1892 81h3.5v4.5h-3.5zM1889 89h3.5v4.5h-3.5zM1886 97h3.5v4.5h-3.5zM1217 101h15.5v4.5h-15.5zM1379 101h9.5v4.5h-9.5zM1430 101h12.5v4.5h-12.5zM1886 101h3.5v4.5h-3.5zM1259 105h6.5v4.5h-6.5zM1364 105h3.5v4.5h-3.5zM1457 105h6.5v4.5h-6.5zM1886 105h3.5v4.5h-3.5zM1277 109h6.5v4.5h-6.5zM1355 109h6.5v4.5h-6.5zM1466 109h6.5v4.5h-6.5zM1886 109h3.5v4.5h-3.5zM1295 113h9.5v4.5h-9.5zM1349 113h12.5v4.5h-12.5zM1472 113h6.5v4.5h-6.5zM1886 113h3.5v4.5h-3.5zM1319 117h21.5v4.5h-21.5zM1373 117h48.5v4.5h-48.5zM1475 117h12.5v4.5h-12.5zM1886 117h3.5v4.5h-3.5zM1331 121h12.5v4.5h-12.5zM1454 121h45.5v4.5h-45.5zM1889 121h3.5v4.5h-3.5zM1337 125h6.5v4.5h-6.5zM1472 125h36.5v4.5h-36.5zM1889 125h3.5v4.5h-3.5zM1337 129h9.5v4.5h-9.5zM1481 129h30.5v4.5h-30.5zM1892 129h3.5v4.5h-3.5zM1340 133h6.5v4.5h-6.5zM1493 133h18.5v4.5h-18.5zM1895 133h3.5v4.5h-3.5zM1343 137h6.5v4.5h-6.5zM1499 137h15.5v4.5h-15.5zM1898 137h3.5v4.5h-3.5zM1343 141h9.5v4.5h-9.5zM1499 141h21.5v4.5h-21.5zM1901 141h6.5v4.5h-6.5zM1346 145h9.5v4.5h-9.5zM1496 145h36.5v4.5h-36.5zM1907 145h9.5v4.5h-9.5zM1349 149h9.5v4.5h-9.5zM1487 149h54.5v4.5h-54.5zM1610 149h27.5v4.5h-27.5zM1697 149h15.5v4.5h-15.5zM1913 149h24.5v4.5h-24.5zM1352 153h9.5v4.5h-9.5zM1481 153h69.5v4.5h-69.5zM1586 153h27.5v4.5h-27.5zM1724 153h6.5v4.5h-6.5zM1916 153h21.5v4.5h-21.5zM1355 157h9.5v4.5h-9.5zM1469 157h27.5v4.5h-27.5zM1514 157h48.5v4.5h-48.5zM1568 157h36.5v4.5h-36.5zM1736 157h6.5v4.5h-6.5zM1922 157h15.5v4.5h-15.5zM1355 161h9.5v4.5h-9.5zM1460 161h24.5v4.5h-24.5zM1523 161h75.5v4.5h-75.5zM1742 161h9.5v4.5h-9.5zM1922 161h15.5v4.5h-15.5zM1154 165h39.5v4.5h-39.5zM1358 165h9.5v4.5h-9.5zM1451 165h24.5v4.5h-24.5zM1526 165h69.5v4.5h-69.5zM1748 165h6.5v4.5h-6.5zM1919 165h18.5v4.5h-18.5zM1193 169h12.5v4.5h-12.5zM1358 169h12.5v4.5h-12.5zM1448 169h24.5v4.5h-24.5zM1526 169h69.5v4.5h-69.5zM1751 169h6.5v4.5h-6.5zM1916 169h21.5v4.5h-21.5zM1202 173h12.5v4.5h-12.5zM1361 173h12.5v4.5h-12.5zM1445 173h24.5v4.5h-24.5zM1526 173h69.5v4.5h-69.5zM1751 173h9.5v4.5h-9.5zM1910 173h27.5v4.5h-27.5zM1205 177h12.5v4.5h-12.5zM1364 177h12.5v4.5h-12.5zM1445 177h24.5v4.5h-24.5zM1526 177h72.5v4.5h-72.5zM1751 177h12.5v4.5h-12.5zM1901 177h18.5v4.5h-18.5zM1208 181h12.5v4.5h-12.5zM1367 181h18.5v4.5h-18.5zM1442 181h30.5v4.5h-30.5zM1523 181h78.5v4.5h-78.5zM1751 181h15.5v4.5h-15.5zM1886 181h24.5v4.5h-24.5zM1211 185h12.5v4.5h-12.5zM1376 185h24.5v4.5h-24.5zM1439 185h36.5v4.5h-36.5zM1520 185h87.5v4.5h-87.5zM1748 185h21.5v4.5h-21.5zM1868 185h27.5v4.5h-27.5zM1211 189h12.5v4.5h-12.5zM1391 189h87.5v4.5h-87.5zM1517 189h96.5v4.5h-96.5zM1745 189h27.5v4.5h-27.5zM1850 189h24.5v4.5h-24.5zM1211 193h12.5v4.5h-12.5zM1418 193h60.5v4.5h-60.5zM1511 193h117.5v4.5h-117.5zM1742 193h48.5v4.5h-48.5zM1820 193h33.5v4.5h-33.5zM1211 197h15.5v4.5h-15.5zM1448 197h27.5v4.5h-27.5zM1499 197h162.5v4.5h-162.5zM1739 197h93.5v4.5h-93.5zM1211 201h12.5v4.5h-12.5zM1487 201h237.5v4.5h-237.5zM1739 201h57.5v4.5h-57.5zM1208 205h15.5v4.5h-15.5zM1487 205h240.5v4.5h-240.5zM1154 209h21.5v4.5h-21.5zM1205 209h18.5v4.5h-18.5zM1487 209h231.5v4.5h-231.5zM1169 213h54.5v4.5h-54.5zM1487 213h225.5v4.5h-225.5zM1175 217h45.5v4.5h-45.5zM1490 217h99.5v4.5h-99.5zM1613 217h93.5v4.5h-93.5zM1184 221h36.5v4.5h-36.5zM1490 221h87.5v4.5h-87.5zM1628 221h75.5v4.5h-75.5zM1196 225h21.5v4.5h-21.5zM1493 225h78.5v4.5h-78.5zM1634 225h69.5v4.5h-69.5zM1493 229h72.5v4.5h-72.5zM1637 229h63.5v4.5h-63.5zM1496 233h57.5v4.5h-57.5zM1640 233h60.5v4.5h-60.5zM1499 237h48.5v4.5h-48.5zM1640 237h60.5v4.5h-60.5zM1499 241h45.5v4.5h-45.5zM1643 241h57.5v4.5h-57.5zM1502 245h42.5v4.5h-42.5zM1643 245h57.5v4.5h-57.5zM1505 249h42.5v4.5h-42.5zM1640 249h60.5v4.5h-60.5zM1508 253h42.5v4.5h-42.5zM1637 253h63.5v4.5h-63.5zM1511 257h42.5v4.5h-42.5zM1634 257h66.5v4.5h-66.5zM1511 261h48.5v4.5h-48.5zM1625 261h72.5v4.5h-72.5zM1514 265h57.5v4.5h-57.5zM1604 265h93.5v4.5h-93.5zM1517 269h177.5v4.5h-177.5zM1523 273h168.5v4.5h-168.5zM1526 277h162.5v4.5h-162.5zM1229 281h6.5v4.5h-6.5zM1532 281h150.5v4.5h-150.5zM1226 285h12.5v4.5h-12.5zM1541 285h129.5v4.5h-129.5zM1226 289h15.5v4.5h-15.5zM1559 289h51.5v4.5h-51.5zM1223 293h18.5v4.5h-18.5zM1223 297h18.5v4.5h-18.5zM1223 301h18.5v4.5h-18.5zM1226 305h15.5v4.5h-15.5zM1226 309h12.5v4.5h-12.5zM1229 313h6.5v4.5h-6.5z"/>
<path fill="#55aea3" d="M1901 45h3.5v4.5h-3.5zM1901 49h3.5v4.5h-3.5zM1901 53h3.5v4.5h-3.5zM1901 57h3.5v4.5h-3.5zM1898 61h3.5v4.5h-3.5zM1895 69h3.5v4.5h-3.5zM1892 77h3.5v4.5h-3.5zM1889 85h3.5v4.5h-3.5zM1886 93h3.5v4.5h-3.5zM1154 97h15.5v4.5h-15.5zM1883 97h3.5v4.5h-3.5zM1232 101h9.5v4.5h-9.5zM1373 101h6.5v4.5h-6.5zM1442 101h6.5v4.5h-6.5zM1883 101h3.5v4.5h-3.5zM1265 105h6.5v4.5h-6.5zM1358 105h6.5v4.5h-6.5zM1463 105h3.5v4.5h-3.5zM1883 105h3.5v4.5h-3.5zM1283 109h6.5v4.5h-6.5zM1349 109h6.5v4.5h-6.5zM1472 109h6.5v4.5h-6.5zM1883 109h3.5v4.5h-3.5zM1304 113h12.5v4.5h-12.5zM1334 113h15.5v4.5h-15.5zM1478 113h9.5v4.5h-9.5zM1883 113h3.5v4.5h-3.5zM1340 117h33.5v4.5h-33.5zM1487 117h9.5v4.5h-9.5zM1883 117h3.5v4.5h-3.5zM1343 121h12.5v4.5h-12.5zM1439 121h15.5v4.5h-15.5zM1499 121h9.5v4.5h-9.5zM1883 121h6.5v4.5h-6.5zM1343 125h9.5v4.5h-9.5zM1460 125h12.5v4.5h-12.5zM1508 125h9.5v4.5h-9.5zM1886 125h3.5v4.5h-3.5zM1346 129h6.5v4.5h-6.5zM1469 129h12.5v4.5h-12.5zM1511 129h12.5v4.5h-12.5zM1886 129h6.5v4.5h-6.5zM1346 133h9.5v4.5h-9.5zM1478 133h15.5v4.5h-15.5zM1511 133h18.5v4.5h-18.5zM1889 133h6.5v4.5h-6.5zM1349 137h9.5v4.5h-9.5zM1481 137h18.5v4.5h-18.5zM1514 137h21.5v4.5h-21.5zM1892 137h6.5v4.5h-6.5zM1352 141h9.5v4.5h-9.5zM1481 141h18.5v4.5h-18.5zM1520 141h24.5v4.5h-24.5zM1895 141h6.5v4.5h-6.5zM1355 145h9.5v4.5h-9.5zM1478 145h18.5v4.5h-18.5zM1532 145h30.5v4.5h-30.5zM1622 145h63.5v4.5h-63.5zM1898 145h9.5v4.5h-9.5zM1358 149h9.5v4.5h-9.5zM1472 149h15.5v4.5h-15.5zM1541 149h69.5v4.5h-69.5zM1712 149h9.5v4.5h-9.5zM1901 149h12.5v4.5h-12.5zM1361 153h9.5v4.5h-9.5zM1463 153h18.5v4.5h-18.5zM1550 153h36.5v4.5h-36.5zM1730 153h9.5v4.5h-9.5zM1907 153h9.5v4.5h-9.5zM1364 157h9.5v4.5h-9.5zM1451 157h18.5v4.5h-18.5zM1562 157h6.5v4.5h-6.5zM1742 157h6.5v4.5h-6.5zM1910 157h12.5v4.5h-12.5zM1364 161h12.5v4.5h-12.5zM1439 161h21.5v4.5h-21.5zM1751 161h6.5v4.5h-6.5zM1910 161h12.5v4.5h-12.5zM1367 165h12.5v4.5h-12.5zM1430 165h21.5v4.5h-21.5zM1754 165h9.5v4.5h-9.5zM1907 165h12.5v4.5h-12.5zM1154 169h39.5v4.5h-39.5zM1370 169h15.5v4.5h-15.5zM1424 169h24.5v4.5h-24.5zM1757 169h9.5v4.5h-9.5zM1901 169h15.5v4.5h-15.5zM1187 173h15.5v4.5h-15.5zM1373 173h18.5v4.5h-18.5zM1415 173h30.5v4.5h-30.5zM1760 173h9.5v4.5h-9.5zM1892 173h18.5v4.5h-18.5zM1193 177h12.5v4.5h-12.5zM1376 177h69.5v4.5h-69.5zM1763 177h9.5v4.5h-9.5zM1880 177h21.5v4.5h-21.5zM1196 181h12.5v4.5h-12.5zM1385 181h57.5v4.5h-57.5zM1766 181h12.5v4.5h-12.5zM1865 181h21.5v4.5h-21.5zM1199 185h12.5v4.5h-12.5zM1400 185h39.5v4.5h-39.5zM1769 185h18.5v4.5h-18.5zM1847 185h21.5v4.5h-21.5zM1199 189h12.5v4.5h-12.5zM1772 189h78.5v4.5h-78.5zM1196 193h15.5v4.5h-15.5zM1790 193h30.5v4.5h-30.5zM1193 197h18.5v4.5h-18.5zM1154 201h21.5v4.5h-21.5zM1184 201h27.5v4.5h-27.5zM1154 205h54.5v4.5h-54.5zM1175 209h30.5v4.5h-30.5zM1589 217h24.5v4.5h-24.5zM1577 221h51.5v4.5h-51.5zM1571 225h63.5v4.5h-63.5zM1565 229h72.5v4.5h-72.5zM1553 233h87.5v4.5h-87.5zM1547 237h93.5v4.5h-93.5zM1544 241h99.5v4.5h-99.5zM1544 245h99.5v4.5h-99.5zM1547 249h93.5v4.5h-93.5zM1550 253h87.5v4.5h-87.5zM1553 257h81.5v4.5h-81.5zM1559 261h66.5v4.5h-66.5zM1571 265h33.5v4.5h-33.5z"/>
<path fill="#53aaa2" d="M1898 57h3.5v4.5h-3.5zM1895 65h3.5v4.5h-3.5zM1892 73h3.5v4.5h-3.5zM1889 81h3.5v4.5h-3.5zM1886 89h3.5v4.5h-3.5zM1883 93h3.5v4.5h-3.5zM1169 97h24.5v4.5h-24.5zM1241 101h9.5v4.5h-9.5zM1370 101h3.5v4.5h-3.5zM1448 101h9.5v4.5h-9.5zM1271 105h6.5v4.5h-6.5zM1355 105h3.5v4.5h-3.5zM1466 105h6.5v4.5h-6.5zM1880 105h3.5v4.5h-3.5zM1289 109h6.5v4.5h-6.5zM1340 109h9.5v4.5h-9.5zM1478 109h3.5v4.5h-3.5zM1880 109h3.5v4.5h-3.5zM1316 113h18.5v4.5h-18.5zM1487 113h6.5v4.5h-6.5zM1880 113h3.5v4.5h-3.5zM1496 117h6.5v4.5h-6.5zM1880 117h3.5v4.5h-3.5zM1355 121h15.5v4.5h-15.5zM1421 121h18.5v4.5h-18.5zM1508 121h6.5v4.5h-6.5zM1880 121h3.5v4.5h-3.5zM1352 125h9.5v4.5h-9.5zM1448 125h12.5v4.5h-12.5zM1517 125h6.5v4.5h-6.5zM1880 125h6.5v4.5h-6.5zM1352 129h9.5v4.5h-9.5zM1460 129h9.5v4.5h-9.5zM1523 129h9.5v4.5h-9.5zM1883 129h3.5v4.5h-3.5zM1355 133h9.5v4.5h-9.5zM1466 133h12.5v4.5h-12.5zM1529 133h9.5v4.5h-9.5zM1883 133h6.5v4.5h-6.5zM1358 137h9.5v4.5h-9.5zM1469 137h12.5v4.5h-12.5zM1535 137h15.5v4.5h-15.5zM1886 137h6.5v4.5h-6.5zM1361 141h9.5v4.5h-9.5zM1469 141h12.5v4.5h-12.5zM1544 141h24.5v4.5h-24.5zM1889 141h6.5v4.5h-6.5zM1364 145h9.5v4.5h-9.5zM1466 145h12.5v4.5h-12.5zM1562 145h60.5v4.5h-60.5zM1685 145h21.5v4.5h-21.5zM1889 145h9.5v4.5h-9.5zM1367 149h9.5v4.5h-9.5zM1457 149h15.5v4.5h-15.5zM1721 149h12.5v4.5h-12.5zM1892 149h9.5v4.5h-9.5zM1370 153h12.5v4.5h-12.5zM1448 153h15.5v4.5h-15.5zM1739 153h6.5v4.5h-6.5zM1895 153h12.5v4.5h-12.5zM1373 157h15.5v4.5h-15.5zM1430 157h21.5v4.5h-21.5zM1748 157h9.5v4.5h-9.5zM1898 157h12.5v4.5h-12.5zM1376 161h63.5v4.5h-63.5zM1757 161h6.5v4.5h-6.5zM1895 161h15.5v4.5h-15.5zM1379 165h51.5v4.5h-51.5zM1763 165h6.5v4.5h-6.5zM1892 165h15.5v4.5h-15.5zM1385 169h39.5v4.5h-39.5zM1766 169h9.5v4.5h-9.5zM1886 169h15.5v4.5h-15.5zM1154 173h33.5v4.5h-33.5zM1391 173h24.5v4.5h-24.5zM1769 173h9.5v4.5h-9.5zM1874 173h18.5v4.5h-18.5zM1175 177h18.5v4.5h-18.5zM1772 177h12.5v4.5h-12.5zM1862 177h18.5v4.5h-18.5zM1181 181h15.5v4.5h-15.5zM1778 181h18.5v4.5h-18.5zM1847 181h18.5v4.5h-18.5zM1181 185h18.5v4.5h-18.5zM1787 185h60.5v4.5h-60.5zM1178 189h21.5v4.5h-21.5zM1154 193h42.5v4.5h-42.5zM1154 197h39.5v4.5h-39.5zM1175 201h9.5v4.5h-9.5z"/>
<path fill="#52a7a2" d="M1898 45h3.5v4.5h-3.5zM1898 49h3.5v4.5h-3.5zM1898 53h3.5v4.5h-3.5zM1895 61h3.5v4.5h-3.5zM1892 69h3.5v4.5h-3.5zM1889 77h3.5v4.5h-3.5zM1886 85h3.5v4.5h-3.5zM1883 89h3.5v4.5h-3.5zM1193 97h24.5v4.5h-24.5zM1388 97h39.5v4.5h-39.5zM1880 97h3.5v4.5h-3.5zM1250 101h9.5v4.5h-9.5zM1364 101h6.5v4.5h-6.5zM1457 101h6.5v4.5h-6.5zM1880 101h3.5v4.5h-3.5zM1277 105h3.5v4.5h-3.5zM1349 105h6.5v4.5h-6.5zM1472 105h6.5v4.5h-6.5zM1295 109h9.5v4.5h-9.5zM1334 109h6.5v4.5h-6.5zM1481 109h6.5v4.5h-6.5zM1877 109h3.5v4.5h-3.5zM1493 113h3.5v4.5h-3.5zM1877 113h3.5v4.5h-3.5zM1502 117h6.5v4.5h-6.5zM1877 117h3.5v4.5h-3.5zM1370 121h51.5v4.5h-51.5zM1514 121h6.5v4.5h-6.5zM1877 121h3.5v4.5h-3.5zM1361 125h9.5v4.5h-9.5zM1436 125h12.5v4.5h-12.5zM1523 125h6.5v4.5h-6.5zM1877 125h3.5v4.5h-3.5zM1361 129h9.5v4.5h-9.5zM1451 129h9.5v4.5h-9.5zM1532 129h6.5v4.5h-6.5zM1877 129h6.5v4.5h-6.5zM1364 133h9.5v4.5h-9.5zM1457 133h9.5v4.5h-9.5zM1538 133h12.5v4.5h-12.5zM1880 133h3.5v4.5h-3.5zM1367 137h9.5v4.5h-9.5zM1460 137h9.5v4.5h-9.5zM1550 137h15.5v4.5h-15.5zM1880 137h6.5v4.5h-6.5zM1370 141h9.5v4.5h-9.5zM1457 141h12.5v4.5h-12.5zM1568 141h87.5v4.5h-87.5zM1880 141h9.5v4.5h-9.5zM1373 145h12.5v4.5h-12.5zM1454 145h12.5v4.5h-12.5zM1706 145h12.5v4.5h-12.5zM1883 145h6.5v4.5h-6.5zM1376 149h15.5v4.5h-15.5zM1442 149h15.5v4.5h-15.5zM1733 149h9.5v4.5h-9.5zM1883 149h9.5v4.5h-9.5zM1382 153h27.5v4.5h-27.5zM1418 153h30.5v4.5h-30.5zM1745 153h9.5v4.5h-9.5zM1886 153h9.5v4.5h-9.5zM1388 157h42.5v4.5h-42.5zM1757 157h6.5v4.5h-6.5zM1886 157h12.5v4.5h-12.5zM1763 161h6.5v4.5h-6.5zM1883 161h12.5v4.5h-12.5zM1769 165h6.5v4.5h-6.5zM1877 165h15.5v4.5h-15.5zM1775 169h6.5v4.5h-6.5zM1868 169h18.5v4.5h-18.5zM1778 173h12.5v4.5h-12.5zM1859 173h15.5v4.5h-15.5zM1154 177h21.5v4.5h-21.5zM1784 177h15.5v4.5h-15.5zM1847 177h15.5v4.5h-15.5zM1154 181h27.5v4.5h-27.5zM1796 181h51.5v4.5h-51.5zM1154 185h27.5v4.5h-27.5zM1154 189h24.5v4.5h-24.5z"/>
<path fill="#50a3a1" d="M1895 45h3.5v4.5h-3.5zM1895 49h3.5v4.5h-3.5zM1895 53h3.5v4.5h-3.5zM1895 57h3.5v4.5h-3.5zM1892 65h3.5v4.5h-3.5zM1889 73h3.5v4.5h-3.5zM1886 81h3.5v4.5h-3.5zM1883 85h3.5v4.5h-3.5zM1880 93h3.5v4.5h-3.5zM1217 97h12.5v4.5h-12.5zM1379 97h9.5v4.5h-9.5zM1427 97h12.5v4.5h-12.5zM1877 97h3.5v4.5h-3.5zM1259 101h6.5v4.5h-6.5zM1358 101h6.5v4.5h-6.5zM1463 101h6.5v4.5h-6.5zM1877 101h3.5v4.5h-3.5zM1280 105h6.5v4.5h-6.5zM1343 105h6.5v4.5h-6.5zM1478 105h3.5v4.5h-3.5zM1877 105h3.5v4.5h-3.5zM1304 109h30.5v4.5h-30.5zM1487 109h3.5v4.5h-3.5zM1496 113h6.5v4.5h-6.5zM1874 113h3.5v4.5h-3.5zM1508 117h6.5v4.5h-6.5zM1874 117h3.5v4.5h-3.5zM1520 121h6.5v4.5h-6.5zM1874 121h3.5v4.5h-3.5zM1370 125h15.5v4.5h-15.5zM1421 125h15.5v4.5h-15.5zM1529 125h6.5v4.5h-6.5zM1871 125h6.5v4.5h-6.5zM1370 129h9.5v4.5h-9.5zM1439 129h12.5v4.5h-12.5zM1538 129h9.5v4.5h-9.5zM1874 129h3.5v4.5h-3.5zM1373 133h9.5v4.5h-9.5zM1445 133h12.5v4.5h-12.5zM1550 133h9.5v4.5h-9.5zM1874 133h6.5v4.5h-6.5zM1376 137h12.5v4.5h-12.5zM1448 137h12.5v4.5h-12.5zM1565 137h24.5v4.5h-24.5zM1874 137h6.5v4.5h-6.5zM1379 141h15.5v4.5h-15.5zM1445 141h12.5v4.5h-12.5zM1655 141h36.5v4.5h-36.5zM1874 141h6.5v4.5h-6.5zM1385 145h18.5v4.5h-18.5zM1436 145h18.5v4.5h-18.5zM1718 145h12.5v4.5h-12.5zM1874 145h9.5v4.5h-9.5zM1391 149h51.5v4.5h-51.5zM1742 149h6.5v4.5h-6.5zM1877 149h6.5v4.5h-6.5zM1409 153h9.5v4.5h-9.5zM1754 153h6.5v4.5h-6.5zM1874 153h12.5v4.5h-12.5zM1763 157h9.5v4.5h-9.5zM1874 157h12.5v4.5h-12.5zM1769 161h9.5v4.5h-9.5zM1868 161h15.5v4.5h-15.5zM1775 165h9.5v4.5h-9.5zM1862 165h15.5v4.5h-15.5zM1781 169h12.5v4.5h-12.5zM1856 169h12.5v4.5h-12.5zM1790 173h12.5v4.5h-12.5zM1844 173h15.5v4.5h-15.5zM1799 177h48.5v4.5h-48.5z"/>
<path fill="#4f9fa1" d="M1892 61h3.5v4.5h-3.5zM1889 69h3.5v4.5h-3.5zM1886 77h3.5v4.5h-3.5zM1880 89h3.5v4.5h-3.5zM1877 93h3.5v4.5h-3.5zM1229 97h9.5v4.5h-9.5zM1373 97h6.5v4.5h-6.5zM1439 97h12.5v4.5h-12.5zM1874 97h3.5v4.5h-3.5zM1265 101h3.5v4.5h-3.5zM1355 101h3.5v4.5h-3.5zM1469 101h6.5v4.5h-6.5zM1874 101h3.5v4.5h-3.5zM1286 105h6.5v4.5h-6.5zM1337 105h6.5v4.5h-6.5zM1481 105h6.5v4.5h-6.5zM1874 105h3.5v4.5h-3.5zM1490 109h6.5v4.5h-6.5zM1874 109h3.5v4.5h-3.5zM1502 113h3.5v4.5h-3.5zM1871 113h3.5v4.5h-3.5zM1514 117h3.5v4.5h-3.5zM1871 117h3.5v4.5h-3.5zM1526 121h6.5v4.5h-6.5zM1868 121h6.5v4.5h-6.5zM1385 125h36.5v4.5h-36.5zM1535 125h6.5v4.5h-6.5zM1868 125h3.5v4.5h-3.5zM1379 129h18.5v4.5h-18.5zM1421 129h18.5v4.5h-18.5zM1547 129h6.5v4.5h-6.5zM1868 129h6.5v4.5h-6.5zM1382 133h15.5v4.5h-15.5zM1433 133h12.5v4.5h-12.5zM1559 133h12.5v4.5h-12.5zM1868 133h6.5v4.5h-6.5zM1388 137h15.5v4.5h-15.5zM1433 137h15.5v4.5h-15.5zM1589 137h36.5v4.5h-36.5zM1868 137h6.5v4.5h-6.5zM1394 141h51.5v4.5h-51.5zM1691 141h18.5v4.5h-18.5zM1868 141h6.5v4.5h-6.5zM1403 145h33.5v4.5h-33.5zM1730 145h12.5v4.5h-12.5zM1868 145h6.5v4.5h-6.5zM1748 149h9.5v4.5h-9.5zM1868 149h9.5v4.5h-9.5zM1760 153h9.5v4.5h-9.5zM1865 153h9.5v4.5h-9.5zM1772 157h6.5v4.5h-6.5zM1862 157h12.5v4.5h-12.5zM1778 161h9.5v4.5h-9.5zM1859 161h9.5v4.5h-9.5zM1784 165h9.5v4.5h-9.5zM1853 165h9.5v4.5h-9.5zM1793 169h12.5v4.5h-12.5zM1841 169h15.5v4.5h-15.5zM1802 173h42.5v4.5h-42.5z"/>
<path fill="#4d9ca0" d="M1892 45h3.5v4.5h-3.5zM1892 49h3.5v4.5h-3.5zM1892 53h3.5v4.5h-3.5zM1892 57h3.5v4.5h-3.5zM1889 61h3.5v4.5h-3.5zM1889 65h3.5v4.5h-3.5zM1886 73h3.5v4.5h-3.5zM1883 81h3.5v4.5h-3.5zM1880 85h3.5v4.5h-3.5zM1877 89h3.5v4.5h-3.5zM1154 93h24.5v4.5h-24.5zM1874 93h3.5v4.5h-3.5zM1238 97h9.5v4.5h-9.5zM1367 97h6.5v4.5h-6.5zM1451 97h6.5v4.5h-6.5zM1268 101h6.5v4.5h-6.5zM1349 101h6.5v4.5h-6.5zM1475 101h3.5v4.5h-3.5zM1871 101h3.5v4.5h-3.5zM1292 105h6.5v4.5h-6.5zM1331 105h6.5v4.5h-6.5zM1487 105h3.5v4.5h-3.5zM1871 105h3.5v4.5h-3.5zM1496 109h3.5v4.5h-3.5zM1868 109h6.5v4.5h-6.5zM1505 113h6.5v4.5h-6.5zM1868 113h3.5v4.5h-3.5zM1517 117h6.5v4.5h-6.5zM1865 117h6.5v4.5h-6.5zM1532 121h3.5v4.5h-3.5zM1865 121h3.5v4.5h-3.5zM1541 125h6.5v4.5h-6.5zM1862 125h6.5v4.5h-6.5zM1397 129h24.5v4.5h-24.5zM1553 129h9.5v4.5h-9.5zM1862 129h6.5v4.5h-6.5zM1397 133h36.5v4.5h-36.5zM1571 133h18.5v4.5h-18.5zM1862 133h6.5v4.5h-6.5zM1403 137h30.5v4.5h-30.5zM1625 137h42.5v4.5h-42.5zM1862 137h6.5v4.5h-6.5zM1709 141h15.5v4.5h-15.5zM1859 141h9.5v4.5h-9.5zM1742 145h9.5v4.5h-9.5zM1859 145h9.5v4.5h-9.5zM1757 149h9.5v4.5h-9.5zM1859 149h9.5v4.5h-9.5zM1769 153h9.5v4.5h-9.5zM1856 153h9.5v4.5h-9.5zM1778 157h9.5v4.5h-9.5zM1853 157h9.5v4.5h-9.5zM1787 161h9.5v4.5h-9.5zM1847 161h12.5v4.5h-12.5zM1793 165h15.5v4.5h-15.5zM1838 165h15.5v4.5h-15.5zM1805 169h36.5v4.5h-36.5z"/>
<path fill="#4c98a0" d="M1889 57h3.5v4.5h-3.5zM1886 65h3.5v4.5h-3.5zM1886 69h3.5v4.5h-3.5zM1883 73h3.5v4.5h-3.5zM1883 77h3.5v4.5h-3.5zM1880 81h3.5v4.5h-3.5zM1877 85h3.5v4.5h-3.5zM1178 93h27.5v4.5h-27.5zM1388 93h33.5v4.5h-33.5zM1247 97h6.5v4.5h-6.5zM1364 97h3.5v4.5h-3.5zM1457 97h9.5v4.5h-9.5zM1871 97h3.5v4.5h-3.5zM1274 101h6.5v4.5h-6.5zM1346 101h3.5v4.5h-3.5zM1478 101h6.5v4.5h-6.5zM1868 101h3.5v4.5h-3.5zM1298 105h12.5v4.5h-12.5zM1322 105h9.5v4.5h-9.5zM1490 105h3.5v4.5h-3.5zM1868 105h3.5v4.5h-3.5zM1499 109h3.5v4.5h-3.5zM1865 109h3.5v4.5h-3.5zM1511 113h3.5v4.5h-3.5zM1865 113h3.5v4.5h-3.5zM1523 117h3.5v4.5h-3.5zM1862 117h3.5v4.5h-3.5zM1535 121h6.5v4.5h-6.5zM1859 121h6.5v4.5h-6.5zM1547 125h6.5v4.5h-6.5zM1859 125h3.5v4.5h-3.5zM1562 129h9.5v4.5h-9.5zM1856 129h6.5v4.5h-6.5zM1589 133h21.5v4.5h-21.5zM1853 133h9.5v4.5h-9.5zM1667 137h30.5v4.5h-30.5zM1853 137h9.5v4.5h-9.5zM1724 141h15.5v4.5h-15.5zM1850 141h9.5v4.5h-9.5zM1751 145h9.5v4.5h-9.5zM1850 145h9.5v4.5h-9.5zM1766 149h9.5v4.5h-9.5zM1847 149h12.5v4.5h-12.5zM1778 153h9.5v4.5h-9.5zM1844 153h12.5v4.5h-12.5zM1787 157h12.5v4.5h-12.5zM1841 157h12.5v4.5h-12.5zM1796 161h15.5v4.5h-15.5zM1832 161h15.5v4.5h-15.5zM1808 165h30.5v4.5h-30.5z"/>
<path fill="#4a959f" d="M1889 45h3.5v4.5h-3.5zM1889 49h3.5v4.5h-3.5zM1889 53h3.5v4.5h-3.5zM1886 61h3.5v4.5h-3.5zM1883 69h3.5v4.5h-3.5zM1880 77h3.5v4.5h-3.5zM1874 89h3.5v4.5h-3.5zM1205 93h15.5v4.5h-15.5zM1376 93h12.5v4.5h-12.5zM1421 93h12.5v4.5h-12.5zM1871 93h3.5v4.5h-3.5zM1253 97h6.5v4.5h-6.5zM1358 97h6.5v4.5h-6.5zM1466 97h6.5v4.5h-6.5zM1868 97h3.5v4.5h-3.5zM1280 101h6.5v4.5h-6.5zM1340 101h6.5v4.5h-6.5zM1484 101h3.5v4.5h-3.5zM1865 101h3.5v4.5h-3.5zM1310 105h12.5v4.5h-12.5zM1493 105h6.5v4.5h-6.5zM1865 105h3.5v4.5h-3.5zM1502 109h6.5v4.5h-6.5zM1862 109h3.5v4.5h-3.5zM1514 113h6.5v4.5h-6.5zM1859 113h6.5v4.5h-6.5zM1526 117h6.5v4.5h-6.5zM1856 117h6.5v4.5h-6.5zM1541 121h3.5v4.5h-3.5zM1853 121h6.5v4.5h-6.5zM1553 125h6.5v4.5h-6.5zM1853 125h6.5v4.5h-6.5zM1571 129h12.5v4.5h-12.5zM1850 129h6.5v4.5h-6.5zM1610 133h30.5v4.5h-30.5zM1847 133h6.5v4.5h-6.5zM1697 137h21.5v4.5h-21.5zM1844 137h9.5v4.5h-9.5zM1739 141h12.5v4.5h-12.5zM1841 141h9.5v4.5h-9.5zM1760 145h12.5v4.5h-12.5zM1838 145h12.5v4.5h-12.5zM1775 149h12.5v4.5h-12.5zM1835 149h12.5v4.5h-12.5zM1787 153h15.5v4.5h-15.5zM1829 153h15.5v4.5h-15.5zM1799 157h42.5v4.5h-42.5zM1811 161h21.5v4.5h-21.5z"/>
<path fill="#49919e" d="M1886 57h3.5v4.5h-3.5zM1883 65h3.5v4.5h-3.5zM1880 73h3.5v4.5h-3.5zM1877 81h3.5v4.5h-3.5zM1874 85h3.5v4.5h-3.5zM1871 89h3.5v4.5h-3.5zM1220 93h9.5v4.5h-9.5zM1370 93h6.5v4.5h-6.5zM1433 93h12.5v4.5h-12.5zM1868 93h3.5v4.5h-3.5zM1259 97h6.5v4.5h-6.5zM1352 97h6.5v4.5h-6.5zM1472 97h6.5v4.5h-6.5zM1865 97h3.5v4.5h-3.5zM1286 101h6.5v4.5h-6.5zM1334 101h6.5v4.5h-6.5zM1487 101h3.5v4.5h-3.5zM1862 101h3.5v4.5h-3.5zM1499 105h3.5v4.5h-3.5zM1862 105h3.5v4.5h-3.5zM1508 109h3.5v4.5h-3.5zM1859 109h3.5v4.5h-3.5zM1520 113h3.5v4.5h-3.5zM1856 113h3.5v4.5h-3.5zM1532 117h3.5v4.5h-3.5zM1853 117h3.5v4.5h-3.5zM1544 121h6.5v4.5h-6.5zM1850 121h3.5v4.5h-3.5zM1559 125h9.5v4.5h-9.5zM1847 125h6.5v4.5h-6.5zM1583 129h12.5v4.5h-12.5zM1841 129h9.5v4.5h-9.5zM1640 133h36.5v4.5h-36.5zM1838 133h9.5v4.5h-9.5zM1718 137h18.5v4.5h-18.5zM1832 137h12.5v4.5h-12.5zM1751 141h15.5v4.5h-15.5zM1829 141h12.5v4.5h-12.5zM1772 145h15.5v4.5h-15.5zM1823 145h15.5v4.5h-15.5zM1787 149h48.5v4.5h-48.5zM1802 153h27.5v4.5h-27.5z"/>
<path fill="#488e9e" d="M1886 45h3.5v4.5h-3.5zM1886 49h3.5v4.5h-3.5zM1886 53h3.5v4.5h-3.5zM1883 61h3.5v4.5h-3.5zM1880 69h3.5v4.5h-3.5zM1877 77h3.5v4.5h-3.5zM1874 81h3.5v4.5h-3.5zM1871 85h3.5v4.5h-3.5zM1385 89h21.5v4.5h-21.5zM1868 89h3.5v4.5h-3.5zM1229 93h9.5v4.5h-9.5zM1364 93h6.5v4.5h-6.5zM1445 93h9.5v4.5h-9.5zM1865 93h3.5v4.5h-3.5zM1265 97h6.5v4.5h-6.5zM1349 97h3.5v4.5h-3.5zM1478 97h3.5v4.5h-3.5zM1862 97h3.5v4.5h-3.5zM1292 101h6.5v4.5h-6.5zM1328 101h6.5v4.5h-6.5zM1490 101h6.5v4.5h-6.5zM1859 101h3.5v4.5h-3.5zM1502 105h3.5v4.5h-3.5zM1856 105h6.5v4.5h-6.5zM1511 109h3.5v4.5h-3.5zM1853 109h6.5v4.5h-6.5zM1523 113h3.5v4.5h-3.5zM1850 113h6.5v4.5h-6.5zM1535 117h6.5v4.5h-6.5zM1847 117h6.5v4.5h-6.5zM1550 121h6.5v4.5h-6.5zM1844 121h6.5v4.5h-6.5zM1568 125h6.5v4.5h-6.5zM1841 125h6.5v4.5h-6.5zM1595 129h21.5v4.5h-21.5zM1835 129h6.5v4.5h-6.5zM1676 133h30.5v4.5h-30.5zM1829 133h9.5v4.5h-9.5zM1736 137h18.5v4.5h-18.5zM1823 137h9.5v4.5h-9.5zM1766 141h15.5v4.5h-15.5zM1811 141h18.5v4.5h-18.5zM1787 145h36.5v4.5h-36.5z"/>
<path fill="#478a9d" d="M1883 57h3.5v4.5h-3.5zM1880 65h3.5v4.5h-3.5zM1877 73h3.5v4.5h-3.5zM1154 89h24.5v4.5h-24.5zM1373 89h12.5v4.5h-12.5zM1406 89h15.5v4.5h-15.5zM1865 89h3.5v4.5h-3.5zM1238 93h6.5v4.5h-6.5zM1358 93h6.5v4.5h-6.5zM1454 93h9.5v4.5h-9.5zM1862 93h3.5v4.5h-3.5zM1271 97h6.5v4.5h-6.5zM1343 97h6.5v4.5h-6.5zM1481 97h6.5v4.5h-6.5zM1859 97h3.5v4.5h-3.5zM1298 101h30.5v4.5h-30.5zM1496 101h3.5v4.5h-3.5zM1856 101h3.5v4.5h-3.5zM1505 105h3.5v4.5h-3.5zM1853 105h3.5v4.5h-3.5zM1514 109h3.5v4.5h-3.5zM1850 109h3.5v4.5h-3.5zM1526 113h3.5v4.5h-3.5zM1844 113h6.5v4.5h-6.5zM1541 117h3.5v4.5h-3.5zM1841 117h6.5v4.5h-6.5zM1556 121h6.5v4.5h-6.5zM1838 121h6.5v4.5h-6.5zM1574 125h9.5v4.5h-9.5zM1832 125h9.5v4.5h-9.5zM1616 129h30.5v4.5h-30.5zM1826 129h9.5v4.5h-9.5zM1706 133h27.5v4.5h-27.5zM1817 133h12.5v4.5h-12.5zM1754 137h18.5v4.5h-18.5zM1808 137h15.5v4.5h-15.5zM1781 141h30.5v4.5h-30.5z"/>
<path fill="#46869c" d="M1883 45h3.5v4.5h-3.5zM1883 49h3.5v4.5h-3.5zM1883 53h3.5v4.5h-3.5zM1880 61h3.5v4.5h-3.5zM1877 69h3.5v4.5h-3.5zM1874 77h3.5v4.5h-3.5zM1871 81h3.5v4.5h-3.5zM1868 85h3.5v4.5h-3.5zM1178 89h24.5v4.5h-24.5zM1367 89h6.5v4.5h-6.5zM1421 89h9.5v4.5h-9.5zM1862 89h3.5v4.5h-3.5zM1244 93h6.5v4.5h-6.5zM1355 93h3.5v4.5h-3.5zM1463 93h9.5v4.5h-9.5zM1859 93h3.5v4.5h-3.5zM1277 97h6.5v4.5h-6.5zM1337 97h6.5v4.5h-6.5zM1487 97h6.5v4.5h-6.5zM1856 97h3.5v4.5h-3.5zM1499 101h3.5v4.5h-3.5zM1853 101h3.5v4.5h-3.5zM1508 105h3.5v4.5h-3.5zM1847 105h6.5v4.5h-6.5zM1517 109h3.5v4.5h-3.5zM1844 109h6.5v4.5h-6.5zM1529 113h6.5v4.5h-6.5zM1838 113h6.5v4.5h-6.5zM1544 117h6.5v4.5h-6.5zM1835 117h6.5v4.5h-6.5zM1562 121h6.5v4.5h-6.5zM1832 121h6.5v4.5h-6.5zM1583 125h12.5v4.5h-12.5zM1826 125h6.5v4.5h-6.5zM1646 129h45.5v4.5h-45.5zM1817 129h9.5v4.5h-9.5zM1733 133h24.5v4.5h-24.5zM1805 133h12.5v4.5h-12.5zM1772 137h36.5v4.5h-36.5z"/>
<path fill="#44839b" d="M1880 45h3.5v4.5h-3.5zM1880 49h3.5v4.5h-3.5zM1880 53h3.5v4.5h-3.5zM1880 57h3.5v4.5h-3.5zM1877 65h3.5v4.5h-3.5zM1874 73h3.5v4.5h-3.5zM1871 77h3.5v4.5h-3.5zM1868 81h3.5v4.5h-3.5zM1376 85h30.5v4.5h-30.5zM1865 85h3.5v4.5h-3.5zM1202 89h15.5v4.5h-15.5zM1361 89h6.5v4.5h-6.5zM1430 89h12.5v4.5h-12.5zM1859 89h3.5v4.5h-3.5zM1250 93h6.5v4.5h-6.5zM1349 93h6.5v4.5h-6.5zM1472 93h6.5v4.5h-6.5zM1856 93h3.5v4.5h-3.5zM1283 97h6.5v4.5h-6.5zM1331 97h6.5v4.5h-6.5zM1493 97h3.5v4.5h-3.5zM1853 97h3.5v4.5h-3.5zM1502 101h3.5v4.5h-3.5zM1847 101h6.5v4.5h-6.5zM1511 105h3.5v4.5h-3.5zM1844 105h3.5v4.5h-3.5zM1520 109h6.5v4.5h-6.5zM1838 109h6.5v4.5h-6.5zM1535 113h3.5v4.5h-3.5zM1832 113h6.5v4.5h-6.5zM1550 117h3.5v4.5h-3.5zM1829 117h6.5v4.5h-6.5zM1568 121h6.5v4.5h-6.5zM1823 121h9.5v4.5h-9.5zM1595 125h15.5v4.5h-15.5zM1817 125h9.5v4.5h-9.5zM1691 129h39.5v4.5h-39.5zM1805 129h12.5v4.5h-12.5zM1757 133h48.5v4.5h-48.5z"/>
<path fill="#43809a" d="M1877 61h3.5v4.5h-3.5zM1874 69h3.5v4.5h-3.5zM1871 73h3.5v4.5h-3.5zM1868 77h3.5v4.5h-3.5zM1865 81h3.5v4.5h-3.5zM1367 85h9.5v4.5h-9.5zM1406 85h12.5v4.5h-12.5zM1862 85h3.5v4.5h-3.5zM1217 89h9.5v4.5h-9.5zM1355 89h6.5v4.5h-6.5zM1442 89h9.5v4.5h-9.5zM1856 89h3.5v4.5h-3.5zM1256 93h6.5v4.5h-6.5zM1343 93h6.5v4.5h-6.5zM1478 93h6.5v4.5h-6.5zM1853 93h3.5v4.5h-3.5zM1289 97h9.5v4.5h-9.5zM1325 97h6.5v4.5h-6.5zM1496 97h3.5v4.5h-3.5zM1850 97h3.5v4.5h-3.5zM1505 101h3.5v4.5h-3.5zM1844 101h3.5v4.5h-3.5zM1514 105h3.5v4.5h-3.5zM1838 105h6.5v4.5h-6.5zM1526 109h3.5v4.5h-3.5zM1832 109h6.5v4.5h-6.5zM1538 113h3.5v4.5h-3.5zM1826 113h6.5v4.5h-6.5zM1553 117h6.5v4.5h-6.5zM1823 117h6.5v4.5h-6.5zM1574 121h6.5v4.5h-6.5zM1817 121h6.5v4.5h-6.5zM1610 125h36.5v4.5h-36.5zM1808 125h9.5v4.5h-9.5zM1730 129h42.5v4.5h-42.5zM1781 129h24.5v4.5h-24.5z"/>
<path fill="#427c9a" d="M1877 45h3.5v4.5h-3.5zM1877 49h3.5v4.5h-3.5zM1877 53h3.5v4.5h-3.5zM1877 57h3.5v4.5h-3.5zM1874 65h3.5v4.5h-3.5zM1871 69h3.5v4.5h-3.5zM1373 81h33.5v4.5h-33.5zM1361 85h6.5v4.5h-6.5zM1418 85h9.5v4.5h-9.5zM1859 85h3.5v4.5h-3.5zM1226 89h9.5v4.5h-9.5zM1352 89h3.5v4.5h-3.5zM1451 89h12.5v4.5h-12.5zM1853 89h3.5v4.5h-3.5zM1262 93h9.5v4.5h-9.5zM1340 93h3.5v4.5h-3.5zM1484 93h6.5v4.5h-6.5zM1850 93h3.5v4.5h-3.5zM1298 97h27.5v4.5h-27.5zM1499 97h6.5v4.5h-6.5zM1844 97h6.5v4.5h-6.5zM1508 101h6.5v4.5h-6.5zM1838 101h6.5v4.5h-6.5zM1517 105h6.5v4.5h-6.5zM1832 105h6.5v4.5h-6.5zM1529 109h3.5v4.5h-3.5zM1826 109h6.5v4.5h-6.5zM1541 113h6.5v4.5h-6.5zM1820 113h6.5v4.5h-6.5zM1559 117h3.5v4.5h-3.5zM1814 117h9.5v4.5h-9.5zM1580 121h12.5v4.5h-12.5zM1808 121h9.5v4.5h-9.5zM1646 125h90.5v4.5h-90.5zM1793 125h15.5v4.5h-15.5zM1772 129h9.5v4.5h-9.5z"/>
<path fill="#427999" d="M1874 61h3.5v4.5h-3.5zM1871 65h3.5v4.5h-3.5zM1868 73h3.5v4.5h-3.5zM1379 77h18.5v4.5h-18.5zM1865 77h3.5v4.5h-3.5zM1364 81h9.5v4.5h-9.5zM1406 81h9.5v4.5h-9.5zM1862 81h3.5v4.5h-3.5zM1154 85h27.5v4.5h-27.5zM1355 85h6.5v4.5h-6.5zM1427 85h9.5v4.5h-9.5zM1856 85h3.5v4.5h-3.5zM1235 89h6.5v4.5h-6.5zM1346 89h6.5v4.5h-6.5zM1463 89h9.5v4.5h-9.5zM1850 89h3.5v4.5h-3.5zM1271 93h6.5v4.5h-6.5zM1334 93h6.5v4.5h-6.5zM1490 93h6.5v4.5h-6.5zM1844 93h6.5v4.5h-6.5zM1505 97h3.5v4.5h-3.5zM1841 97h3.5v4.5h-3.5zM1514 101h3.5v4.5h-3.5zM1835 101h3.5v4.5h-3.5zM1523 105h3.5v4.5h-3.5zM1826 105h6.5v4.5h-6.5zM1532 109h3.5v4.5h-3.5zM1820 109h6.5v4.5h-6.5zM1547 113h3.5v4.5h-3.5zM1814 113h6.5v4.5h-6.5zM1562 117h6.5v4.5h-6.5zM1805 117h9.5v4.5h-9.5zM1592 121h12.5v4.5h-12.5zM1793 121h15.5v4.5h-15.5zM1736 125h57.5v4.5h-57.5z"/>
<path fill="#417598" d="M1874 45h3.5v4.5h-3.5zM1874 49h3.5v4.5h-3.5zM1874 53h3.5v4.5h-3.5zM1874 57h3.5v4.5h-3.5zM1871 61h3.5v4.5h-3.5zM1868 69h3.5v4.5h-3.5zM1865 73h3.5v4.5h-3.5zM1367 77h12.5v4.5h-12.5zM1397 77h15.5v4.5h-15.5zM1862 77h3.5v4.5h-3.5zM1358 81h6.5v4.5h-6.5zM1415 81h9.5v4.5h-9.5zM1859 81h3.5v4.5h-3.5zM1181 85h21.5v4.5h-21.5zM1349 85h6.5v4.5h-6.5zM1436 85h9.5v4.5h-9.5zM1853 85h3.5v4.5h-3.5zM1241 89h6.5v4.5h-6.5zM1340 89h6.5v4.5h-6.5zM1472 89h6.5v4.5h-6.5zM1847 89h3.5v4.5h-3.5zM1277 93h9.5v4.5h-9.5zM1328 93h6.5v4.5h-6.5zM1496 93h3.5v4.5h-3.5zM1841 93h3.5v4.5h-3.5zM1508 97h3.5v4.5h-3.5zM1835 97h6.5v4.5h-6.5zM1517 101h3.5v4.5h-3.5zM1829 101h6.5v4.5h-6.5zM1526 105h3.5v4.5h-3.5zM1820 105h6.5v4.5h-6.5zM1535 109h3.5v4.5h-3.5zM1811 109h9.5v4.5h-9.5zM1550 113h3.5v4.5h-3.5zM1805 113h9.5v4.5h-9.5zM1568 117h9.5v4.5h-9.5zM1796 117h9.5v4.5h-9.5zM1604 121h27.5v4.5h-27.5zM1658 121h135.5v4.5h-135.5z"/>
<path fill="#407297" d="M1871 57h3.5v4.5h-3.5zM1868 65h3.5v4.5h-3.5zM1865 69h3.5v4.5h-3.5zM1370 73h45.5v4.5h-45.5zM1862 73h3.5v4.5h-3.5zM1358 77h9.5v4.5h-9.5zM1412 77h9.5v4.5h-9.5zM1859 77h3.5v4.5h-3.5zM1352 81h6.5v4.5h-6.5zM1424 81h9.5v4.5h-9.5zM1853 81h6.5v4.5h-6.5zM1202 85h15.5v4.5h-15.5zM1346 85h3.5v4.5h-3.5zM1445 85h9.5v4.5h-9.5zM1847 85h6.5v4.5h-6.5zM1247 89h9.5v4.5h-9.5zM1337 89h3.5v4.5h-3.5zM1478 89h9.5v4.5h-9.5zM1841 89h6.5v4.5h-6.5zM1286 93h9.5v4.5h-9.5zM1319 93h9.5v4.5h-9.5zM1499 93h6.5v4.5h-6.5zM1835 93h6.5v4.5h-6.5zM1511 97h3.5v4.5h-3.5zM1829 97h6.5v4.5h-6.5zM1520 101h3.5v4.5h-3.5zM1820 101h9.5v4.5h-9.5zM1529 105h3.5v4.5h-3.5zM1811 105h9.5v4.5h-9.5zM1538 109h6.5v4.5h-6.5zM1802 109h9.5v4.5h-9.5zM1553 113h6.5v4.5h-6.5zM1793 113h12.5v4.5h-12.5zM1577 117h6.5v4.5h-6.5zM1772 117h24.5v4.5h-24.5zM1631 121h27.5v4.5h-27.5z"/>
<path fill="#3f6f97" d="M1871 45h3.5v4.5h-3.5zM1871 49h3.5v4.5h-3.5zM1871 53h3.5v4.5h-3.5zM1430 61h15.5v4.5h-15.5zM1868 61h3.5v4.5h-3.5zM1400 65h48.5v4.5h-48.5zM1376 69h57.5v4.5h-57.5zM1361 73h9.5v4.5h-9.5zM1415 73h15.5v4.5h-15.5zM1352 77h6.5v4.5h-6.5zM1421 77h12.5v4.5h-12.5zM1856 77h3.5v4.5h-3.5zM1154 81h15.5v4.5h-15.5zM1346 81h6.5v4.5h-6.5zM1433 81h9.5v4.5h-9.5zM1850 81h3.5v4.5h-3.5zM1217 85h9.5v4.5h-9.5zM1340 85h6.5v4.5h-6.5zM1454 85h12.5v4.5h-12.5zM1844 85h3.5v4.5h-3.5zM1256 89h6.5v4.5h-6.5zM1331 89h6.5v4.5h-6.5zM1487 89h6.5v4.5h-6.5zM1838 89h3.5v4.5h-3.5zM1295 93h24.5v4.5h-24.5zM1505 93h3.5v4.5h-3.5zM1832 93h3.5v4.5h-3.5zM1514 97h3.5v4.5h-3.5zM1823 97h6.5v4.5h-6.5zM1523 101h3.5v4.5h-3.5zM1814 101h6.5v4.5h-6.5zM1532 105h3.5v4.5h-3.5zM1802 105h9.5v4.5h-9.5zM1544 109h3.5v4.5h-3.5zM1793 109h9.5v4.5h-9.5zM1559 113h6.5v4.5h-6.5zM1775 113h18.5v4.5h-18.5zM1583 117h12.5v4.5h-12.5zM1688 117h84.5v4.5h-84.5z"/>
<path fill="#3e6b96" d="M1868 57h3.5v4.5h-3.5zM1397 61h33.5v4.5h-33.5zM1445 61h27.5v4.5h-27.5zM1379 65h21.5v4.5h-21.5zM1448 65h18.5v4.5h-18.5zM1865 65h3.5v4.5h-3.5zM1364 69h12.5v4.5h-12.5zM1433 69h21.5v4.5h-21.5zM1862 69h3.5v4.5h-3.5zM1352 73h9.5v4.5h-9.5zM1430 73h12.5v4.5h-12.5zM1859 73h3.5v4.5h-3.5zM1346 77h6.5v4.5h-6.5zM1433 77h9.5v4.5h-9.5zM1853 77h3.5v4.5h-3.5zM1169 81h15.5v4.5h-15.5zM1343 81h3.5v4.5h-3.5zM1442 81h9.5v4.5h-9.5zM1844 81h6.5v4.5h-6.5zM1226 85h9.5v4.5h-9.5zM1334 85h6.5v4.5h-6.5zM1466 85h9.5v4.5h-9.5zM1838 85h6.5v4.5h-6.5zM1262 89h9.5v4.5h-9.5zM1325 89h6.5v4.5h-6.5zM1493 89h6.5v4.5h-6.5zM1832 89h6.5v4.5h-6.5zM1508 93h3.5v4.5h-3.5zM1826 93h6.5v4.5h-6.5zM1517 97h3.5v4.5h-3.5zM1817 97h6.5v4.5h-6.5zM1526 101h3.5v4.5h-3.5zM1805 101h9.5v4.5h-9.5zM1535 105h3.5v4.5h-3.5zM1793 105h9.5v4.5h-9.5zM1547 109h3.5v4.5h-3.5zM1778 109h15.5v4.5h-15.5zM1565 113h6.5v4.5h-6.5zM1724 113h51.5v4.5h-51.5zM1595 117h18.5v4.5h-18.5zM1655 117h33.5v4.5h-33.5z"/>
<path fill="#3e6795" d="M1868 45h3.5v4.5h-3.5zM1868 49h3.5v4.5h-3.5zM1868 53h3.5v4.5h-3.5zM1400 57h72.5v4.5h-72.5zM1382 61h15.5v4.5h-15.5zM1472 61h12.5v4.5h-12.5zM1865 61h3.5v4.5h-3.5zM1364 65h15.5v4.5h-15.5zM1466 65h12.5v4.5h-12.5zM1862 65h3.5v4.5h-3.5zM1352 69h12.5v4.5h-12.5zM1454 69h15.5v4.5h-15.5zM1859 69h3.5v4.5h-3.5zM1346 73h6.5v4.5h-6.5zM1442 73h15.5v4.5h-15.5zM1856 73h3.5v4.5h-3.5zM1340 77h6.5v4.5h-6.5zM1442 77h9.5v4.5h-9.5zM1850 77h3.5v4.5h-3.5zM1184 81h18.5v4.5h-18.5zM1337 81h6.5v4.5h-6.5zM1451 81h9.5v4.5h-9.5zM1841 81h3.5v4.5h-3.5zM1235 85h6.5v4.5h-6.5zM1331 85h3.5v4.5h-3.5zM1475 85h9.5v4.5h-9.5zM1832 85h6.5v4.5h-6.5zM1271 89h9.5v4.5h-9.5zM1316 89h9.5v4.5h-9.5zM1499 89h6.5v4.5h-6.5zM1826 89h6.5v4.5h-6.5zM1511 93h6.5v4.5h-6.5zM1820 93h6.5v4.5h-6.5zM1520 97h6.5v4.5h-6.5zM1808 97h9.5v4.5h-9.5zM1529 101h3.5v4.5h-3.5zM1793 101h12.5v4.5h-12.5zM1538 105h3.5v4.5h-3.5zM1778 105h15.5v4.5h-15.5zM1550 109h6.5v4.5h-6.5zM1742 109h36.5v4.5h-36.5zM1571 113h6.5v4.5h-6.5zM1694 113h30.5v4.5h-30.5zM1613 117h42.5v4.5h-42.5z"/>
<path fill="#3e6394" d="M1391 45h78.5v4.5h-78.5zM1865 45h3.5v4.5h-3.5zM1391 49h78.5v4.5h-78.5zM1865 49h3.5v4.5h-3.5zM1391 53h78.5v4.5h-78.5zM1865 53h3.5v4.5h-3.5zM1382 57h18.5v4.5h-18.5zM1472 57h15.5v4.5h-15.5zM1865 57h3.5v4.5h-3.5zM1367 61h15.5v4.5h-15.5zM1484 61h9.5v4.5h-9.5zM1862 61h3.5v4.5h-3.5zM1352 65h12.5v4.5h-12.5zM1478 65h12.5v4.5h-12.5zM1859 65h3.5v4.5h-3.5zM1343 69h9.5v4.5h-9.5zM1469 69h12.5v4.5h-12.5zM1856 69h3.5v4.5h-3.5zM1340 73h6.5v4.5h-6.5zM1457 73h12.5v4.5h-12.5zM1853 73h3.5v4.5h-3.5zM1154 77h24.5v4.5h-24.5zM1337 77h3.5v4.5h-3.5zM1451 77h12.5v4.5h-12.5zM1844 77h6.5v4.5h-6.5zM1202 81h15.5v4.5h-15.5zM1331 81h6.5v4.5h-6.5zM1460 81h12.5v4.5h-12.5zM1835 81h6.5v4.5h-6.5zM1241 85h9.5v4.5h-9.5zM1325 85h6.5v4.5h-6.5zM1484 85h9.5v4.5h-9.5zM1829 85h3.5v4.5h-3.5zM1280 89h36.5v4.5h-36.5zM1505 89h3.5v4.5h-3.5zM1823 89h3.5v4.5h-3.5zM1517 93h3.5v4.5h-3.5zM1814 93h6.5v4.5h-6.5zM1526 97h3.5v4.5h-3.5zM1799 97h9.5v4.5h-9.5zM1532 101h3.5v4.5h-3.5zM1781 101h12.5v4.5h-12.5zM1541 105h6.5v4.5h-6.5zM1757 105h21.5v4.5h-21.5zM1556 109h6.5v4.5h-6.5zM1715 109h27.5v4.5h-27.5zM1577 113h9.5v4.5h-9.5zM1673 113h21.5v4.5h-21.5z"/>
<path fill="#3e5f93" d="M1373 45h18.5v4.5h-18.5zM1469 45h21.5v4.5h-21.5zM1373 49h18.5v4.5h-18.5zM1469 49h21.5v4.5h-21.5zM1373 53h18.5v4.5h-18.5zM1469 53h21.5v4.5h-21.5zM1367 57h15.5v4.5h-15.5zM1487 57h9.5v4.5h-9.5zM1862 57h3.5v4.5h-3.5zM1355 61h12.5v4.5h-12.5zM1493 61h6.5v4.5h-6.5zM1343 65h9.5v4.5h-9.5zM1490 65h6.5v4.5h-6.5zM1334 69h9.5v4.5h-9.5zM1481 69h9.5v4.5h-9.5zM1853 69h3.5v4.5h-3.5zM1154 73h15.5v4.5h-15.5zM1331 73h9.5v4.5h-9.5zM1469 73h12.5v4.5h-12.5zM1847 73h6.5v4.5h-6.5zM1178 77h15.5v4.5h-15.5zM1331 77h6.5v4.5h-6.5zM1463 77h12.5v4.5h-12.5zM1841 77h3.5v4.5h-3.5zM1217 81h9.5v4.5h-9.5zM1328 81h3.5v4.5h-3.5zM1472 81h12.5v4.5h-12.5zM1832 81h3.5v4.5h-3.5zM1250 85h6.5v4.5h-6.5zM1319 85h6.5v4.5h-6.5zM1493 85h6.5v4.5h-6.5zM1823 85h6.5v4.5h-6.5zM1508 89h6.5v4.5h-6.5zM1817 89h6.5v4.5h-6.5zM1520 93h3.5v4.5h-3.5zM1805 93h9.5v4.5h-9.5zM1529 97h3.5v4.5h-3.5zM1787 97h12.5v4.5h-12.5zM1535 101h6.5v4.5h-6.5zM1766 101h15.5v4.5h-15.5zM1547 105h3.5v4.5h-3.5zM1733 105h24.5v4.5h-24.5zM1562 109h3.5v4.5h-3.5zM1694 109h21.5v4.5h-21.5zM1586 113h15.5v4.5h-15.5zM1652 113h21.5v4.5h-21.5z"/>
<path fill="#3e5b92" d="M1364 45h9.5v4.5h-9.5zM1490 45h9.5v4.5h-9.5zM1862 45h3.5v4.5h-3.5zM1364 49h9.5v4.5h-9.5zM1490 49h9.5v4.5h-9.5zM1862 49h3.5v4.5h-3.5zM1364 53h9.5v4.5h-9.5zM1490 53h9.5v4.5h-9.5zM1862 53h3.5v4.5h-3.5zM1358 57h9.5v4.5h-9.5zM1496 57h9.5v4.5h-9.5zM1343 61h12.5v4.5h-12.5zM1499 61h9.5v4.5h-9.5zM1859 61h3.5v4.5h-3.5zM1331 65h12.5v4.5h-12.5zM1496 65h9.5v4.5h-9.5zM1856 65h3.5v4.5h-3.5zM1154 69h24.5v4.5h-24.5zM1328 69h6.5v4.5h-6.5zM1490 69h9.5v4.5h-9.5zM1850 69h3.5v4.5h-3.5zM1169 73h21.5v4.5h-21.5zM1325 73h6.5v4.5h-6.5zM1481 73h9.5v4.5h-9.5zM1844 73h3.5v4.5h-3.5zM1193 77h15.5v4.5h-15.5zM1325 77h6.5v4.5h-6.5zM1475 77h12.5v4.5h-12.5zM1835 77h6.5v4.5h-6.5zM1226 81h9.5v4.5h-9.5zM1322 81h6.5v4.5h-6.5zM1484 81h9.5v4.5h-9.5zM1826 81h6.5v4.5h-6.5zM1256 85h9.5v4.5h-9.5zM1310 85h9.5v4.5h-9.5zM1499 85h9.5v4.5h-9.5zM1820 85h3.5v4.5h-3.5zM1514 89h6.5v4.5h-6.5zM1811 89h6.5v4.5h-6.5zM1523 93h6.5v4.5h-6.5zM1796 93h9.5v4.5h-9.5zM1532 97h3.5v4.5h-3.5zM1775 97h12.5v4.5h-12.5zM1541 101h3.5v4.5h-3.5zM1748 101h18.5v4.5h-18.5zM1550 105h6.5v4.5h-6.5zM1712 105h21.5v4.5h-21.5zM1565 109h9.5v4.5h-9.5zM1679 109h15.5v4.5h-15.5zM1601 113h51.5v4.5h-51.5z"/>
<path fill="#3e5790" d="M1352 45h12.5v4.5h-12.5zM1499 45h9.5v4.5h-9.5zM1352 49h12.5v4.5h-12.5zM1499 49h9.5v4.5h-9.5zM1352 53h12.5v4.5h-12.5zM1499 53h9.5v4.5h-9.5zM1346 57h12.5v4.5h-12.5zM1505 57h6.5v4.5h-6.5zM1859 57h3.5v4.5h-3.5zM1154 61h33.5v4.5h-33.5zM1328 61h15.5v4.5h-15.5zM1508 61h6.5v4.5h-6.5zM1856 61h3.5v4.5h-3.5zM1154 65h39.5v4.5h-39.5zM1319 65h12.5v4.5h-12.5zM1505 65h6.5v4.5h-6.5zM1853 65h3.5v4.5h-3.5zM1178 69h18.5v4.5h-18.5zM1319 69h9.5v4.5h-9.5zM1499 69h6.5v4.5h-6.5zM1847 69h3.5v4.5h-3.5zM1190 73h15.5v4.5h-15.5zM1319 73h6.5v4.5h-6.5zM1490 73h9.5v4.5h-9.5zM1841 73h3.5v4.5h-3.5zM1208 77h12.5v4.5h-12.5zM1319 77h6.5v4.5h-6.5zM1487 77h9.5v4.5h-9.5zM1832 77h3.5v4.5h-3.5zM1235 81h6.5v4.5h-6.5zM1316 81h6.5v4.5h-6.5zM1493 81h9.5v4.5h-9.5zM1823 81h3.5v4.5h-3.5zM1265 85h18.5v4.5h-18.5zM1295 85h15.5v4.5h-15.5zM1508 85h6.5v4.5h-6.5zM1814 85h6.5v4.5h-6.5zM1520 89h3.5v4.5h-3.5zM1805 89h6.5v4.5h-6.5zM1529 93h3.5v4.5h-3.5zM1787 93h9.5v4.5h-9.5zM1535 97h3.5v4.5h-3.5zM1760 97h15.5v4.5h-15.5zM1544 101h3.5v4.5h-3.5zM1727 101h21.5v4.5h-21.5zM1556 105h3.5v4.5h-3.5zM1694 105h18.5v4.5h-18.5zM1574 109h6.5v4.5h-6.5zM1661 109h18.5v4.5h-18.5z"/>
<path fill="#3e538f" d="M1343 45h9.5v4.5h-9.5zM1508 45h6.5v4.5h-6.5zM1859 45h3.5v4.5h-3.5zM1343 49h9.5v4.5h-9.5zM1508 49h6.5v4.5h-6.5zM1859 49h3.5v4.5h-3.5zM1343 53h9.5v4.5h-9.5zM1508 53h6.5v4.5h-6.5zM1859 53h3.5v4.5h-3.5zM1154 57h33.5v4.5h-33.5zM1334 57h12.5v4.5h-12.5zM1511 57h6.5v4.5h-6.5zM1856 57h3.5v4.5h-3.5zM1187 61h12.5v4.5h-12.5zM1316 61h12.5v4.5h-12.5zM1514 61h3.5v4.5h-3.5zM1853 61h3.5v4.5h-3.5zM1193 65h12.5v4.5h-12.5zM1307 65h12.5v4.5h-12.5zM1511 65h6.5v4.5h-6.5zM1850 65h3.5v4.5h-3.5zM1196 69h12.5v4.5h-12.5zM1310 69h9.5v4.5h-9.5zM1505 69h6.5v4.5h-6.5zM1844 69h3.5v4.5h-3.5zM1205 73h12.5v4.5h-12.5zM1310 73h9.5v4.5h-9.5zM1499 73h9.5v4.5h-9.5zM1838 73h3.5v4.5h-3.5zM1220 77h12.5v4.5h-12.5zM1313 77h6.5v4.5h-6.5zM1496 77h9.5v4.5h-9.5zM1829 77h3.5v4.5h-3.5zM1241 81h9.5v4.5h-9.5zM1307 81h9.5v4.5h-9.5zM1502 81h9.5v4.5h-9.5zM1820 81h3.5v4.5h-3.5zM1283 85h12.5v4.5h-12.5zM1514 85h6.5v4.5h-6.5zM1811 85h3.5v4.5h-3.5zM1523 89h6.5v4.5h-6.5zM1799 89h6.5v4.5h-6.5zM1532 93h3.5v4.5h-3.5zM1775 93h12.5v4.5h-12.5zM1538 97h6.5v4.5h-6.5zM1745 97h15.5v4.5h-15.5zM1547 101h6.5v4.5h-6.5zM1709 101h18.5v4.5h-18.5zM1559 105h6.5v4.5h-6.5zM1679 105h15.5v4.5h-15.5zM1580 109h12.5v4.5h-12.5zM1643 109h18.5v4.5h-18.5z"/>
<path fill="#3e508c" d="M1154 45h36.5v4.5h-36.5zM1334 45h9.5v4.5h-9.5zM1514 45h9.5v4.5h-9.5zM1856 45h3.5v4.5h-3.5zM1154 49h36.5v4.5h-36.5zM1334 49h9.5v4.5h-9.5zM1514 49h9.5v4.5h-9.5zM1856 49h3.5v4.5h-3.5zM1154 53h36.5v4.5h-36.5zM1334 53h9.5v4.5h-9.5zM1514 53h9.5v4.5h-9.5zM1856 53h3.5v4.5h-3.5zM1187 57h12.5v4.5h-12.5zM1322 57h12.5v4.5h-12.5zM1517 57h6.5v4.5h-6.5zM1199 61h12.5v4.5h-12.5zM1298 61h18.5v4.5h-18.5zM1517 61h6.5v4.5h-6.5zM1205 65h12.5v4.5h-12.5zM1295 65h12.5v4.5h-12.5zM1517 65h6.5v4.5h-6.5zM1847 65h3.5v4.5h-3.5zM1208 69h12.5v4.5h-12.5zM1298 69h12.5v4.5h-12.5zM1511 69h9.5v4.5h-9.5zM1841 69h3.5v4.5h-3.5zM1217 73h12.5v4.5h-12.5zM1304 73h6.5v4.5h-6.5zM1508 73h9.5v4.5h-9.5zM1832 73h6.5v4.5h-6.5zM1232 77h9.5v4.5h-9.5zM1304 77h9.5v4.5h-9.5zM1505 77h9.5v4.5h-9.5zM1823 77h6.5v4.5h-6.5zM1250 81h12.5v4.5h-12.5zM1295 81h12.5v4.5h-12.5zM1511 81h6.5v4.5h-6.5zM1817 81h3.5v4.5h-3.5zM1520 85h6.5v4.5h-6.5zM1805 85h6.5v4.5h-6.5zM1529 89h3.5v4.5h-3.5zM1790 89h9.5v4.5h-9.5zM1535 93h6.5v4.5h-6.5zM1763 93h12.5v4.5h-12.5zM1544 97h3.5v4.5h-3.5zM1727 97h18.5v4.5h-18.5zM1553 101h3.5v4.5h-3.5zM1694 101h15.5v4.5h-15.5zM1565 105h6.5v4.5h-6.5zM1664 105h15.5v4.5h-15.5zM1592 109h51.5v4.5h-51.5z"/>
<path fill="#3e4c88" d="M1190 45h12.5v4.5h-12.5zM1325 45h9.5v4.5h-9.5zM1523 45h6.5v4.5h-6.5zM1853 45h3.5v4.5h-3.5zM1190 49h12.5v4.5h-12.5zM1325 49h9.5v4.5h-9.5zM1523 49h6.5v4.5h-6.5zM1853 49h3.5v4.5h-3.5zM1190 53h12.5v4.5h-12.5zM1325 53h9.5v4.5h-9.5zM1523 53h6.5v4.5h-6.5zM1853 53h3.5v4.5h-3.5zM1199 57h12.5v4.5h-12.5zM1307 57h15.5v4.5h-15.5zM1523 57h6.5v4.5h-6.5zM1853 57h3.5v4.5h-3.5zM1211 61h15.5v4.5h-15.5zM1277 61h21.5v4.5h-21.5zM1523 61h6.5v4.5h-6.5zM1850 61h3.5v4.5h-3.5zM1217 65h15.5v4.5h-15.5zM1274 65h21.5v4.5h-21.5zM1523 65h6.5v4.5h-6.5zM1844 65h3.5v4.5h-3.5zM1220 69h15.5v4.5h-15.5zM1283 69h15.5v4.5h-15.5zM1520 69h6.5v4.5h-6.5zM1838 69h3.5v4.5h-3.5zM1229 73h12.5v4.5h-12.5zM1292 73h12.5v4.5h-12.5zM1517 73h6.5v4.5h-6.5zM1829 73h3.5v4.5h-3.5zM1241 77h9.5v4.5h-9.5zM1292 77h12.5v4.5h-12.5zM1514 77h9.5v4.5h-9.5zM1820 77h3.5v4.5h-3.5zM1262 81h33.5v4.5h-33.5zM1517 81h9.5v4.5h-9.5zM1811 81h6.5v4.5h-6.5zM1526 85h6.5v4.5h-6.5zM1802 85h3.5v4.5h-3.5zM1532 89h6.5v4.5h-6.5zM1781 89h9.5v4.5h-9.5zM1541 93h3.5v4.5h-3.5zM1748 93h15.5v4.5h-15.5zM1547 97h3.5v4.5h-3.5zM1709 97h18.5v4.5h-18.5zM1556 101h6.5v4.5h-6.5zM1679 101h15.5v4.5h-15.5zM1571 105h9.5v4.5h-9.5zM1649 105h15.5v4.5h-15.5z"/>
<path fill="#3f4984" d="M1202 45h12.5v4.5h-12.5zM1313 45h12.5v4.5h-12.5zM1529 45h6.5v4.5h-6.5zM1202 49h12.5v4.5h-12.5zM1313 49h12.5v4.5h-12.5zM1529 49h6.5v4.5h-6.5zM1202 53h12.5v4.5h-12.5zM1313 53h12.5v4.5h-12.5zM1529 53h6.5v4.5h-6.5zM1211 57h15.5v4.5h-15.5zM1283 57h24.5v4.5h-24.5zM1529 57h6.5v4.5h-6.5zM1850 57h3.5v4.5h-3.5zM1226 61h51.5v4.5h-51.5zM1529 61h6.5v4.5h-6.5zM1847 61h3.5v4.5h-3.5zM1232 65h42.5v4.5h-42.5zM1529 65h3.5v4.5h-3.5zM1841 65h3.5v4.5h-3.5zM1235 69h48.5v4.5h-48.5zM1526 69h6.5v4.5h-6.5zM1835 69h3.5v4.5h-3.5zM1241 73h18.5v4.5h-18.5zM1274 73h18.5v4.5h-18.5zM1523 73h6.5v4.5h-6.5zM1826 73h3.5v4.5h-3.5zM1250 77h42.5v4.5h-42.5zM1523 77h6.5v4.5h-6.5zM1817 77h3.5v4.5h-3.5zM1526 81h6.5v4.5h-6.5zM1808 81h3.5v4.5h-3.5zM1532 85h6.5v4.5h-6.5zM1796 85h6.5v4.5h-6.5zM1538 89h6.5v4.5h-6.5zM1772 89h9.5v4.5h-9.5zM1544 93h6.5v4.5h-6.5zM1730 93h18.5v4.5h-18.5zM1550 97h6.5v4.5h-6.5zM1691 97h18.5v4.5h-18.5zM1562 101h6.5v4.5h-6.5zM1664 101h15.5v4.5h-15.5zM1580 105h15.5v4.5h-15.5zM1628 105h21.5v4.5h-21.5z"/>
<path fill="#3f467f" d="M1214 45h15.5v4.5h-15.5zM1295 45h18.5v4.5h-18.5zM1535 45h3.5v4.5h-3.5zM1850 45h3.5v4.5h-3.5zM1214 49h15.5v4.5h-15.5zM1295 49h18.5v4.5h-18.5zM1535 49h3.5v4.5h-3.5zM1850 49h3.5v4.5h-3.5zM1214 53h15.5v4.5h-15.5zM1295 53h18.5v4.5h-18.5zM1535 53h3.5v4.5h-3.5zM1850 53h3.5v4.5h-3.5zM1226 57h57.5v4.5h-57.5zM1535 57h6.5v4.5h-6.5zM1847 57h3.5v4.5h-3.5zM1535 61h3.5v4.5h-3.5zM1844 61h3.5v4.5h-3.5zM1532 65h6.5v4.5h-6.5zM1838 65h3.5v4.5h-3.5zM1532 69h6.5v4.5h-6.5zM1832 69h3.5v4.5h-3.5zM1259 73h15.5v4.5h-15.5zM1529 73h9.5v4.5h-9.5zM1823 73h3.5v4.5h-3.5zM1529 77h9.5v4.5h-9.5zM1814 77h3.5v4.5h-3.5zM1532 81h9.5v4.5h-9.5zM1805 81h3.5v4.5h-3.5zM1538 85h6.5v4.5h-6.5zM1790 85h6.5v4.5h-6.5zM1544 89h6.5v4.5h-6.5zM1760 89h12.5v4.5h-12.5zM1550 93h3.5v4.5h-3.5zM1706 93h24.5v4.5h-24.5zM1556 97h6.5v4.5h-6.5zM1673 97h18.5v4.5h-18.5zM1568 101h6.5v4.5h-6.5zM1646 101h18.5v4.5h-18.5zM1595 105h33.5v4.5h-33.5z"/>
<path fill="#3f427b" d="M1229 45h66.5v4.5h-66.5zM1538 45h6.5v4.5h-6.5zM1847 45h3.5v4.5h-3.5zM1229 49h66.5v4.5h-66.5zM1538 49h6.5v4.5h-6.5zM1847 49h3.5v4.5h-3.5zM1229 53h66.5v4.5h-66.5zM1538 53h6.5v4.5h-6.5zM1847 53h3.5v4.5h-3.5zM1541 57h3.5v4.5h-3.5zM1538 61h6.5v4.5h-6.5zM1841 61h3.5v4.5h-3.5zM1538 65h6.5v4.5h-6.5zM1835 65h3.5v4.5h-3.5zM1538 69h6.5v4.5h-6.5zM1829 69h3.5v4.5h-3.5zM1538 73h6.5v4.5h-6.5zM1820 73h3.5v4.5h-3.5zM1538 77h9.5v4.5h-9.5zM1811 77h3.5v4.5h-3.5zM1541 81h6.5v4.5h-6.5zM1799 81h6.5v4.5h-6.5zM1544 85h6.5v4.5h-6.5zM1781 85h9.5v4.5h-9.5zM1550 89h6.5v4.5h-6.5zM1739 89h21.5v4.5h-21.5zM1553 93h6.5v4.5h-6.5zM1682 93h24.5v4.5h-24.5zM1562 97h6.5v4.5h-6.5zM1655 97h18.5v4.5h-18.5zM1574 101h15.5v4.5h-15.5zM1628 101h18.5v4.5h-18.5z"/>
<path fill="#403f77" d="M1544 45h6.5v4.5h-6.5zM1844 45h3.5v4.5h-3.5zM1544 49h6.5v4.5h-6.5zM1844 49h3.5v4.5h-3.5zM1544 53h6.5v4.5h-6.5zM1844 53h3.5v4.5h-3.5zM1544 57h6.5v4.5h-6.5zM1844 57h3.5v4.5h-3.5zM1544 61h6.5v4.5h-6.5zM1838 61h3.5v4.5h-3.5zM1544 65h6.5v4.5h-6.5zM1832 65h3.5v4.5h-3.5zM1544 69h6.5v4.5h-6.5zM1826 69h3.5v4.5h-3.5zM1544 73h6.5v4.5h-6.5zM1817 73h3.5v4.5h-3.5zM1547 77h6.5v4.5h-6.5zM1808 77h3.5v4.5h-3.5zM1547 81h9.5v4.5h-9.5zM1796 81h3.5v4.5h-3.5zM1550 85h9.5v4.5h-9.5zM1772 85h9.5v4.5h-9.5zM1556 89h6.5v4.5h-6.5zM1709 89h30.5v4.5h-30.5zM1559 93h6.5v4.5h-6.5zM1664 93h18.5v4.5h-18.5zM1568 97h9.5v4.5h-9.5zM1637 97h18.5v4.5h-18.5zM1589 101h39.5v4.5h-39.5z"/>
<path fill="#403c72" d="M1550 45h6.5v4.5h-6.5zM1841 45h3.5v4.5h-3.5zM1550 49h6.5v4.5h-6.5zM1841 49h3.5v4.5h-3.5zM1550 53h6.5v4.5h-6.5zM1841 53h3.5v4.5h-3.5zM1550 57h6.5v4.5h-6.5zM1841 57h3.5v4.5h-3.5zM1550 61h6.5v4.5h-6.5zM1835 61h3.5v4.5h-3.5zM1550 65h6.5v4.5h-6.5zM1829 65h3.5v4.5h-3.5zM1550 69h6.5v4.5h-6.5zM1823 69h3.5v4.5h-3.5zM1550 73h9.5v4.5h-9.5zM1814 73h3.5v4.5h-3.5zM1553 77h9.5v4.5h-9.5zM1805 77h3.5v4.5h-3.5zM1556 81h9.5v4.5h-9.5zM1790 81h6.5v4.5h-6.5zM1559 85h9.5v4.5h-9.5zM1760 85h12.5v4.5h-12.5zM1562 89h9.5v4.5h-9.5zM1673 89h36.5v4.5h-36.5zM1565 93h9.5v4.5h-9.5zM1643 93h21.5v4.5h-21.5zM1577 97h18.5v4.5h-18.5zM1610 97h27.5v4.5h-27.5z"/>
<path fill="#3e396d" d="M1556 45h6.5v4.5h-6.5zM1838 45h3.5v4.5h-3.5zM1556 49h6.5v4.5h-6.5zM1838 49h3.5v4.5h-3.5zM1556 53h6.5v4.5h-6.5zM1838 53h3.5v4.5h-3.5zM1556 57h6.5v4.5h-6.5zM1838 57h3.5v4.5h-3.5zM1556 61h3.5v4.5h-3.5zM1832 61h3.5v4.5h-3.5zM1556 65h6.5v4.5h-6.5zM1826 65h3.5v4.5h-3.5zM1556 69h6.5v4.5h-6.5zM1820 69h3.5v4.5h-3.5zM1559 73h9.5v4.5h-9.5zM1811 73h3.5v4.5h-3.5zM1562 77h9.5v4.5h-9.5zM1802 77h3.5v4.5h-3.5zM1565 81h12.5v4.5h-12.5zM1784 81h6.5v4.5h-6.5zM1568 85h9.5v4.5h-9.5zM1730 85h30.5v4.5h-30.5zM1571 89h12.5v4.5h-12.5zM1649 89h24.5v4.5h-24.5zM1574 93h18.5v4.5h-18.5zM1616 93h27.5v4.5h-27.5zM1595 97h15.5v4.5h-15.5z"/>
<path fill="#3d3767" d="M1562 45h6.5v4.5h-6.5zM1835 45h3.5v4.5h-3.5zM1562 49h6.5v4.5h-6.5zM1835 49h3.5v4.5h-3.5zM1562 53h6.5v4.5h-6.5zM1835 53h3.5v4.5h-3.5zM1562 57h6.5v4.5h-6.5zM1835 57h3.5v4.5h-3.5zM1559 61h6.5v4.5h-6.5zM1829 61h3.5v4.5h-3.5zM1562 65h6.5v4.5h-6.5zM1823 65h3.5v4.5h-3.5zM1562 69h9.5v4.5h-9.5zM1817 69h3.5v4.5h-3.5zM1568 73h6.5v4.5h-6.5zM1808 73h3.5v4.5h-3.5zM1571 77h9.5v4.5h-9.5zM1796 77h6.5v4.5h-6.5zM1577 81h12.5v4.5h-12.5zM1775 81h9.5v4.5h-9.5zM1577 85h18.5v4.5h-18.5zM1661 85h69.5v4.5h-69.5zM1583 89h66.5v4.5h-66.5zM1592 93h24.5v4.5h-24.5z"/>
<path fill="#3b3461" d="M1568 45h6.5v4.5h-6.5zM1832 45h3.5v4.5h-3.5zM1568 49h6.5v4.5h-6.5zM1832 49h3.5v4.5h-3.5zM1568 53h6.5v4.5h-6.5zM1832 53h3.5v4.5h-3.5zM1568 57h6.5v4.5h-6.5zM1832 57h3.5v4.5h-3.5zM1565 61h6.5v4.5h-6.5zM1826 61h3.5v4.5h-3.5zM1568 65h6.5v4.5h-6.5zM1571 69h6.5v4.5h-6.5zM1814 69h3.5v4.5h-3.5zM1574 73h9.5v4.5h-9.5zM1805 73h3.5v4.5h-3.5zM1580 77h12.5v4.5h-12.5zM1793 77h3.5v4.5h-3.5zM1589 81h15.5v4.5h-15.5zM1763 81h12.5v4.5h-12.5zM1595 85h66.5v4.5h-66.5z"/>
<path fill="#3a315b" d="M1574 45h6.5v4.5h-6.5zM1829 45h3.5v4.5h-3.5zM1574 49h6.5v4.5h-6.5zM1829 49h3.5v4.5h-3.5zM1574 53h6.5v4.5h-6.5zM1829 53h3.5v4.5h-3.5zM1574 57h6.5v4.5h-6.5zM1829 57h3.5v4.5h-3.5zM1571 61h9.5v4.5h-9.5zM1574 65h6.5v4.5h-6.5zM1820 65h3.5v4.5h-3.5zM1577 69h9.5v4.5h-9.5zM1811 69h3.5v4.5h-3.5zM1583 73h12.5v4.5h-12.5zM1802 73h3.5v4.5h-3.5zM1592 77h15.5v4.5h-15.5zM1787 77h6.5v4.5h-6.5zM1604 81h159.5v4.5h-159.5z"/>
<path fill="#382f55" d="M1580 45h6.5v4.5h-6.5zM1826 45h3.5v4.5h-3.5zM1580 49h6.5v4.5h-6.5zM1826 49h3.5v4.5h-3.5zM1580 53h6.5v4.5h-6.5zM1826 53h3.5v4.5h-3.5zM1580 57h6.5v4.5h-6.5zM1826 57h3.5v4.5h-3.5zM1580 61h6.5v4.5h-6.5zM1823 61h3.5v4.5h-3.5zM1580 65h9.5v4.5h-9.5zM1817 65h3.5v4.5h-3.5zM1586 69h9.5v4.5h-9.5zM1808 69h3.5v4.5h-3.5zM1595 73h9.5v4.5h-9.5zM1799 73h3.5v4.5h-3.5zM1607 77h18.5v4.5h-18.5zM1781 77h6.5v4.5h-6.5z"/>
<path fill="#372c50" d="M1586 45h9.5v4.5h-9.5zM1823 45h3.5v4.5h-3.5zM1586 49h9.5v4.5h-9.5zM1823 49h3.5v4.5h-3.5zM1586 53h9.5v4.5h-9.5zM1823 53h3.5v4.5h-3.5zM1586 57h6.5v4.5h-6.5zM1823 57h3.5v4.5h-3.5zM1586 61h6.5v4.5h-6.5zM1820 61h3.5v4.5h-3.5zM1589 65h9.5v4.5h-9.5zM1814 65h3.5v4.5h-3.5zM1595 69h9.5v4.5h-9.5zM1805 69h3.5v4.5h-3.5zM1604 73h15.5v4.5h-15.5zM1793 73h6.5v4.5h-6.5zM1625 77h30.5v4.5h-30.5zM1769 77h12.5v4.5h-12.5z"/>
<path fill="#352a4a" d="M1595 45h6.5v4.5h-6.5zM1820 45h3.5v4.5h-3.5zM1595 49h6.5v4.5h-6.5zM1820 49h3.5v4.5h-3.5zM1595 53h6.5v4.5h-6.5zM1820 53h3.5v4.5h-3.5zM1592 57h9.5v4.5h-9.5zM1820 57h3.5v4.5h-3.5zM1592 61h9.5v4.5h-9.5zM1817 61h3.5v4.5h-3.5zM1598 65h9.5v4.5h-9.5zM1811 65h3.5v4.5h-3.5zM1604 69h12.5v4.5h-12.5zM1802 69h3.5v4.5h-3.5zM1619 73h12.5v4.5h-12.5zM1790 73h3.5v4.5h-3.5zM1655 77h60.5v4.5h-60.5zM1748 77h21.5v4.5h-21.5z"/>
<path fill="#322745" d="M1601 45h6.5v4.5h-6.5zM1817 45h3.5v4.5h-3.5zM1601 49h6.5v4.5h-6.5zM1817 49h3.5v4.5h-3.5zM1601 53h6.5v4.5h-6.5zM1817 53h3.5v4.5h-3.5zM1601 57h6.5v4.5h-6.5zM1817 57h3.5v4.5h-3.5zM1601 61h9.5v4.5h-9.5zM1814 61h3.5v4.5h-3.5zM1607 65h9.5v4.5h-9.5zM1808 65h3.5v4.5h-3.5zM1616 69h9.5v4.5h-9.5zM1799 69h3.5v4.5h-3.5zM1631 73h18.5v4.5h-18.5zM1781 73h9.5v4.5h-9.5zM1715 77h33.5v4.5h-33.5z"/>
<path fill="#302440" d="M1607 45h9.5v4.5h-9.5zM1814 45h3.5v4.5h-3.5zM1607 49h9.5v4.5h-9.5zM1814 49h3.5v4.5h-3.5zM1607 53h9.5v4.5h-9.5zM1814 53h3.5v4.5h-3.5zM1607 57h9.5v4.5h-9.5zM1814 57h3.5v4.5h-3.5zM1610 61h6.5v4.5h-6.5zM1811 61h3.5v4.5h-3.5zM1616 65h9.5v4.5h-9.5zM1805 65h3.5v4.5h-3.5zM1625 69h12.5v4.5h-12.5zM1793 69h6.5v4.5h-6.5zM1649 73h24.5v4.5h-24.5zM1775 73h6.5v4.5h-6.5z"/>
<path fill="#2e223b" d="M1616 45h9.5v4.5h-9.5zM1811 45h3.5v4.5h-3.5zM1616 49h9.5v4.5h-9.5zM1811 49h3.5v4.5h-3.5zM1616 53h9.5v4.5h-9.5zM1811 53h3.5v4.5h-3.5zM1616 57h6.5v4.5h-6.5zM1811 57h3.5v4.5h-3.5zM1616 61h9.5v4.5h-9.5zM1808 61h3.5v4.5h-3.5zM1625 65h9.5v4.5h-9.5zM1799 65h6.5v4.5h-6.5zM1637 69h12.5v4.5h-12.5zM1790 69h3.5v4.5h-3.5zM1673 73h33.5v4.5h-33.5zM1757 73h18.5v4.5h-18.5z"/>
<path fill="#2c1f36" d="M1625 45h6.5v4.5h-6.5zM1808 45h3.5v4.5h-3.5zM1625 49h6.5v4.5h-6.5zM1808 49h3.5v4.5h-3.5zM1625 53h6.5v4.5h-6.5zM1808 53h3.5v4.5h-3.5zM1622 57h9.5v4.5h-9.5zM1808 57h3.5v4.5h-3.5zM1625 61h9.5v4.5h-9.5zM1802 61h6.5v4.5h-6.5zM1634 65h9.5v4.5h-9.5zM1796 65h3.5v4.5h-3.5zM1649 69h15.5v4.5h-15.5zM1781 69h9.5v4.5h-9.5zM1706 73h51.5v4.5h-51.5z"/>
<path fill="#291d31" d="M1631 45h9.5v4.5h-9.5zM1802 45h6.5v4.5h-6.5zM1631 49h9.5v4.5h-9.5zM1802 49h6.5v4.5h-6.5zM1631 53h9.5v4.5h-9.5zM1802 53h6.5v4.5h-6.5zM1631 57h9.5v4.5h-9.5zM1802 57h6.5v4.5h-6.5zM1634 61h9.5v4.5h-9.5zM1799 61h3.5v4.5h-3.5zM1643 65h9.5v4.5h-9.5zM1790 65h6.5v4.5h-6.5zM1664 69h15.5v4.5h-15.5zM1775 69h6.5v4.5h-6.5z"/>
<path fill="#271a2c" d="M1640 45h162.5v4.5h-162.5zM1640 49h162.5v4.5h-162.5zM1640 53h162.5v4.5h-162.5zM1640 57h162.5v4.5h-162.5zM1643 61h156.5v4.5h-156.5zM1652 65h138.5v4.5h-138.5zM1679 69h96.5v4.5h-96.5z"/>
</g></g>
<circle cx="1183.2" cy="88.8" r="2.0" fill="#2c2a2e"/>
<circle cx="1183.2" cy="110.0" r="2.0" fill="#2c2a2e"/>
<circle cx="1183.2" cy="141.7" r="2.0" fill="#2c2a2e"/>
<circle cx="1183.2" cy="162.8" r="2.0" fill="#2c2a2e"/>
<circle cx="1183.2" cy="279.1" r="2.0" fill="#2c2a2e"/>
<circle cx="1183.2" cy="374.2" r="2.0" fill="#2c2a2e"/>
<circle cx="1217.1" cy="88.8" r="2.0" fill="#2c2a2e"/>
<circle cx="1217.1" cy="110.0" r="2.0" fill="#2c2a2e"/>
<circle cx="1217.1" cy="149.6" r="2.0" fill="#2c2a2e"/>
<circle cx="1217.1" cy="168.1" r="2.0" fill="#2c2a2e"/>
<circle cx="1217.1" cy="273.8" r="2.0" fill="#2c2a2e"/>
<circle cx="1217.1" cy="374.2" r="2.0" fill="#2c2a2e"/>
<circle cx="1283.7" cy="88.8" r="2.0" fill="#2c2a2e"/>
<circle cx="1283.7" cy="110.0" r="2.0" fill="#2c2a2e"/>
<circle cx="1283.7" cy="136.4" r="2.0" fill="#2c2a2e"/>
<circle cx="1283.7" cy="162.8" r="2.0" fill="#2c2a2e"/>
<circle cx="1283.7" cy="279.1" r="2.0" fill="#2c2a2e"/>
<circle cx="1283.7" cy="374.2" r="2.0" fill="#2c2a2e"/>
<circle cx="1371.8" cy="80.9" r="2.0" fill="#2c2a2e"/>
<circle cx="1371.8" cy="110.0" r="2.0" fill="#2c2a2e"/>
<circle cx="1371.8" cy="123.2" r="2.0" fill="#2c2a2e"/>
<circle cx="1371.8" cy="162.8" r="2.0" fill="#2c2a2e"/>
<circle cx="1371.8" cy="252.6" r="2.0" fill="#2c2a2e"/>
<circle cx="1371.8" cy="374.2" r="2.0" fill="#2c2a2e"/>
<circle cx="1415.6" cy="83.5" r="2.0" fill="#2c2a2e"/>
<circle cx="1415.6" cy="110.0" r="2.0" fill="#2c2a2e"/>
<circle cx="1415.6" cy="128.4" r="2.0" fill="#2c2a2e"/>
<circle cx="1415.6" cy="162.8" r="2.0" fill="#2c2a2e"/>
<circle cx="1415.6" cy="242.1" r="2.0" fill="#2c2a2e"/>
<circle cx="1415.6" cy="374.2" r="2.0" fill="#2c2a2e"/>
<circle cx="1482.1" cy="83.5" r="2.0" fill="#2c2a2e"/>
<circle cx="1482.1" cy="104.7" r="2.0" fill="#2c2a2e"/>
<circle cx="1482.1" cy="125.8" r="2.0" fill="#2c2a2e"/>
<circle cx="1482.1" cy="162.8" r="2.0" fill="#2c2a2e"/>
<circle cx="1482.1" cy="242.1" r="2.0" fill="#2c2a2e"/>
<circle cx="1482.1" cy="374.2" r="2.0" fill="#2c2a2e"/>
<circle cx="1570.4" cy="86.2" r="2.0" fill="#2c2a2e"/>
<circle cx="1570.4" cy="104.7" r="2.0" fill="#2c2a2e"/>
<circle cx="1570.4" cy="117.9" r="2.0" fill="#2c2a2e"/>
<circle cx="1570.4" cy="162.8" r="2.0" fill="#2c2a2e"/>
<circle cx="1570.4" cy="244.7" r="2.0" fill="#2c2a2e"/>
<circle cx="1570.4" cy="374.2" r="2.0" fill="#2c2a2e"/>
<circle cx="1637.0" cy="88.8" r="2.0" fill="#2c2a2e"/>
<circle cx="1637.0" cy="99.4" r="2.0" fill="#2c2a2e"/>
<circle cx="1637.0" cy="120.5" r="2.0" fill="#2c2a2e"/>
<circle cx="1637.0" cy="162.8" r="2.0" fill="#2c2a2e"/>
<circle cx="1637.0" cy="252.6" r="2.0" fill="#2c2a2e"/>
<circle cx="1637.0" cy="374.2" r="2.0" fill="#2c2a2e"/>
<circle cx="1698.7" cy="78.2" r="2.0" fill="#2c2a2e"/>
<circle cx="1698.7" cy="99.4" r="2.0" fill="#2c2a2e"/>
<circle cx="1698.7" cy="120.5" r="2.0" fill="#2c2a2e"/>
<circle cx="1698.7" cy="162.8" r="2.0" fill="#2c2a2e"/>
<circle cx="1698.7" cy="252.6" r="2.0" fill="#2c2a2e"/>
<circle cx="1698.7" cy="374.2" r="2.0" fill="#2c2a2e"/>
<circle cx="1775.8" cy="78.2" r="2.0" fill="#2c2a2e"/>
<circle cx="1775.8" cy="99.4" r="2.0" fill="#2c2a2e"/>
<circle cx="1775.8" cy="162.8" r="2.0" fill="#2c2a2e"/>
<circle cx="1775.8" cy="252.6" r="2.0" fill="#2c2a2e"/>
<circle cx="1775.8" cy="374.2" r="2.0" fill="#2c2a2e"/>
<circle cx="1848.1" cy="78.2" r="2.0" fill="#2c2a2e"/>
<circle cx="1848.1" cy="94.1" r="2.0" fill="#2c2a2e"/>
<circle cx="1848.1" cy="120.5" r="2.0" fill="#2c2a2e"/>
<circle cx="1848.1" cy="162.8" r="2.0" fill="#2c2a2e"/>
<circle cx="1848.1" cy="268.5" r="2.0" fill="#2c2a2e"/>
<circle cx="1848.1" cy="374.2" r="2.0" fill="#2c2a2e"/>
<circle cx="1907.4" cy="78.2" r="2.0" fill="#2c2a2e"/>
<circle cx="1907.4" cy="120.5" r="2.0" fill="#2c2a2e"/>
<circle cx="1907.4" cy="162.8" r="2.0" fill="#2c2a2e"/>
<circle cx="1907.4" cy="268.5" r="2.0" fill="#2c2a2e"/>
<circle cx="1907.4" cy="374.2" r="2.0" fill="#2c2a2e"/>
<rect x="1165.7" y="57.4" width="756.2" height="343.0" fill="none" stroke="#2b2b2b" stroke-width="1.4"/>
<line x1="1158.7" x2="1165.7" y1="57.4" y2="57.4" stroke="#2b2b2b" stroke-width="1.4"/>
<text x="1149.3" y="65.9" text-anchor="end" font-size="27.8" letter-spacing="-1.6">0</text>
<line x1="1158.7" x2="1165.7" y1="110.2" y2="110.2" stroke="#2b2b2b" stroke-width="1.4"/>
<text x="1149.3" y="118.8" text-anchor="end" font-size="27.8" letter-spacing="-1.6">100</text>
<line x1="1158.7" x2="1165.7" y1="163.1" y2="163.1" stroke="#2b2b2b" stroke-width="1.4"/>
<text x="1149.3" y="171.6" text-anchor="end" font-size="27.8" letter-spacing="-1.6">200</text>
<line x1="1158.7" x2="1165.7" y1="215.9" y2="215.9" stroke="#2b2b2b" stroke-width="1.4"/>
<text x="1149.3" y="224.4" text-anchor="end" font-size="27.8" letter-spacing="-1.6">300</text>
<line x1="1158.7" x2="1165.7" y1="268.8" y2="268.8" stroke="#2b2b2b" stroke-width="1.4"/>
<text x="1149.3" y="277.3" text-anchor="end" font-size="27.8" letter-spacing="-1.6">400</text>
<line x1="1158.7" x2="1165.7" y1="321.6" y2="321.6" stroke="#2b2b2b" stroke-width="1.4"/>
<text x="1149.3" y="330.1" text-anchor="end" font-size="27.8" letter-spacing="-1.6">500</text>
<line x1="1158.7" x2="1165.7" y1="374.5" y2="374.5" stroke="#2b2b2b" stroke-width="1.4"/>
<text x="1149.3" y="383.0" text-anchor="end" font-size="27.8" letter-spacing="-1.6">600</text>
<line x1="1196.0" x2="1196.0" y1="400.4" y2="407.4" stroke="#2b2b2b" stroke-width="1.4"/>
<text x="1196.0" y="437.6" text-anchor="middle" font-size="27.6" letter-spacing="-1.5">160°E</text>
<line x1="1317.0" x2="1317.0" y1="400.4" y2="407.4" stroke="#2b2b2b" stroke-width="1.4"/>
<text x="1317.0" y="437.6" text-anchor="middle" font-size="27.6" letter-spacing="-1.5">180°E</text>
<line x1="1438.0" x2="1438.0" y1="400.4" y2="407.4" stroke="#2b2b2b" stroke-width="1.4"/>
<text x="1438.0" y="437.6" text-anchor="middle" font-size="27.6" letter-spacing="-1.5">160°W</text>
<line x1="1559.0" x2="1559.0" y1="400.4" y2="407.4" stroke="#2b2b2b" stroke-width="1.4"/>
<text x="1559.0" y="437.6" text-anchor="middle" font-size="27.6" letter-spacing="-1.5">140°W</text>
<line x1="1680.0" x2="1680.0" y1="400.4" y2="407.4" stroke="#2b2b2b" stroke-width="1.4"/>
<text x="1680.0" y="437.6" text-anchor="middle" font-size="27.6" letter-spacing="-1.5">120°W</text>
<line x1="1801.0" x2="1801.0" y1="400.4" y2="407.4" stroke="#2b2b2b" stroke-width="1.4"/>
<text x="1801.0" y="437.6" text-anchor="middle" font-size="27.6" letter-spacing="-1.5">100°W</text>
<line x1="1922.0" x2="1922.0" y1="400.4" y2="407.4" stroke="#2b2b2b" stroke-width="1.4"/>
<text x="1922.0" y="437.6" text-anchor="middle" font-size="27.6" letter-spacing="-1.5">80°W</text>
<text x="1922.0" y="40.0" text-anchor="end" font-size="31.7" letter-spacing="0.02">SSF_POC (nmol L<tspan font-size="22" dy="-9">-1</tspan><tspan dy="9">)</tspan></text>
<text x="1064.2" y="42" font-size="48.5">b</text>
<text transform="translate(1942.1,397.6) rotate(-90)" font-size="15.85" letter-spacing="-0.2">Ocean Data View / DIVA</text>
<linearGradient id="cbb" x1="0" y1="1" x2="0" y2="0"><stop offset="0.0000" stop-color="#fdfdcc"/><stop offset="0.0909" stop-color="#ceecb3"/><stop offset="0.1818" stop-color="#9cdba5"/><stop offset="0.2727" stop-color="#6fc9a3"/><stop offset="0.3636" stop-color="#56b1a3"/><stop offset="0.4545" stop-color="#4c99a0"/><stop offset="0.5455" stop-color="#44829b"/><stop offset="0.6364" stop-color="#3e6c96"/><stop offset="0.7273" stop-color="#3e528f"/><stop offset="0.8182" stop-color="#403c73"/><stop offset="0.9091" stop-color="#362b4d"/><stop offset="1.0000" stop-color="#271a2c"/></linearGradient>
<rect x="1964.9" y="57.0" width="24.4" height="343.6" fill="url(#cbb)"/>
<path d="M1964.9 57.3 L1977.1 51.4 L1989.3 57.3 Z" fill="#271a2c"/>
<path d="M1964.9 400.3 L1977.1 406.0 L1989.3 400.3 Z" fill="#fdfdd6"/>
<path d="M1964.9 57.3 L1977.1 51.4 L1989.3 57.3 V400.3 L1977.1 406.0 L1964.9 400.3 Z" fill="none" stroke="#777" stroke-opacity="0.55" stroke-width="0.7"/>
<line x1="1964.9" x2="1969.9" y1="400.6" y2="400.6" stroke="#111" stroke-width="1.3"/>
<line x1="1984.3" x2="1989.3" y1="400.6" y2="400.6" stroke="#111" stroke-width="1.3"/>
<text x="1996.6" y="408.1" font-size="25.5" letter-spacing="-1.15">0</text>
<line x1="1964.9" x2="1969.9" y1="343.3" y2="343.3" stroke="#111" stroke-width="1.3"/>
<line x1="1984.3" x2="1989.3" y1="343.3" y2="343.3" stroke="#111" stroke-width="1.3"/>
<text x="1996.6" y="350.8" font-size="25.5" letter-spacing="-1.15">20</text>
<line x1="1964.9" x2="1969.9" y1="286.1" y2="286.1" stroke="#111" stroke-width="1.3"/>
<line x1="1984.3" x2="1989.3" y1="286.1" y2="286.1" stroke="#111" stroke-width="1.3"/>
<text x="1996.6" y="293.6" font-size="25.5" letter-spacing="-1.15">40</text>
<line x1="1964.9" x2="1969.9" y1="228.8" y2="228.8" stroke="#111" stroke-width="1.3"/>
<line x1="1984.3" x2="1989.3" y1="228.8" y2="228.8" stroke="#111" stroke-width="1.3"/>
<text x="1996.6" y="236.3" font-size="25.5" letter-spacing="-1.15">60</text>
<line x1="1964.9" x2="1969.9" y1="171.5" y2="171.5" stroke="#111" stroke-width="1.3"/>
<line x1="1984.3" x2="1989.3" y1="171.5" y2="171.5" stroke="#111" stroke-width="1.3"/>
<text x="1996.6" y="179.0" font-size="25.5" letter-spacing="-1.15">80</text>
<line x1="1964.9" x2="1969.9" y1="114.3" y2="114.3" stroke="#111" stroke-width="1.3"/>
<line x1="1984.3" x2="1989.3" y1="114.3" y2="114.3" stroke="#111" stroke-width="1.3"/>
<text x="1996.6" y="121.8" font-size="25.5" letter-spacing="-1.15">100</text>
<line x1="1964.9" x2="1969.9" y1="57.0" y2="57.0" stroke="#111" stroke-width="1.3"/>
<line x1="1984.3" x2="1989.3" y1="57.0" y2="57.0" stroke="#111" stroke-width="1.3"/>
<text x="1996.6" y="64.5" font-size="25.5" letter-spacing="-1.15">120</text>
<text x="16.9" y="534.3" font-size="49.5">c</text>
<text transform="translate(29.7,865) rotate(-90)" text-anchor="middle" font-size="35.2" letter-spacing="-1.0">Depth (m)</text>
<g stroke="#0d0d0d" stroke-width="1.6">
<circle cx="303.0" cy="637.6" r="7.9" fill="#f9766e"/>
<circle cx="316.0" cy="637.6" r="7.9" fill="#f9766e"/>
<circle cx="348.5" cy="637.6" r="7.9" fill="#f9766e"/>
<circle cx="434.2" cy="637.6" r="7.9" fill="#f9766e"/>
<circle cx="274.0" cy="642.1" r="7.9" fill="#f9766e"/>
<circle cx="289.0" cy="646.6" r="7.9" fill="#f9766e"/>
<circle cx="298.0" cy="646.6" r="7.9" fill="#f9766e"/>
<circle cx="324.5" cy="651.1" r="7.9" fill="#f9766e"/>
<circle cx="264.5" cy="655.6" r="7.9" fill="#f9766e"/>
<circle cx="277.0" cy="655.6" r="7.9" fill="#f9766e"/>
<circle cx="313.0" cy="655.6" r="7.9" fill="#f9766e"/>
<circle cx="315.5" cy="655.6" r="7.9" fill="#f9766e"/>
<circle cx="271.5" cy="664.6" r="7.9" fill="#f9766e"/>
<circle cx="272.0" cy="673.5" r="7.9" fill="#f9766e"/>
<circle cx="390.0" cy="673.5" r="7.9" fill="#f9766e"/>
<circle cx="442.5" cy="673.5" r="7.9" fill="#f9766e"/>
<circle cx="188.0" cy="682.5" r="7.9" fill="#f9766e"/>
<circle cx="246.5" cy="682.5" r="7.9" fill="#f9766e"/>
<circle cx="256.5" cy="691.5" r="7.9" fill="#f9766e"/>
<circle cx="268.5" cy="691.5" r="7.9" fill="#f9766e"/>
<circle cx="375.0" cy="691.5" r="7.9" fill="#f9766e"/>
<circle cx="424.5" cy="691.5" r="7.9" fill="#f9766e"/>
<circle cx="215.0" cy="705.0" r="7.9" fill="#f9766e"/>
<circle cx="234.0" cy="709.5" r="7.9" fill="#f9766e"/>
<circle cx="240.5" cy="709.5" r="7.9" fill="#f9766e"/>
<circle cx="256.5" cy="709.5" r="7.9" fill="#f9766e"/>
<circle cx="270.0" cy="709.5" r="7.9" fill="#f9766e"/>
<circle cx="326.8" cy="714.0" r="7.9" fill="#f9766e"/>
<circle cx="214.0" cy="718.4" r="7.9" fill="#f9766e"/>
<circle cx="199.5" cy="722.9" r="7.9" fill="#f9766e"/>
<circle cx="205.0" cy="736.4" r="7.9" fill="#f9766e"/>
<circle cx="240.5" cy="745.4" r="7.9" fill="#f9766e"/>
<circle cx="278.8" cy="758.9" r="7.9" fill="#f9766e"/>
<circle cx="220.5" cy="790.3" r="7.9" fill="#f9766e"/>
<circle cx="226.0" cy="781.3" r="7.9" fill="#f9766e"/>
<circle cx="233.0" cy="781.3" r="7.9" fill="#f9766e"/>
<circle cx="258.0" cy="781.3" r="7.9" fill="#f9766e"/>
<circle cx="269.0" cy="781.3" r="7.9" fill="#f9766e"/>
<circle cx="262.5" cy="781.3" r="7.9" fill="#f9766e"/>
<circle cx="331.5" cy="781.3" r="7.9" fill="#f9766e"/>
<circle cx="338.3" cy="781.3" r="7.9" fill="#f9766e"/>
<circle cx="270.2" cy="920.5" r="7.9" fill="#f9766e"/>
<circle cx="231.5" cy="916.0" r="7.9" fill="#f9766e"/>
<circle cx="264.1" cy="916.0" r="7.9" fill="#f9766e"/>
<circle cx="213.5" cy="934.0" r="7.9" fill="#f9766e"/>
<circle cx="253.8" cy="934.0" r="7.9" fill="#f9766e"/>
<circle cx="269.0" cy="934.0" r="7.9" fill="#f9766e"/>
<circle cx="261.3" cy="934.0" r="7.9" fill="#f9766e"/>
<circle cx="312.4" cy="960.9" r="7.9" fill="#f9766e"/>
<circle cx="362.4" cy="960.9" r="7.9" fill="#f9766e"/>
<circle cx="283.7" cy="969.9" r="7.9" fill="#f9766e"/>
<circle cx="200.4" cy="978.9" r="7.9" fill="#f9766e"/>
<circle cx="145.0" cy="1140.5" r="7.9" fill="#f9766e"/>
<circle cx="160.9" cy="1140.5" r="7.9" fill="#f9766e"/>
<circle cx="204.2" cy="1140.5" r="7.9" fill="#f9766e"/>
<circle cx="217.0" cy="1140.5" r="7.9" fill="#f9766e"/>
<circle cx="224.4" cy="1140.5" r="7.9" fill="#f9766e"/>
<circle cx="237.2" cy="1140.5" r="7.9" fill="#f9766e"/>
<circle cx="275.6" cy="1140.5" r="7.9" fill="#f9766e"/>
<circle cx="268.9" cy="1140.5" r="7.9" fill="#f9766e"/>
<circle cx="307.6" cy="1140.5" r="7.9" fill="#f9766e"/>
<circle cx="233.0" cy="646.6" r="7.9" fill="#86d6fa"/>
<circle cx="224.0" cy="637.6" r="7.9" fill="#86d6fa"/>
<circle cx="208.5" cy="637.6" r="7.9" fill="#86d6fa"/>
<circle cx="239.5" cy="637.6" r="7.9" fill="#86d6fa"/>
<circle cx="221.0" cy="642.1" r="7.9" fill="#86d6fa"/>
<circle cx="211.5" cy="655.6" r="7.9" fill="#86d6fa"/>
<circle cx="228.5" cy="655.6" r="7.9" fill="#86d6fa"/>
<circle cx="299.5" cy="664.6" r="7.9" fill="#86d6fa"/>
<circle cx="213.0" cy="673.5" r="7.9" fill="#86d6fa"/>
<circle cx="211.0" cy="673.5" r="7.9" fill="#86d6fa"/>
<circle cx="233.5" cy="673.5" r="7.9" fill="#86d6fa"/>
<circle cx="197.0" cy="682.5" r="7.9" fill="#86d6fa"/>
<circle cx="209.5" cy="691.5" r="7.9" fill="#86d6fa"/>
<circle cx="220.5" cy="691.5" r="7.9" fill="#86d6fa"/>
<circle cx="240.0" cy="691.5" r="7.9" fill="#86d6fa"/>
<circle cx="319.8" cy="691.5" r="7.9" fill="#86d6fa"/>
<circle cx="166.0" cy="709.5" r="7.9" fill="#86d6fa"/>
<circle cx="197.0" cy="709.5" r="7.9" fill="#86d6fa"/>
<circle cx="175.3" cy="705.0" r="7.9" fill="#86d6fa"/>
<circle cx="169.0" cy="718.4" r="7.9" fill="#86d6fa"/>
<circle cx="183.0" cy="714.0" r="7.9" fill="#86d6fa"/>
<circle cx="159.5" cy="722.9" r="7.9" fill="#86d6fa"/>
<circle cx="191.8" cy="736.4" r="7.9" fill="#86d6fa"/>
<circle cx="201.5" cy="745.4" r="7.9" fill="#86d6fa"/>
<circle cx="190.0" cy="758.9" r="7.9" fill="#86d6fa"/>
<circle cx="184.0" cy="790.3" r="7.9" fill="#86d6fa"/>
<circle cx="208.0" cy="781.3" r="7.9" fill="#86d6fa"/>
<circle cx="196.0" cy="781.3" r="7.9" fill="#86d6fa"/>
<circle cx="190.0" cy="781.3" r="7.9" fill="#86d6fa"/>
<circle cx="176.0" cy="781.3" r="7.9" fill="#86d6fa"/>
<circle cx="182.5" cy="781.3" r="7.9" fill="#86d6fa"/>
<circle cx="202.0" cy="781.3" r="7.9" fill="#86d6fa"/>
<circle cx="215.0" cy="781.3" r="7.9" fill="#86d6fa"/>
<circle cx="183.6" cy="920.5" r="7.9" fill="#86d6fa"/>
<circle cx="180.8" cy="916.0" r="7.9" fill="#86d6fa"/>
<circle cx="269.9" cy="916.0" r="7.9" fill="#86d6fa"/>
<circle cx="201.9" cy="934.0" r="7.9" fill="#86d6fa"/>
<circle cx="198.2" cy="934.0" r="7.9" fill="#86d6fa"/>
<circle cx="187.2" cy="934.0" r="7.9" fill="#86d6fa"/>
<circle cx="212.3" cy="960.9" r="7.9" fill="#86d6fa"/>
<circle cx="265.0" cy="960.9" r="7.9" fill="#86d6fa"/>
<circle cx="222.9" cy="969.9" r="7.9" fill="#86d6fa"/>
<circle cx="175.5" cy="978.9" r="7.9" fill="#86d6fa"/>
<circle cx="177.8" cy="978.9" r="7.9" fill="#86d6fa"/>
<circle cx="190.2" cy="1140.5" r="7.9" fill="#86d6fa"/>
<circle cx="187.8" cy="1140.5" r="7.9" fill="#86d6fa"/>
<circle cx="186.0" cy="1140.5" r="7.9" fill="#86d6fa"/>
<circle cx="183.5" cy="1140.5" r="7.9" fill="#86d6fa"/>
<circle cx="177.4" cy="1140.5" r="7.9" fill="#86d6fa"/>
<circle cx="166.6" cy="1140.5" r="7.9" fill="#86d6fa"/>
<circle cx="138.6" cy="1140.5" r="7.9" fill="#86d6fa"/>
<circle cx="230.5" cy="1140.5" r="7.9" fill="#86d6fa"/>
</g>
<rect x="119.6" y="584.0" width="382.5" height="601.3" fill="none" stroke="#000" stroke-width="2.5"/>
<line x1="119.6" x2="119.6" y1="574.1" y2="584.0" stroke="#000" stroke-width="2.4"/>
<text x="119.2" y="561" text-anchor="middle" font-size="28.6" letter-spacing="-1.5">0</text>
<line x1="196.1" x2="196.1" y1="574.1" y2="584.0" stroke="#000" stroke-width="2.4"/>
<text x="195.7" y="561" text-anchor="middle" font-size="28.6" letter-spacing="-1.5">20</text>
<line x1="272.6" x2="272.6" y1="574.1" y2="584.0" stroke="#000" stroke-width="2.4"/>
<text x="272.2" y="561" text-anchor="middle" font-size="28.6" letter-spacing="-1.5">40</text>
<line x1="349.1" x2="349.1" y1="574.1" y2="584.0" stroke="#000" stroke-width="2.4"/>
<text x="348.7" y="561" text-anchor="middle" font-size="28.6" letter-spacing="-1.5">60</text>
<line x1="425.6" x2="425.6" y1="574.1" y2="584.0" stroke="#000" stroke-width="2.4"/>
<text x="425.2" y="561" text-anchor="middle" font-size="28.6" letter-spacing="-1.5">80</text>
<line x1="502.1" x2="502.1" y1="574.1" y2="584.0" stroke="#000" stroke-width="2.4"/>
<text x="501.7" y="561" text-anchor="middle" font-size="28.6" letter-spacing="-1.5">100</text>
<line x1="109.6" x2="119.6" y1="601.7" y2="601.7" stroke="#000" stroke-width="2.4"/>
<text x="101.0" y="609.9" text-anchor="end" font-size="28" letter-spacing="-1.3">0</text>
<line x1="109.6" x2="119.6" y1="691.5" y2="691.5" stroke="#000" stroke-width="2.4"/>
<text x="101.0" y="699.7" text-anchor="end" font-size="28" letter-spacing="-1.3">100</text>
<line x1="109.6" x2="119.6" y1="781.3" y2="781.3" stroke="#000" stroke-width="2.4"/>
<text x="101.0" y="789.5" text-anchor="end" font-size="28" letter-spacing="-1.3">200</text>
<line x1="109.6" x2="119.6" y1="871.1" y2="871.1" stroke="#000" stroke-width="2.4"/>
<text x="101.0" y="879.3" text-anchor="end" font-size="28" letter-spacing="-1.3">300</text>
<line x1="109.6" x2="119.6" y1="960.9" y2="960.9" stroke="#000" stroke-width="2.4"/>
<text x="101.0" y="969.1" text-anchor="end" font-size="28" letter-spacing="-1.3">400</text>
<line x1="109.6" x2="119.6" y1="1050.7" y2="1050.7" stroke="#000" stroke-width="2.4"/>
<text x="101.0" y="1058.9" text-anchor="end" font-size="28" letter-spacing="-1.3">500</text>
<line x1="109.6" x2="119.6" y1="1140.5" y2="1140.5" stroke="#000" stroke-width="2.4"/>
<text x="101.0" y="1148.7" text-anchor="end" font-size="28" letter-spacing="-1.3">600</text>
<text x="351.5" y="519" text-anchor="middle" font-size="30.6" letter-spacing="-0.7">TPAA (%POC)</text>
<g stroke="#0d0d0d" stroke-width="1.6">
<circle cx="723.0" cy="637.6" r="7.9" fill="#f9766e"/>
<circle cx="736.5" cy="637.6" r="7.9" fill="#f9766e"/>
<circle cx="755.0" cy="637.6" r="7.9" fill="#f9766e"/>
<circle cx="788.3" cy="637.6" r="7.9" fill="#f9766e"/>
<circle cx="722.0" cy="646.6" r="7.9" fill="#f9766e"/>
<circle cx="753.0" cy="646.6" r="7.9" fill="#f9766e"/>
<circle cx="822.5" cy="646.6" r="7.9" fill="#f9766e"/>
<circle cx="763.0" cy="642.1" r="7.9" fill="#f9766e"/>
<circle cx="719.0" cy="655.6" r="7.9" fill="#f9766e"/>
<circle cx="739.0" cy="655.6" r="7.9" fill="#f9766e"/>
<circle cx="800.0" cy="655.6" r="7.9" fill="#f9766e"/>
<circle cx="817.0" cy="655.6" r="7.9" fill="#f9766e"/>
<circle cx="751.0" cy="664.6" r="7.9" fill="#f9766e"/>
<circle cx="720.0" cy="673.5" r="7.9" fill="#f9766e"/>
<circle cx="767.0" cy="673.5" r="7.9" fill="#f9766e"/>
<circle cx="776.0" cy="682.5" r="7.9" fill="#f9766e"/>
<circle cx="701.0" cy="691.5" r="7.9" fill="#f9766e"/>
<circle cx="755.0" cy="691.5" r="7.9" fill="#f9766e"/>
<circle cx="769.0" cy="691.5" r="7.9" fill="#f9766e"/>
<circle cx="780.5" cy="691.5" r="7.9" fill="#f9766e"/>
<circle cx="754.0" cy="705.0" r="7.9" fill="#f9766e"/>
<circle cx="737.2" cy="709.5" r="7.9" fill="#f9766e"/>
<circle cx="752.0" cy="709.5" r="7.9" fill="#f9766e"/>
<circle cx="778.0" cy="709.5" r="7.9" fill="#f9766e"/>
<circle cx="768.5" cy="718.4" r="7.9" fill="#f9766e"/>
<circle cx="731.0" cy="722.9" r="7.9" fill="#f9766e"/>
<circle cx="857.8" cy="736.4" r="7.9" fill="#f9766e"/>
<circle cx="797.4" cy="745.4" r="7.9" fill="#f9766e"/>
<circle cx="764.7" cy="758.9" r="7.9" fill="#f9766e"/>
<circle cx="725.4" cy="781.3" r="7.9" fill="#f9766e"/>
<circle cx="715.0" cy="781.3" r="7.9" fill="#f9766e"/>
<circle cx="730.3" cy="781.3" r="7.9" fill="#f9766e"/>
<circle cx="764.5" cy="781.3" r="7.9" fill="#f9766e"/>
<circle cx="798.6" cy="781.3" r="7.9" fill="#f9766e"/>
<circle cx="788.9" cy="781.3" r="7.9" fill="#f9766e"/>
<circle cx="780.3" cy="781.3" r="7.9" fill="#f9766e"/>
<circle cx="826.7" cy="781.3" r="7.9" fill="#f9766e"/>
<circle cx="840.0" cy="781.3" r="7.9" fill="#f9766e"/>
<circle cx="778.1" cy="790.3" r="7.9" fill="#f9766e"/>
<circle cx="786.0" cy="920.5" r="7.9" fill="#f9766e"/>
<circle cx="744.7" cy="916.0" r="7.9" fill="#f9766e"/>
<circle cx="781.6" cy="916.0" r="7.9" fill="#f9766e"/>
<circle cx="706.0" cy="934.0" r="7.9" fill="#f9766e"/>
<circle cx="726.0" cy="934.0" r="7.9" fill="#f9766e"/>
<circle cx="768.5" cy="934.0" r="7.9" fill="#f9766e"/>
<circle cx="770.8" cy="934.0" r="7.9" fill="#f9766e"/>
<circle cx="718.3" cy="960.9" r="7.9" fill="#f9766e"/>
<circle cx="819.4" cy="960.9" r="7.9" fill="#f9766e"/>
<circle cx="753.6" cy="969.9" r="7.9" fill="#f9766e"/>
<circle cx="787.9" cy="978.9" r="7.9" fill="#f9766e"/>
<circle cx="705.2" cy="1140.5" r="7.9" fill="#f9766e"/>
<circle cx="745.9" cy="1140.5" r="7.9" fill="#f9766e"/>
<circle cx="772.5" cy="1140.5" r="7.9" fill="#f9766e"/>
<circle cx="767.4" cy="1140.5" r="7.9" fill="#f9766e"/>
<circle cx="757.7" cy="1140.5" r="7.9" fill="#f9766e"/>
<circle cx="809.3" cy="1140.5" r="7.9" fill="#f9766e"/>
<circle cx="813.8" cy="1140.5" r="7.9" fill="#f9766e"/>
<circle cx="707.5" cy="637.6" r="7.9" fill="#86d6fa"/>
<circle cx="697.5" cy="637.6" r="7.9" fill="#86d6fa"/>
<circle cx="718.0" cy="637.6" r="7.9" fill="#86d6fa"/>
<circle cx="747.0" cy="637.6" r="7.9" fill="#86d6fa"/>
<circle cx="711.0" cy="646.6" r="7.9" fill="#86d6fa"/>
<circle cx="702.0" cy="651.1" r="7.9" fill="#86d6fa"/>
<circle cx="691.8" cy="646.6" r="7.9" fill="#86d6fa"/>
<circle cx="713.0" cy="642.1" r="7.9" fill="#86d6fa"/>
<circle cx="732.5" cy="655.6" r="7.9" fill="#86d6fa"/>
<circle cx="747.0" cy="655.6" r="7.9" fill="#86d6fa"/>
<circle cx="757.0" cy="655.6" r="7.9" fill="#86d6fa"/>
<circle cx="795.5" cy="655.6" r="7.9" fill="#86d6fa"/>
<circle cx="768.5" cy="664.6" r="7.9" fill="#86d6fa"/>
<circle cx="698.5" cy="673.5" r="7.9" fill="#86d6fa"/>
<circle cx="706.0" cy="673.5" r="7.9" fill="#86d6fa"/>
<circle cx="752.0" cy="673.5" r="7.9" fill="#86d6fa"/>
<circle cx="691.8" cy="682.5" r="7.9" fill="#86d6fa"/>
<circle cx="771.0" cy="682.5" r="7.9" fill="#86d6fa"/>
<circle cx="686.5" cy="691.5" r="7.9" fill="#86d6fa"/>
<circle cx="696.5" cy="691.5" r="7.9" fill="#86d6fa"/>
<circle cx="750.5" cy="691.5" r="7.9" fill="#86d6fa"/>
<circle cx="820.5" cy="691.5" r="7.9" fill="#86d6fa"/>
<circle cx="837.8" cy="691.5" r="7.9" fill="#86d6fa"/>
<circle cx="693.5" cy="705.0" r="7.9" fill="#86d6fa"/>
<circle cx="761.0" cy="709.5" r="7.9" fill="#86d6fa"/>
<circle cx="770.5" cy="709.5" r="7.9" fill="#86d6fa"/>
<circle cx="790.5" cy="709.5" r="7.9" fill="#86d6fa"/>
<circle cx="686.8" cy="714.0" r="7.9" fill="#86d6fa"/>
<circle cx="757.5" cy="718.4" r="7.9" fill="#86d6fa"/>
<circle cx="875.8" cy="722.9" r="7.9" fill="#86d6fa"/>
<circle cx="879.8" cy="736.4" r="7.9" fill="#86d6fa"/>
<circle cx="792.3" cy="745.4" r="7.9" fill="#86d6fa"/>
<circle cx="831.2" cy="758.9" r="7.9" fill="#86d6fa"/>
<circle cx="743.1" cy="781.3" r="7.9" fill="#86d6fa"/>
<circle cx="770.6" cy="781.3" r="7.9" fill="#86d6fa"/>
<circle cx="807.2" cy="781.3" r="7.9" fill="#86d6fa"/>
<circle cx="832.2" cy="781.3" r="7.9" fill="#86d6fa"/>
<circle cx="818.8" cy="781.3" r="7.9" fill="#86d6fa"/>
<circle cx="845.6" cy="781.3" r="7.9" fill="#86d6fa"/>
<circle cx="865.2" cy="781.3" r="7.9" fill="#86d6fa"/>
<circle cx="887.5" cy="781.3" r="7.9" fill="#86d6fa"/>
<circle cx="807.4" cy="790.3" r="7.9" fill="#86d6fa"/>
<circle cx="849.5" cy="920.5" r="7.9" fill="#86d6fa"/>
<circle cx="841.0" cy="916.0" r="7.9" fill="#86d6fa"/>
<circle cx="893.3" cy="916.0" r="7.9" fill="#86d6fa"/>
<circle cx="795.0" cy="934.0" r="7.9" fill="#86d6fa"/>
<circle cx="810.8" cy="934.0" r="7.9" fill="#86d6fa"/>
<circle cx="799.3" cy="934.0" r="7.9" fill="#86d6fa"/>
<circle cx="831.1" cy="934.0" r="7.9" fill="#86d6fa"/>
<circle cx="806.0" cy="969.9" r="7.9" fill="#86d6fa"/>
<circle cx="836.2" cy="960.9" r="7.9" fill="#86d6fa"/>
<circle cx="917.8" cy="960.9" r="7.9" fill="#86d6fa"/>
<circle cx="875.1" cy="978.9" r="7.9" fill="#86d6fa"/>
<circle cx="923.7" cy="978.9" r="7.9" fill="#86d6fa"/>
<circle cx="785.8" cy="1140.5" r="7.9" fill="#86d6fa"/>
<circle cx="792.8" cy="1140.5" r="7.9" fill="#86d6fa"/>
<circle cx="779.5" cy="1140.5" r="7.9" fill="#86d6fa"/>
<circle cx="802.4" cy="1140.5" r="7.9" fill="#86d6fa"/>
<circle cx="832.2" cy="1140.5" r="7.9" fill="#86d6fa"/>
<circle cx="823.9" cy="1140.5" r="7.9" fill="#86d6fa"/>
<circle cx="843.0" cy="1140.5" r="7.9" fill="#86d6fa"/>
<circle cx="863.9" cy="1140.5" r="7.9" fill="#86d6fa"/>
<circle cx="854.8" cy="1140.5" r="7.9" fill="#86d6fa"/>
<circle cx="927.8" cy="1140.5" r="7.9" fill="#86d6fa"/>
</g>
<rect x="618.2" y="584.0" width="382.6" height="601.3" fill="none" stroke="#000" stroke-width="2.5"/>
<line x1="618.2" x2="618.2" y1="574.1" y2="584.0" stroke="#000" stroke-width="2.4"/>
<text x="617.8" y="561" text-anchor="middle" font-size="28.6" letter-spacing="-1.5">0.0</text>
<line x1="694.7" x2="694.7" y1="574.1" y2="584.0" stroke="#000" stroke-width="2.4"/>
<text x="694.3" y="561" text-anchor="middle" font-size="28.6" letter-spacing="-1.5">0.3</text>
<line x1="771.2" x2="771.2" y1="574.1" y2="584.0" stroke="#000" stroke-width="2.4"/>
<text x="770.8" y="561" text-anchor="middle" font-size="28.6" letter-spacing="-1.5">0.6</text>
<line x1="847.8" x2="847.8" y1="574.1" y2="584.0" stroke="#000" stroke-width="2.4"/>
<text x="847.4" y="561" text-anchor="middle" font-size="28.6" letter-spacing="-1.5">0.9</text>
<line x1="924.3" x2="924.3" y1="574.1" y2="584.0" stroke="#000" stroke-width="2.4"/>
<text x="923.9" y="561" text-anchor="middle" font-size="28.6" letter-spacing="-1.5">1.2</text>
<line x1="1000.8" x2="1000.8" y1="574.1" y2="584.0" stroke="#000" stroke-width="2.4"/>
<text x="1000.4" y="561" text-anchor="middle" font-size="28.6" letter-spacing="-1.5">1.5</text>
<line x1="608.2" x2="618.2" y1="601.7" y2="601.7" stroke="#000" stroke-width="2.4"/>
<text x="599.6" y="609.9" text-anchor="end" font-size="28" letter-spacing="-1.3">0</text>
<line x1="608.2" x2="618.2" y1="691.5" y2="691.5" stroke="#000" stroke-width="2.4"/>
<text x="599.6" y="699.7" text-anchor="end" font-size="28" letter-spacing="-1.3">100</text>
<line x1="608.2" x2="618.2" y1="781.3" y2="781.3" stroke="#000" stroke-width="2.4"/>
<text x="599.6" y="789.5" text-anchor="end" font-size="28" letter-spacing="-1.3">200</text>
<line x1="608.2" x2="618.2" y1="871.1" y2="871.1" stroke="#000" stroke-width="2.4"/>
<text x="599.6" y="879.3" text-anchor="end" font-size="28" letter-spacing="-1.3">300</text>
<line x1="608.2" x2="618.2" y1="960.9" y2="960.9" stroke="#000" stroke-width="2.4"/>
<text x="599.6" y="969.1" text-anchor="end" font-size="28" letter-spacing="-1.3">400</text>
<line x1="608.2" x2="618.2" y1="1050.7" y2="1050.7" stroke="#000" stroke-width="2.4"/>
<text x="599.6" y="1058.9" text-anchor="end" font-size="28" letter-spacing="-1.3">500</text>
<line x1="608.2" x2="618.2" y1="1140.5" y2="1140.5" stroke="#000" stroke-width="2.4"/>
<text x="599.6" y="1148.7" text-anchor="end" font-size="28" letter-spacing="-1.3">600</text>
<text x="815.0" y="519" text-anchor="middle" font-size="30.6" letter-spacing="-0.7">D-AA (mol%)</text>
<g stroke="#0d0d0d" stroke-width="1.6">
<circle cx="1193.0" cy="637.6" r="7.9" fill="#f9766e"/>
<circle cx="1216.5" cy="637.6" r="7.9" fill="#f9766e"/>
<circle cx="1201.0" cy="646.6" r="7.9" fill="#f9766e"/>
<circle cx="1161.0" cy="655.6" r="7.9" fill="#f9766e"/>
<circle cx="1230.5" cy="655.6" r="7.9" fill="#f9766e"/>
<circle cx="1241.5" cy="655.6" r="7.9" fill="#f9766e"/>
<circle cx="1254.0" cy="655.6" r="7.9" fill="#f9766e"/>
<circle cx="1206.5" cy="664.6" r="7.9" fill="#f9766e"/>
<circle cx="1156.5" cy="673.5" r="7.9" fill="#f9766e"/>
<circle cx="1224.0" cy="673.5" r="7.9" fill="#f9766e"/>
<circle cx="1234.0" cy="682.5" r="7.9" fill="#f9766e"/>
<circle cx="1248.5" cy="691.5" r="7.9" fill="#f9766e"/>
<circle cx="1301.2" cy="691.5" r="7.9" fill="#f9766e"/>
<circle cx="1207.0" cy="714.0" r="7.9" fill="#f9766e"/>
<circle cx="1207.5" cy="705.0" r="7.9" fill="#f9766e"/>
<circle cx="1191.5" cy="709.5" r="7.9" fill="#f9766e"/>
<circle cx="1223.0" cy="709.5" r="7.9" fill="#f9766e"/>
<circle cx="1215.0" cy="718.4" r="7.9" fill="#f9766e"/>
<circle cx="1302.5" cy="722.9" r="7.9" fill="#f9766e"/>
<circle cx="1226.5" cy="736.4" r="7.9" fill="#f9766e"/>
<circle cx="1218.5" cy="745.4" r="7.9" fill="#f9766e"/>
<circle cx="1226.5" cy="758.9" r="7.9" fill="#f9766e"/>
<circle cx="1215.0" cy="781.3" r="7.9" fill="#f9766e"/>
<circle cx="1223.0" cy="781.3" r="7.9" fill="#f9766e"/>
<circle cx="1241.0" cy="781.3" r="7.9" fill="#f9766e"/>
<circle cx="1249.5" cy="781.3" r="7.9" fill="#f9766e"/>
<circle cx="1234.8" cy="781.3" r="7.9" fill="#f9766e"/>
<circle cx="1242.2" cy="790.3" r="7.9" fill="#f9766e"/>
<circle cx="1231.9" cy="920.5" r="7.9" fill="#f9766e"/>
<circle cx="1223.3" cy="916.0" r="7.9" fill="#f9766e"/>
<circle cx="1247.1" cy="916.0" r="7.9" fill="#f9766e"/>
<circle cx="1215.4" cy="934.0" r="7.9" fill="#f9766e"/>
<circle cx="1224.0" cy="934.0" r="7.9" fill="#f9766e"/>
<circle cx="1241.8" cy="934.0" r="7.9" fill="#f9766e"/>
<circle cx="1307.8" cy="934.0" r="7.9" fill="#f9766e"/>
<circle cx="1227.5" cy="960.9" r="7.9" fill="#f9766e"/>
<circle cx="1309.0" cy="960.9" r="7.9" fill="#f9766e"/>
<circle cx="1274.4" cy="969.9" r="7.9" fill="#f9766e"/>
<circle cx="1240.8" cy="978.9" r="7.9" fill="#f9766e"/>
<circle cx="1216.0" cy="1140.5" r="7.9" fill="#f9766e"/>
<circle cx="1220.5" cy="1140.5" r="7.9" fill="#f9766e"/>
<circle cx="1218.2" cy="1140.5" r="7.9" fill="#f9766e"/>
<circle cx="1245.9" cy="1140.5" r="7.9" fill="#f9766e"/>
<circle cx="1251.6" cy="1140.5" r="7.9" fill="#f9766e"/>
<circle cx="1267.4" cy="1140.5" r="7.9" fill="#f9766e"/>
<circle cx="1258.9" cy="1140.5" r="7.9" fill="#f9766e"/>
<circle cx="1284.0" cy="1140.5" r="7.9" fill="#f9766e"/>
<circle cx="1277.6" cy="1140.5" r="7.9" fill="#f9766e"/>
<circle cx="1182.8" cy="664.6" r="7.9" fill="#86d6fa"/>
<circle cx="1170.0" cy="651.1" r="7.9" fill="#86d6fa"/>
<circle cx="1189.0" cy="655.6" r="7.9" fill="#86d6fa"/>
<circle cx="1178.0" cy="646.6" r="7.9" fill="#86d6fa"/>
<circle cx="1171.0" cy="646.6" r="7.9" fill="#86d6fa"/>
<circle cx="1179.0" cy="637.6" r="7.9" fill="#86d6fa"/>
<circle cx="1169.5" cy="637.6" r="7.9" fill="#86d6fa"/>
<circle cx="1175.0" cy="637.6" r="7.9" fill="#86d6fa"/>
<circle cx="1153.0" cy="655.6" r="7.9" fill="#86d6fa"/>
<circle cx="1184.0" cy="655.6" r="7.9" fill="#86d6fa"/>
<circle cx="1187.0" cy="642.1" r="7.9" fill="#86d6fa"/>
<circle cx="1213.0" cy="673.5" r="7.9" fill="#86d6fa"/>
<circle cx="1203.0" cy="673.5" r="7.9" fill="#86d6fa"/>
<circle cx="1238.0" cy="673.5" r="7.9" fill="#86d6fa"/>
<circle cx="1207.0" cy="682.5" r="7.9" fill="#86d6fa"/>
<circle cx="1225.5" cy="682.5" r="7.9" fill="#86d6fa"/>
<circle cx="1219.0" cy="691.5" r="7.9" fill="#86d6fa"/>
<circle cx="1202.5" cy="691.5" r="7.9" fill="#86d6fa"/>
<circle cx="1213.0" cy="691.5" r="7.9" fill="#86d6fa"/>
<circle cx="1236.5" cy="691.5" r="7.9" fill="#86d6fa"/>
<circle cx="1234.0" cy="709.5" r="7.9" fill="#86d6fa"/>
<circle cx="1251.5" cy="709.5" r="7.9" fill="#86d6fa"/>
<circle cx="1264.0" cy="709.5" r="7.9" fill="#86d6fa"/>
<circle cx="1244.5" cy="705.0" r="7.9" fill="#86d6fa"/>
<circle cx="1236.0" cy="714.0" r="7.9" fill="#86d6fa"/>
<circle cx="1277.7" cy="718.4" r="7.9" fill="#86d6fa"/>
<circle cx="1293.3" cy="722.9" r="7.9" fill="#86d6fa"/>
<circle cx="1252.5" cy="736.4" r="7.9" fill="#86d6fa"/>
<circle cx="1253.0" cy="745.4" r="7.9" fill="#86d6fa"/>
<circle cx="1266.5" cy="758.9" r="7.9" fill="#86d6fa"/>
<circle cx="1275.3" cy="781.3" r="7.9" fill="#86d6fa"/>
<circle cx="1296.0" cy="781.3" r="7.9" fill="#86d6fa"/>
<circle cx="1309.0" cy="781.3" r="7.9" fill="#86d6fa"/>
<circle cx="1320.0" cy="781.3" r="7.9" fill="#86d6fa"/>
<circle cx="1326.0" cy="781.3" r="7.9" fill="#86d6fa"/>
<circle cx="1315.0" cy="790.3" r="7.9" fill="#86d6fa"/>
<circle cx="1343.0" cy="916.0" r="7.9" fill="#86d6fa"/>
<circle cx="1337.9" cy="916.0" r="7.9" fill="#86d6fa"/>
<circle cx="1361.8" cy="920.5" r="7.9" fill="#86d6fa"/>
<circle cx="1332.8" cy="934.0" r="7.9" fill="#86d6fa"/>
<circle cx="1345.5" cy="934.0" r="7.9" fill="#86d6fa"/>
<circle cx="1341.1" cy="934.0" r="7.9" fill="#86d6fa"/>
<circle cx="1330.0" cy="960.9" r="7.9" fill="#86d6fa"/>
<circle cx="1366.8" cy="960.9" r="7.9" fill="#86d6fa"/>
<circle cx="1356.3" cy="969.9" r="7.9" fill="#86d6fa"/>
<circle cx="1351.5" cy="978.9" r="7.9" fill="#86d6fa"/>
<circle cx="1381.7" cy="978.9" r="7.9" fill="#86d6fa"/>
<circle cx="1298.9" cy="1140.5" r="7.9" fill="#86d6fa"/>
<circle cx="1346.8" cy="1140.5" r="7.9" fill="#86d6fa"/>
<circle cx="1341.3" cy="1140.5" r="7.9" fill="#86d6fa"/>
<circle cx="1360.0" cy="1140.5" r="7.9" fill="#86d6fa"/>
<circle cx="1364.6" cy="1140.5" r="7.9" fill="#86d6fa"/>
<circle cx="1384.0" cy="1140.5" r="7.9" fill="#86d6fa"/>
<circle cx="1375.6" cy="1140.5" r="7.9" fill="#86d6fa"/>
<circle cx="1392.5" cy="1140.5" r="7.9" fill="#86d6fa"/>
</g>
<rect x="1116.7" y="584.0" width="382.5" height="601.3" fill="none" stroke="#000" stroke-width="2.5"/>
<line x1="1116.7" x2="1116.7" y1="574.1" y2="584.0" stroke="#000" stroke-width="2.4"/>
<text x="1116.3" y="561" text-anchor="middle" font-size="28.6" letter-spacing="-1.5">10</text>
<line x1="1244.2" x2="1244.2" y1="574.1" y2="584.0" stroke="#000" stroke-width="2.4"/>
<text x="1243.8" y="561" text-anchor="middle" font-size="28.6" letter-spacing="-1.5">15</text>
<line x1="1371.7" x2="1371.7" y1="574.1" y2="584.0" stroke="#000" stroke-width="2.4"/>
<text x="1371.3" y="561" text-anchor="middle" font-size="28.6" letter-spacing="-1.5">20</text>
<line x1="1499.2" x2="1499.2" y1="574.1" y2="584.0" stroke="#000" stroke-width="2.4"/>
<text x="1498.8" y="561" text-anchor="middle" font-size="28.6" letter-spacing="-1.5">25</text>
<line x1="1106.7" x2="1116.7" y1="601.7" y2="601.7" stroke="#000" stroke-width="2.4"/>
<text x="1098.1" y="609.9" text-anchor="end" font-size="28" letter-spacing="-1.3">0</text>
<line x1="1106.7" x2="1116.7" y1="691.5" y2="691.5" stroke="#000" stroke-width="2.4"/>
<text x="1098.1" y="699.7" text-anchor="end" font-size="28" letter-spacing="-1.3">100</text>
<line x1="1106.7" x2="1116.7" y1="781.3" y2="781.3" stroke="#000" stroke-width="2.4"/>
<text x="1098.1" y="789.5" text-anchor="end" font-size="28" letter-spacing="-1.3">200</text>
<line x1="1106.7" x2="1116.7" y1="871.1" y2="871.1" stroke="#000" stroke-width="2.4"/>
<text x="1098.1" y="879.3" text-anchor="end" font-size="28" letter-spacing="-1.3">300</text>
<line x1="1106.7" x2="1116.7" y1="960.9" y2="960.9" stroke="#000" stroke-width="2.4"/>
<text x="1098.1" y="969.1" text-anchor="end" font-size="28" letter-spacing="-1.3">400</text>
<line x1="1106.7" x2="1116.7" y1="1050.7" y2="1050.7" stroke="#000" stroke-width="2.4"/>
<text x="1098.1" y="1058.9" text-anchor="end" font-size="28" letter-spacing="-1.3">500</text>
<line x1="1106.7" x2="1116.7" y1="1140.5" y2="1140.5" stroke="#000" stroke-width="2.4"/>
<text x="1098.1" y="1148.7" text-anchor="end" font-size="28" letter-spacing="-1.3">600</text>
<text x="1310.7" y="519" text-anchor="middle" font-size="30.6" letter-spacing="-0.7">Gly (mol%)</text>
<g stroke="#0d0d0d" stroke-width="1.6">
<circle cx="1635.0" cy="637.6" r="7.9" fill="#f9766e"/>
<circle cx="1641.5" cy="637.6" r="7.9" fill="#f9766e"/>
<circle cx="1721.5" cy="642.1" r="7.9" fill="#f9766e"/>
<circle cx="1662.0" cy="646.6" r="7.9" fill="#f9766e"/>
<circle cx="1874.0" cy="646.6" r="7.9" fill="#f9766e"/>
<circle cx="1655.8" cy="655.6" r="7.9" fill="#f9766e"/>
<circle cx="1677.0" cy="655.6" r="7.9" fill="#f9766e"/>
<circle cx="1696.0" cy="655.6" r="7.9" fill="#f9766e"/>
<circle cx="1696.5" cy="664.6" r="7.9" fill="#f9766e"/>
<circle cx="1657.5" cy="673.5" r="7.9" fill="#f9766e"/>
<circle cx="1712.0" cy="673.5" r="7.9" fill="#f9766e"/>
<circle cx="1651.5" cy="682.5" r="7.9" fill="#f9766e"/>
<circle cx="1706.0" cy="682.5" r="7.9" fill="#f9766e"/>
<circle cx="1660.0" cy="691.5" r="7.9" fill="#f9766e"/>
<circle cx="1654.5" cy="691.5" r="7.9" fill="#f9766e"/>
<circle cx="1673.0" cy="691.5" r="7.9" fill="#f9766e"/>
<circle cx="1687.5" cy="691.5" r="7.9" fill="#f9766e"/>
<circle cx="1690.5" cy="705.0" r="7.9" fill="#f9766e"/>
<circle cx="1669.0" cy="709.5" r="7.9" fill="#f9766e"/>
<circle cx="1744.0" cy="709.5" r="7.9" fill="#f9766e"/>
<circle cx="1680.0" cy="718.4" r="7.9" fill="#f9766e"/>
<circle cx="1684.0" cy="714.0" r="7.9" fill="#f9766e"/>
<circle cx="1707.0" cy="722.9" r="7.9" fill="#f9766e"/>
<circle cx="1691.0" cy="736.4" r="7.9" fill="#f9766e"/>
<circle cx="1690.0" cy="745.4" r="7.9" fill="#f9766e"/>
<circle cx="1706.5" cy="758.9" r="7.9" fill="#f9766e"/>
<circle cx="1688.8" cy="790.3" r="7.9" fill="#f9766e"/>
<circle cx="1687.0" cy="781.3" r="7.9" fill="#f9766e"/>
<circle cx="1695.5" cy="781.3" r="7.9" fill="#f9766e"/>
<circle cx="1712.0" cy="781.3" r="7.9" fill="#f9766e"/>
<circle cx="1707.0" cy="781.3" r="7.9" fill="#f9766e"/>
<circle cx="1726.0" cy="781.3" r="7.9" fill="#f9766e"/>
<circle cx="1798.0" cy="781.3" r="7.9" fill="#f9766e"/>
<circle cx="1696.3" cy="916.0" r="7.9" fill="#f9766e"/>
<circle cx="1718.8" cy="916.0" r="7.9" fill="#f9766e"/>
<circle cx="1680.8" cy="920.5" r="7.9" fill="#f9766e"/>
<circle cx="1672.9" cy="934.0" r="7.9" fill="#f9766e"/>
<circle cx="1694.7" cy="934.0" r="7.9" fill="#f9766e"/>
<circle cx="1729.6" cy="934.0" r="7.9" fill="#f9766e"/>
<circle cx="1763.0" cy="934.0" r="7.9" fill="#f9766e"/>
<circle cx="1729.6" cy="960.9" r="7.9" fill="#f9766e"/>
<circle cx="1775.0" cy="960.9" r="7.9" fill="#f9766e"/>
<circle cx="1702.7" cy="969.9" r="7.9" fill="#f9766e"/>
<circle cx="1695.1" cy="978.9" r="7.9" fill="#f9766e"/>
<circle cx="1669.8" cy="1140.5" r="7.9" fill="#f9766e"/>
<circle cx="1674.9" cy="1140.5" r="7.9" fill="#f9766e"/>
<circle cx="1672.8" cy="1140.5" r="7.9" fill="#f9766e"/>
<circle cx="1696.5" cy="1140.5" r="7.9" fill="#f9766e"/>
<circle cx="1699.7" cy="1140.5" r="7.9" fill="#f9766e"/>
<circle cx="1704.1" cy="1140.5" r="7.9" fill="#f9766e"/>
<circle cx="1723.2" cy="1140.5" r="7.9" fill="#f9766e"/>
<circle cx="1733.6" cy="1140.5" r="7.9" fill="#f9766e"/>
<circle cx="1687.0" cy="651.1" r="7.9" fill="#86d6fa"/>
<circle cx="1696.0" cy="651.1" r="7.9" fill="#86d6fa"/>
<circle cx="1702.0" cy="646.6" r="7.9" fill="#86d6fa"/>
<circle cx="1676.5" cy="637.6" r="7.9" fill="#86d6fa"/>
<circle cx="1653.5" cy="637.6" r="7.9" fill="#86d6fa"/>
<circle cx="1662.5" cy="637.6" r="7.9" fill="#86d6fa"/>
<circle cx="1692.5" cy="642.1" r="7.9" fill="#86d6fa"/>
<circle cx="1677.5" cy="646.6" r="7.9" fill="#86d6fa"/>
<circle cx="1730.0" cy="664.6" r="7.9" fill="#86d6fa"/>
<circle cx="1706.2" cy="655.6" r="7.9" fill="#86d6fa"/>
<circle cx="1732.3" cy="655.6" r="7.9" fill="#86d6fa"/>
<circle cx="1771.4" cy="655.6" r="7.9" fill="#86d6fa"/>
<circle cx="1683.0" cy="673.5" r="7.9" fill="#86d6fa"/>
<circle cx="1687.5" cy="673.5" r="7.9" fill="#86d6fa"/>
<circle cx="1729.5" cy="682.5" r="7.9" fill="#86d6fa"/>
<circle cx="1711.0" cy="682.5" r="7.9" fill="#86d6fa"/>
<circle cx="1732.0" cy="691.5" r="7.9" fill="#86d6fa"/>
<circle cx="1724.5" cy="691.5" r="7.9" fill="#86d6fa"/>
<circle cx="1715.5" cy="691.5" r="7.9" fill="#86d6fa"/>
<circle cx="1706.2" cy="691.5" r="7.9" fill="#86d6fa"/>
<circle cx="1708.0" cy="709.5" r="7.9" fill="#86d6fa"/>
<circle cx="1732.0" cy="709.5" r="7.9" fill="#86d6fa"/>
<circle cx="1715.0" cy="709.5" r="7.9" fill="#86d6fa"/>
<circle cx="1730.0" cy="705.0" r="7.9" fill="#86d6fa"/>
<circle cx="1708.7" cy="714.0" r="7.9" fill="#86d6fa"/>
<circle cx="1750.5" cy="718.4" r="7.9" fill="#86d6fa"/>
<circle cx="1667.7" cy="722.9" r="7.9" fill="#86d6fa"/>
<circle cx="1733.2" cy="736.4" r="7.9" fill="#86d6fa"/>
<circle cx="1716.3" cy="745.4" r="7.9" fill="#86d6fa"/>
<circle cx="1718.7" cy="758.9" r="7.9" fill="#86d6fa"/>
<circle cx="1733.5" cy="781.3" r="7.9" fill="#86d6fa"/>
<circle cx="1719.5" cy="781.3" r="7.9" fill="#86d6fa"/>
<circle cx="1761.0" cy="781.3" r="7.9" fill="#86d6fa"/>
<circle cx="1756.0" cy="781.3" r="7.9" fill="#86d6fa"/>
<circle cx="1745.0" cy="781.3" r="7.9" fill="#86d6fa"/>
<circle cx="1781.0" cy="781.3" r="7.9" fill="#86d6fa"/>
<circle cx="1777.0" cy="781.3" r="7.9" fill="#86d6fa"/>
<circle cx="1963.5" cy="781.3" r="7.9" fill="#86d6fa"/>
<circle cx="1727.5" cy="790.3" r="7.9" fill="#86d6fa"/>
<circle cx="1790.3" cy="920.5" r="7.9" fill="#86d6fa"/>
<circle cx="1779.5" cy="916.0" r="7.9" fill="#86d6fa"/>
<circle cx="1800.7" cy="916.0" r="7.9" fill="#86d6fa"/>
<circle cx="1749.7" cy="934.0" r="7.9" fill="#86d6fa"/>
<circle cx="1757.9" cy="934.0" r="7.9" fill="#86d6fa"/>
<circle cx="1778.2" cy="934.0" r="7.9" fill="#86d6fa"/>
<circle cx="1786.5" cy="934.0" r="7.9" fill="#86d6fa"/>
<circle cx="1779.5" cy="960.9" r="7.9" fill="#86d6fa"/>
<circle cx="1843.0" cy="960.9" r="7.9" fill="#86d6fa"/>
<circle cx="1757.3" cy="969.9" r="7.9" fill="#86d6fa"/>
<circle cx="1758.2" cy="978.9" r="7.9" fill="#86d6fa"/>
<circle cx="1779.5" cy="978.9" r="7.9" fill="#86d6fa"/>
<circle cx="1751.7" cy="1140.5" r="7.9" fill="#86d6fa"/>
<circle cx="1758.1" cy="1140.5" r="7.9" fill="#86d6fa"/>
<circle cx="1782.8" cy="1140.5" r="7.9" fill="#86d6fa"/>
<circle cx="1777.1" cy="1140.5" r="7.9" fill="#86d6fa"/>
<circle cx="1800.0" cy="1140.5" r="7.9" fill="#86d6fa"/>
<circle cx="1818.4" cy="1140.5" r="7.9" fill="#86d6fa"/>
<circle cx="1807.6" cy="1140.5" r="7.9" fill="#86d6fa"/>
<circle cx="1717.4" cy="1140.5" r="7.9" fill="#86d6fa"/>
<circle cx="1846.5" cy="1140.5" r="7.9" fill="#86d6fa"/>
</g>
<rect x="1614.5" y="584.0" width="383.1" height="601.3" fill="none" stroke="#000" stroke-width="2.5"/>
<line x1="1614.5" x2="1614.5" y1="574.1" y2="584.0" stroke="#000" stroke-width="2.4"/>
<text x="1614.1" y="561" text-anchor="middle" font-size="28.6" letter-spacing="-1.5">0.0</text>
<line x1="1691.1" x2="1691.1" y1="574.1" y2="584.0" stroke="#000" stroke-width="2.4"/>
<text x="1690.7" y="561" text-anchor="middle" font-size="28.6" letter-spacing="-1.5">0.3</text>
<line x1="1767.7" x2="1767.7" y1="574.1" y2="584.0" stroke="#000" stroke-width="2.4"/>
<text x="1767.3" y="561" text-anchor="middle" font-size="28.6" letter-spacing="-1.5">0.6</text>
<line x1="1844.4" x2="1844.4" y1="574.1" y2="584.0" stroke="#000" stroke-width="2.4"/>
<text x="1844.0" y="561" text-anchor="middle" font-size="28.6" letter-spacing="-1.5">0.9</text>
<line x1="1921.0" x2="1921.0" y1="574.1" y2="584.0" stroke="#000" stroke-width="2.4"/>
<text x="1920.6" y="561" text-anchor="middle" font-size="28.6" letter-spacing="-1.5">1.2</text>
<line x1="1997.6" x2="1997.6" y1="574.1" y2="584.0" stroke="#000" stroke-width="2.4"/>
<text x="1997.2" y="561" text-anchor="middle" font-size="28.6" letter-spacing="-1.5">1.5</text>
<line x1="1604.5" x2="1614.5" y1="601.7" y2="601.7" stroke="#000" stroke-width="2.4"/>
<text x="1595.9" y="609.9" text-anchor="end" font-size="28" letter-spacing="-1.3">0</text>
<line x1="1604.5" x2="1614.5" y1="691.5" y2="691.5" stroke="#000" stroke-width="2.4"/>
<text x="1595.9" y="699.7" text-anchor="end" font-size="28" letter-spacing="-1.3">100</text>
<line x1="1604.5" x2="1614.5" y1="781.3" y2="781.3" stroke="#000" stroke-width="2.4"/>
<text x="1595.9" y="789.5" text-anchor="end" font-size="28" letter-spacing="-1.3">200</text>
<line x1="1604.5" x2="1614.5" y1="871.1" y2="871.1" stroke="#000" stroke-width="2.4"/>
<text x="1595.9" y="879.3" text-anchor="end" font-size="28" letter-spacing="-1.3">300</text>
<line x1="1604.5" x2="1614.5" y1="960.9" y2="960.9" stroke="#000" stroke-width="2.4"/>
<text x="1595.9" y="969.1" text-anchor="end" font-size="28" letter-spacing="-1.3">400</text>
<line x1="1604.5" x2="1614.5" y1="1050.7" y2="1050.7" stroke="#000" stroke-width="2.4"/>
<text x="1595.9" y="1058.9" text-anchor="end" font-size="28" letter-spacing="-1.3">500</text>
<line x1="1604.5" x2="1614.5" y1="1140.5" y2="1140.5" stroke="#000" stroke-width="2.4"/>
<text x="1595.9" y="1148.7" text-anchor="end" font-size="28" letter-spacing="-1.3">600</text>
<text x="1809.4" y="519" text-anchor="middle" font-size="30.6" letter-spacing="-0.7">β-Ala+γ-Aba (mol%)</text>
<rect x="370.4" y="1107.5" width="127.1" height="71.2" rx="1" fill="#fff" stroke="#6e6e6e" stroke-width="1.1"/>
<circle cx="404.2" cy="1126.7" r="7.9" fill="#f9766e" stroke="#111" stroke-width="1.6"/>
<circle cx="404.2" cy="1160.4" r="7.9" fill="#86d6fa" stroke="#111" stroke-width="1.6"/>
<text x="441" y="1135.8" font-size="27.3" letter-spacing="-0.5">LSF</text>
<text x="441.3" y="1169.6" font-size="27.3" letter-spacing="-0.5">SSF</text>
</svg></body></html>
